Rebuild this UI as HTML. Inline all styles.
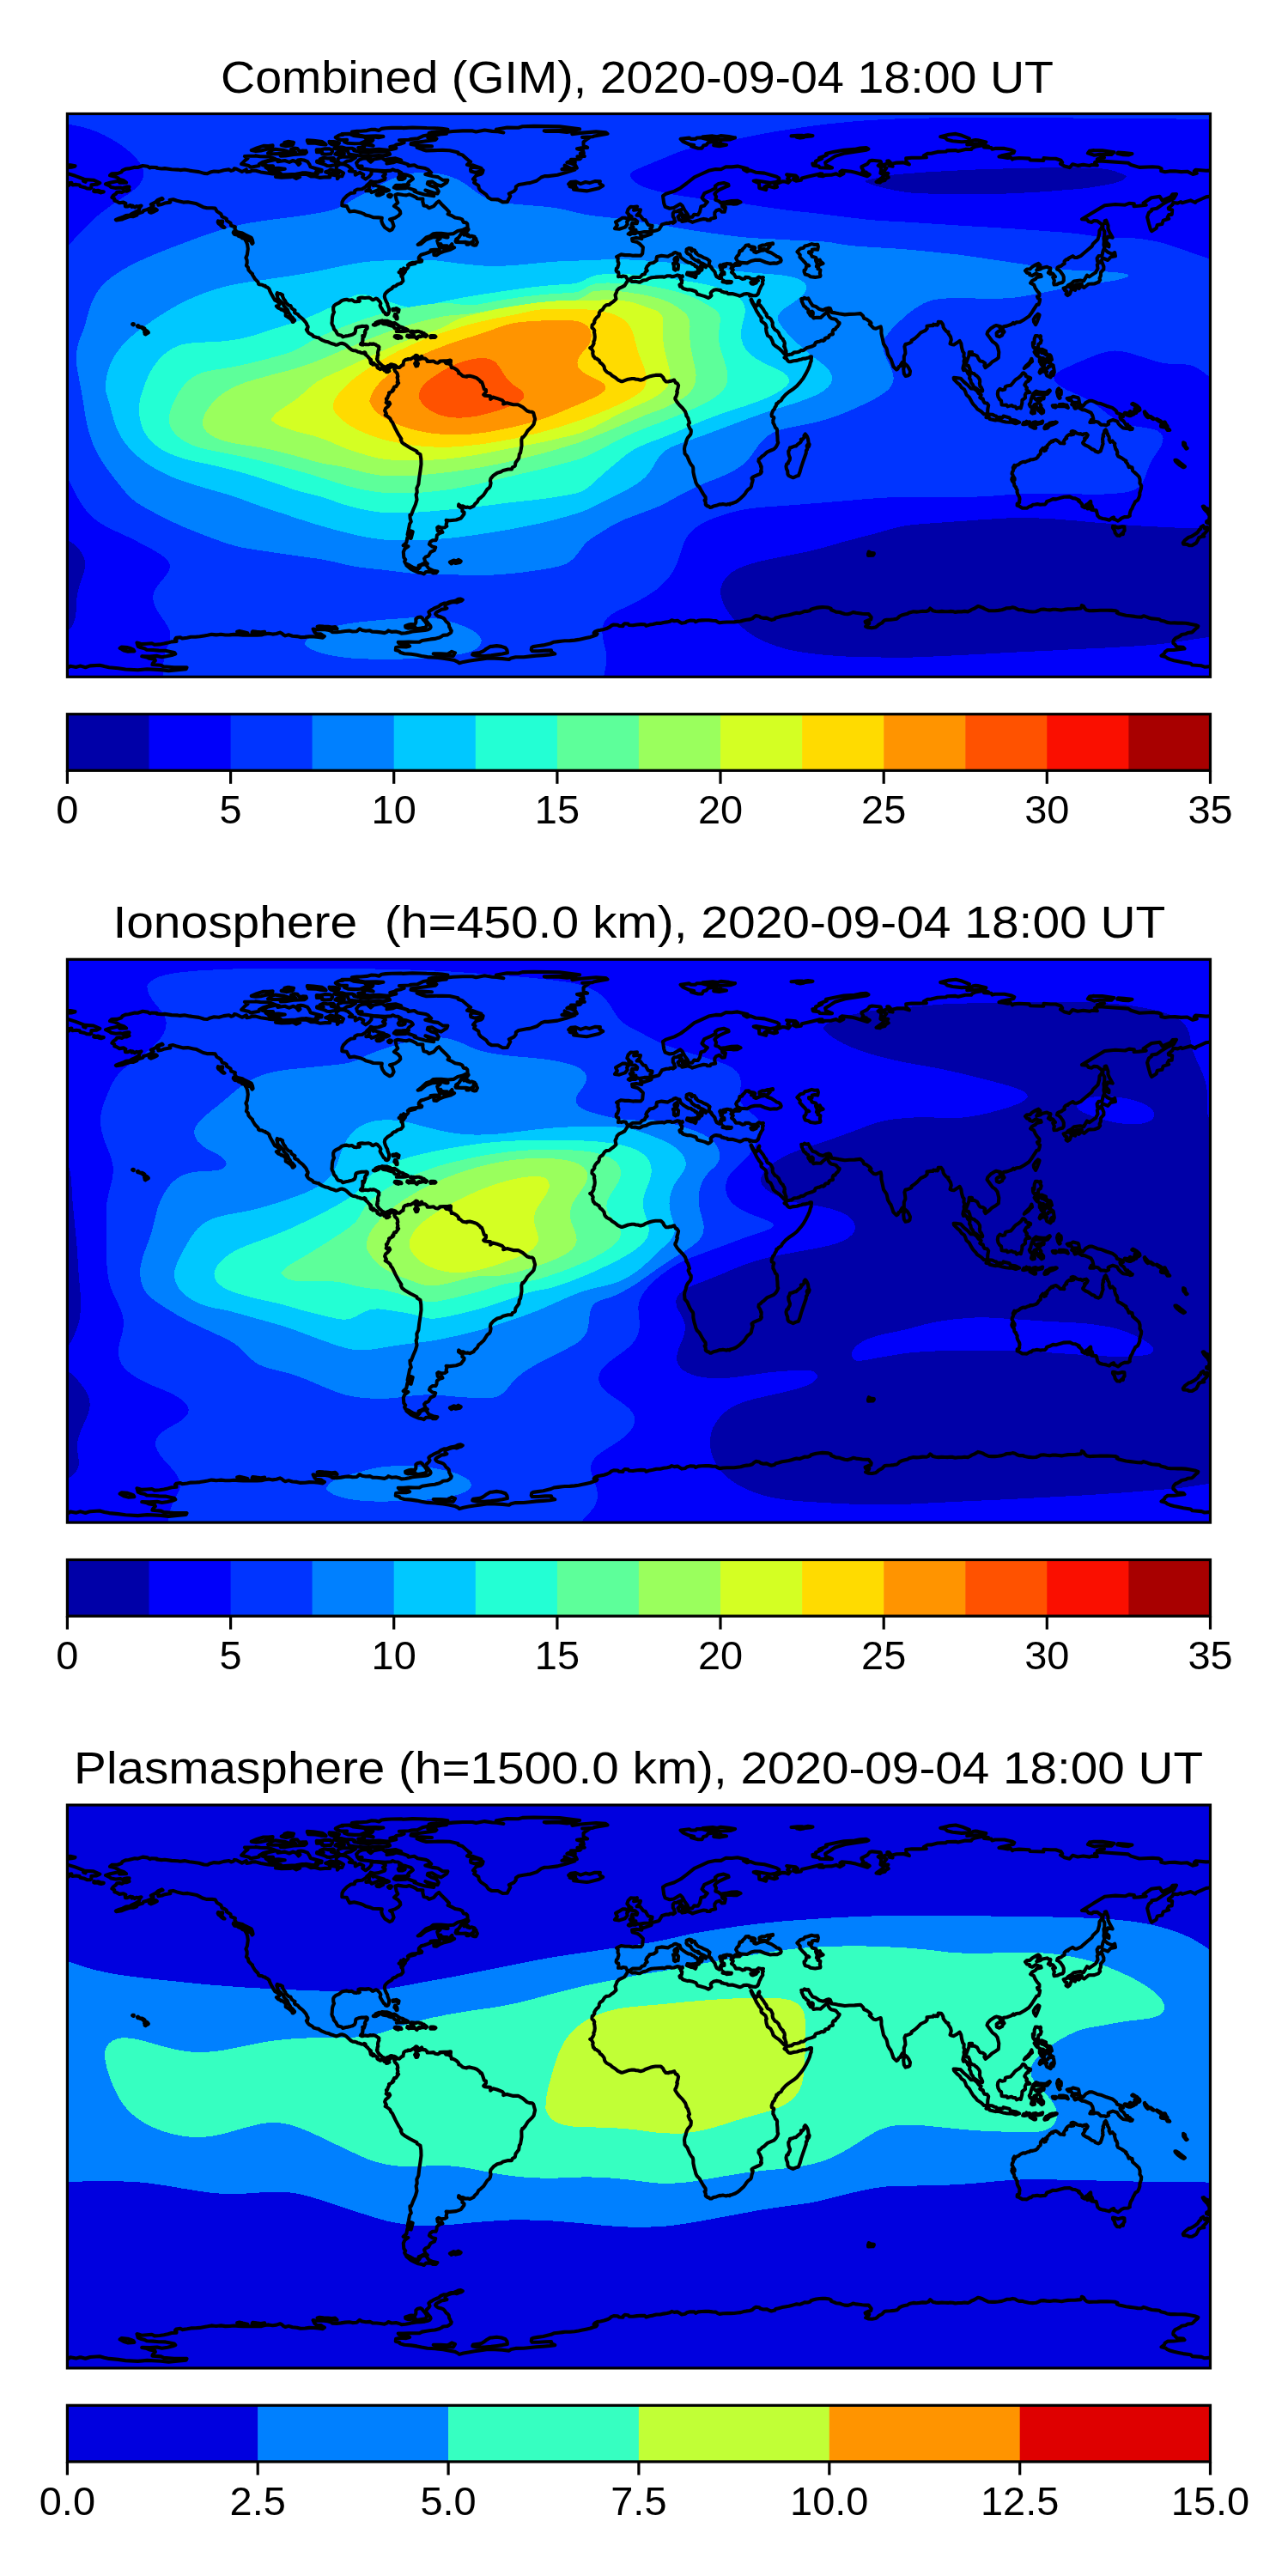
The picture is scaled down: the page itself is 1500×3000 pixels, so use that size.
<!DOCTYPE html>
<html lang="en">
<head>
<meta charset="utf-8">
<title>GIM TEC maps 2020-09-04 18:00 UT</title>
<style>
html,body{margin:0;padding:0;background:#fff;}
body{width:1500px;height:3000px;overflow:hidden;}
svg{display:block;will-change:transform;}
text{font-family:"Liberation Sans",sans-serif;fill:#000;}
.ttl{font-size:51px;}
.lbl{font-size:46.5px;}
.coast{fill:none;stroke:#000;stroke-width:4.1;stroke-linejoin:round;stroke-linecap:round;}
.frame{fill:none;stroke:#000;stroke-width:3.2;stroke-linejoin:miter;}
.tick{stroke:#000;stroke-width:3.2;}
</style>
</head>
<body>
<svg xmlns="http://www.w3.org/2000/svg" width="1500" height="3000" viewBox="0 0 1500 3000">
<rect width="1500" height="3000" fill="#fff"/>
<defs>
<clipPath id="axclip"><rect x="0" y="0" width="1331.1" height="655.8"/></clipPath>
<g id="coast" class="coast">
<path d="M391.3 502.7L394.9 499.4L396.1 493.2L400.3 494.5L402.3 486.7L399.7 485.7L398.6 490.4L396.2 489.9L397.4 484.5L398.7 477.6L400.4 475L399.3 471.3L399 467.2L400.6 467L402.9 461L405.5 455L407.1 449.4L406.2 443.8L407.3 440.7L406.9 436L409 431.5L409.8 424.2L411 416.4L412.1 408.1L411.9 401.9L411.1 396.7L407.3 394.5L407 393L399.6 389.2L392.8 385.1L389.9 382.8L388.4 379.7L389 378.6L385.8 373.7L382.1 366.8L378.6 359.3L377 357.6L375.9 354.8L372.9 352.4L370.3 350.9L371.5 349.2L369.7 345.7L370.8 343L373.8 340.6L375.8 337.9L375 336.2L373.6 338L371.3 336.3L372.1 335.3L371.5 331.9L372.8 331.3L373.5 328.9L374.9 326.5L374.6 325L376.7 324.2L379.2 322.7L378.7 321.6L380.1 321.3L380 319.4L380.8 318L382.7 317.8L384.3 315.4L385.7 313.5L384.3 312.6L385 310.4L384.2 307L385 306L384.4 302.8L382.9 300.8L381.7 299.8L380.8 297.7L381.8 296.7L380.8 296.5L380.1 295.2L378.3 294.2L376.6 294.4L375.9 295.7L374.4 296.7L373.5 296.8L373.2 297.6L375 299.6L373.9 300.1L373.4 300.7L371.6 300.8L371 298.6L370.5 299.2L369.3 299L368.5 297.5L367 297.2L366 296.8L364.4 296.8L364.3 297.7L363.8 297.1L361.8 296.2L361 295.4L361.5 294.8L361.3 294L360.3 293.1L358.8 292.3L357.5 291.8L357.3 290.8L356.3 290.1L356.5 291.2L355.8 292.1L354.9 291.1L353.7 290.7L353.2 289.9L353.2 288.8L353.7 287.6L352.7 287.1L353.5 286.3L352.2 285.2L350.5 283.6L349.7 282.4L348.1 281.2L346.2 279.5L346.6 279L347.3 279.5L347.5 279.3L346.9 278.1L345.8 277.8L345.3 278.6L343.2 278.6L341.8 278.2L340.2 277.5L338.2 277.2L337.1 276.4L335.2 275.8L332.9 275.7L331.1 274.9L329.1 273.4L324.9 269.4L322.9 268.2L319.9 267.2L317.8 267.5L314.8 268.9L312.9 269.3L310.2 268.2L307.4 267.5L303.9 265.8L301.1 265.3L296.9 263.6L293.7 261.8L292.8 260.7L290.7 260.5L286.8 259.4L285.3 257.6L281.3 255.5L279.4 253.1L278.5 251.3L279.7 251L279.3 249.9L280.2 248.9L280.2 247.6L279 245.9L278.6 244.4L277.4 242.6L274.1 238.8L270.3 235.9L268.5 233.6L265.2 232L264.6 231.1L265.1 228.8L263.2 227.9L261 226.1L260.1 223.5L258 223.2L255.9 221.2L254.1 219.4L254 218.2L251.9 215.4L250.6 212.5L250.7 211.1L248 209.6L246.7 209.8L244.5 208.7L243.9 210.3L244.6 212.1L245 214.9L246.2 216.4L249 219L249.6 219.9L250.2 220.2L250.7 221.4L251.4 221.4L252.1 223.8L253.2 224.7L254.1 226.1L256.4 228L257.7 231.5L258.8 233.1L259.8 234.8L260 236.8L261.8 236.9L263.3 238.7L264.7 240.4L264.6 241L263 242.4L262.4 242.4L261.3 240.1L258.9 238L256.2 236.2L254.3 235.2L254.4 232.5L253.8 230.4L252 229.3L249.5 227.6L249 228.1L248 227.1L245.7 226.2L243.5 224L243.8 223.7L245.3 223.9L246.7 222.5L246.9 220.8L244 218.2L241.8 217.1L240.4 214.8L239 212.3L237.3 209.3L235.7 206L235.1 204L232.7 201.9L230.9 201.5L230.5 200.4L228.4 200.2L227.1 199.2L223.6 198.8L222.7 198.2L222.2 196.1L218.6 192.4L215.4 187.2L215.6 186.3L213.9 185.1L211 181.9L210.5 178.9L208.5 176.8L209.3 173.7L209.2 170.5L208 167.6L209.5 164.1L210.4 157.3L209.7 152.3L208.5 149.1L207.4 147.3L207.8 146.6L213.3 147.9L215.3 151.4L216.2 150.4L215.6 147.3L214.3 144.3L206.6 140.6L203.9 139L197.1 137.4L195 134.1L195.5 131.8L190.7 130.2L190.1 127.2L185.6 124.5L185.5 122.5L183.4 121.1L180.1 119.9L179 116.7L174.2 113.6L172.2 110.1L168.6 109.8L162.6 109.8L158.2 108.7L150.5 104.8L146.9 104.1L140.3 102.8L135.1 103.1L127.7 101.3L123.3 99.8L119.2 100.5L119.9 103.1L117.8 103.4L113.5 104.1L110.2 105.4L106 106.2L105.5 104L107.2 100.3L111.2 99.2L110.2 98.3L105.4 100.3L102.8 102.8L97.4 105.5L100.2 107.3L96.6 110L92.6 111.6L88.8 112.7L87.9 114.4L82 116.3L80.9 118.1L76.5 119.7L73.9 119.4L70.4 120.4L66.6 121.7L63.5 123L57 124L56.5 123.4L60.6 121.6L64.2 120.5L68.2 118.5L72.9 118L74.7 116.5L79.9 114.2L80.8 113.5L83.5 112.2L84.2 109.3L86.1 107.1L81.8 108.2L80.5 107.6L78.5 109L76.1 107.1L75.1 108.4L73.6 106.5L69.9 108L67.6 108L67.3 105.8L68 104.4L65.5 103.1L60.7 103.8L57.5 102L54.9 101.1L54.9 99L52 97.4L53.5 95.3L56.5 93.2L57.9 91.2L60.9 91L63.5 91.6L66.5 89.8L69.3 90.1L72.1 88.9L71.4 87.2L69.3 86.6L72.1 85.1L69.8 85.1L65.8 86L64.6 86.8L61.7 86L56.4 86.4L50.9 85.5L49.3 84L44.6 81.8L49.8 80.2L58.2 78.4L61.3 78.4L60.8 80.3L68.7 80.1L65.7 77.8L61 76.4L58.4 74.5L54.8 72.9L49.6 71.7L51.7 69.8L58.4 69.6L63.1 67.9L64 66.1L67.8 64.3L71.5 63.9L78.6 62.2L82 62.5L87.8 60.5L93.5 61.3L96.2 63L97.9 62.2L104.2 62.5L104 63.3L109.7 64L113.5 63.6L121.4 64.8L128.6 65.1L131.5 65.6L136.5 65L142.2 66.1L146.3 66.7L153.3 67.6L159.2 69.4L163.1 69.7L166.4 68.1L170.9 67L176.5 67.4L182.1 65.8L188.3 64.9L190.8 66.4L193.6 65.5L194.5 63.8L197 64.2L203.4 67.5L208.4 65L208.9 67.8L213.5 67.2L214.9 66.1L219.5 66.3L225.2 67.9L234 69.3L239.1 69.9L242.8 69.7L247.8 71.6L242.6 73.4L249.3 74.2L259.5 73.8L262.7 73.1L266.7 75.4L270.8 73.5L266.9 71.9L269.3 70.6L273.9 70.5L276.9 70.1L279.9 71L283.7 73L287.9 72.7L294.5 74.4L300.3 73.8L305.8 73.9L305.4 71.6L308.7 70.9L314.5 72.2L314.5 75.7L316.9 72.7L319.9 72.8L321.6 69.1L317.6 66.7L313.2 65.2L313.5 61.1L317.9 58.4L322.9 59L326.7 60.6L331.8 64.9L328.4 66.7L335.4 67.5L335.4 71.3L340.4 68.4L344.9 70.8L343.8 73.6L347.4 76.1L351.3 73.4L354 70.2L354.3 66L359.6 66.3L365.1 66.9L370.2 68.7L370.4 70.6L367.6 72.6L370.2 74.6L369.7 76.4L362.4 79L357.2 79.6L353.3 78.5L352.2 80.3L348.6 83.5L347.5 85.1L343.2 87.7L337.8 88L334.8 89.5L334.6 92L330.2 92.4L325.6 95.5L321.6 99.7L320.1 102.6L319.9 107L325.4 107.6L327.1 111.1L328.8 114L334.1 113.2L341.1 114.9L344.8 116.3L347.5 118L352.2 119.1L356.2 120.7L362.4 120.9L366.4 121.2L365.8 124.5L367 128.2L369.7 132.4L375.3 136L378.2 134.8L380.2 130.9L378.3 125L375.6 123L381.6 121.3L385.8 118.6L387.9 116.1L387.6 113.5L385.1 110.4L380.5 107.6L384.9 103.6L383.3 100.2L382 94.4L384.7 93.5L391.1 94.5L394.9 94.9L398.1 93.9L401.5 95.1L406.2 97.3L407.3 98.8L414 99.1L413.9 102.2L415.1 107L418.6 107.6L421.3 109.8L426.7 107.7L430.3 103.5L432.8 101.8L435.7 105.2L440.6 109.9L444.7 114.4L443.2 116.8L448.2 118.9L451.6 121L457.5 122L460 123.2L461.4 126.4L464.4 126.8L465.9 128.3L466.2 132.5L463.4 133.9L460.7 135.2L454.6 136.6L449.8 139.6L443.5 140.2L435.5 139.4L429.9 139.4L426 139.7L422.8 142.4L418 144L412.6 149L408.3 152.4L411.5 151.8L417.5 146.9L425.4 143.8L431 143.4L434.3 145.2L430.8 147.8L432 151.8L433.2 154.6L438.1 156.5L444.3 156L448 151.7L448.3 154.5L450.7 155.8L446.1 158.3L437.8 160.5L434 162L429.9 164.7L427 164.4L426.9 161.3L433.3 158.2L427.3 158.3L423.2 158.7L423.9 160L419.8 161.8L416 163.1L412 164.2L410 166.4L409.4 167.2L409.3 169.2L410.6 171.2L412.2 171.3L411.7 169.9L412.9 170.8L412.6 171.9L410.1 172.5L408.3 172.4L405.5 173.1L403.8 173.2L401.7 173.4L398.5 174.5L404.1 173.8L405.1 174.5L399.9 175.6L397.5 175.6L397.6 175.2L396.5 176.2L397.6 176.4L396.8 179.1L394 182L393.8 181L393 180.8L391.7 179.9L392.5 181.9L393.4 182.6L393.5 184L392.3 185.4L390.2 188.4L389.8 188.3L391 185.7L389.1 184.3L388.6 181.2L387.9 182.8L388.7 185.2L386.2 184.6L388.8 185.8L389 189.4L390.1 189.6L390.4 190.9L391 194.7L388.6 197.5L384.7 198.6L382.3 200.7L380.4 201L378.5 202.4L378 203.6L373.8 206.1L371.7 207.9L369.9 210.1L369.4 212.7L370 215.3L371.3 218.5L372.9 221.2L373 222.8L374.7 227.2L374.6 229.7L374.5 231.1L373.5 233.4L372.4 233.9L370.6 233.5L370 231.8L368.5 231L366.6 227.7L364.8 224.8L364.2 223.4L365 220.9L364 218.8L361 215.7L359.6 215.1L355.8 216.8L355.1 216.6L353.3 214.9L351 214L346.7 214.5L343.4 214.1L340.5 214.3L339 214.9L339.7 215.9L339.6 217.4L340.4 218.1L339.7 218.6L338.3 218.1L336.9 218.8L334.2 218.7L331.4 216.7L328.1 217.2L325.4 216.3L323 216.6L319.9 217.4L316.5 220.2L312.8 221.8L310.7 223.6L309.8 225.3L309.8 227.9L310 229.7L310.7 231L309.2 234.2L308.6 236.9L308.3 242L308 243.8L308.6 245.8L309.8 247.7L310.5 250.6L313 253.4L313.9 255.5L315.3 257.3L319.3 258.3L320.9 259.9L324.2 258.9L327 258.5L329.8 257.8L332.2 257.1L334.6 255.6L335.5 253.4L335.8 250.3L336.4 249.2L339 248.2L342.9 247.4L346.2 247.5L348.5 247.2L349.4 248L349.3 249.8L347.3 252L346.4 254.3L347.1 254.9L346.5 256.5L345.6 259.5L344.6 258.5L343.8 258.6L343.8 259.1L344.6 259.1L344.5 260.1L343.9 261.8L344.2 262.4L343.8 263.7L344.1 264L343.6 266L342.9 266.9L342.2 267.1L341.5 268.4L342.7 269L343 268.5L344.1 269L344.5 269.1L345.3 268.5L346.4 268.4L346.8 268.7L347.3 268.5L349.1 268.8L350.8 268.8L352 268.4L352.5 267.9L353.7 268.1L354.6 268.4L355.5 268.3L356.3 267.9L358 268.5L358.6 268.5L359.7 269.3L360.8 270.1L362.2 270.7L363.1 271.7L362.8 272.1L362.7 272.9L363 274.3L362.2 275.5L361.8 277L361.6 278.7L361.8 279.7L361.9 281.4L361.3 281.7L361 283.3L361.3 284.3L360.5 285.3L360.7 286.3L361.2 286.9L362.2 288.9L363.6 290.4L365.4 292L366.7 293.4L366.7 294.2L368.2 294.4L368.5 294.1L369.6 295L371.4 294.7L373 293.8L375.3 293L376.6 291.9L378.6 292.1L378.5 292.5L380.6 292.6L382.2 293.2L383.5 294.4L384.9 295.4L386.8 295.5L389.6 292.9L391.2 292.5L391.2 291.3L391.9 288.1L394 286.4L396.4 286.3L396.7 285.5L399.7 285.8L402.6 283.9L404.1 283.1L405.9 281.3L407.2 281.5L408.2 282.5L407.5 283.8L407.4 284.7L405.1 285.1L406.4 286.8L406.3 288.7L404.7 290.9L406.1 293.9L407.7 293.6L408.6 290.9L407.4 289.6L407.2 286.8L411.9 285.3L411.4 283.5L412.7 282.3L414 285L416.7 285L419.1 287.1L419.2 288.4L422.6 288.4L426.6 288L428.7 289.7L431.6 290.1L433.7 289L433.8 288L438.4 287.8L442.9 287.7L439.7 288.8L441 290.6L444 290.9L446.8 292.7L447.4 295.7L449.4 295.7L450.9 296.5L453.3 297.9L455.7 300.4L455.8 302.3L457.2 302.4L459.2 304.2L460.6 305.5L465.1 306.3L465.6 305.6L468.6 305.3L472.6 306.3L473.9 306.7L476.6 307.6L480.6 310.8L481.2 312.3L482.5 312.2L483.4 314.2L485.5 320.8L487.6 321.4L487.6 324L484.8 327.1L486 328.2L492.6 328.8L492.8 332.5L495.6 330.1L500.3 331.4L506.5 333.7L508.4 335.9L507.8 338L512.1 336.8L519.4 338.8L525 338.7L530.6 341.8L535.4 346L538.3 347L541.4 347.2L542.8 348.4L544.1 353.2L544.7 355.4L543.2 361.6L541.3 364.1L536 369.3L533.6 373.5L530.9 376.8L529.9 376.8L528.9 379.6L529.1 386.6L528.1 392.4L527.7 394.9L526.5 396.3L525.8 401.3L522.1 406.2L521.4 410.1L518.4 411.7L517.5 414L513.4 414L507.5 415.4L504.9 417.1L500.7 418.2L496.3 421.2L493.1 424.9L492.5 427.7L493.2 429.8L492.5 433.5L491.6 435.3L489 437.4L484.8 444L481.5 447L479 448.8L477.3 452.3L474.8 454.4L473.2 456.8L468.9 458.9L466.2 458.1L464.1 458.5L460.7 456.9L458.1 457L455.8 455L455.6 456.9L460.3 460.1L459.9 462.7L462.2 464.3L462 466.2L458.4 471L452.8 473L445.3 473.8L441.2 473.4L442 475.6L441.2 478.4L441.9 480.3L439.6 481.7L435.8 482.2L432.2 480.8L430.8 481.8L431.3 485.5L433.8 486.6L435.9 485.4L437 487.4L433.5 488.5L430.5 490.9L430 494.7L429.1 496.7L425.5 496.7L422.6 498.6L421.5 501.4L425.2 504.1L428.8 504.9L427.5 508.3L423.1 510.4L420.6 514.8L417.2 516.2L415.7 518L416.9 521.9L419.4 524.1L417.8 523.9L414.5 523.8L412.7 524.8L409.3 526.1L408.7 529.6L407.1 529.7L402.9 528.5L398.6 525.9L393.9 523.7L392.7 521.4L393.8 519.2L391.9 516.7L391.4 510.3L393 506.7L397 503.8L391.3 502.7"/>
<path d="M417.6 525.2L419 526.9L420.9 529.7L425.8 531.9L431 532.9L429.3 534.8L425.8 534.9L423.9 533.6L421.6 533.5L417.6 533.5L415.3 535.9L412.6 534.8L408.7 534.2L404 532.1L400.1 530.1L395 525.9L398.1 526.7L403.3 529.2L408.3 530.5L410.2 528.8L411.4 526.2L414.9 524.7L417.6 525.2"/>
<path d="M445.5 522.2L450 520L453.1 520.9L455.4 519.4L458.4 521.1L457.3 522.4L452.2 523.5L450.5 522.2L447.3 523.9L445.5 522.2"/>
<path d="M499.6 18.2L512.2 16L525.3 16.2L530.1 14.8L543.4 14.4L573.3 14.9L596.7 17.9L589.8 19.3L575.5 19.5L555.3 19.9L557.2 20.5L570.5 20.1L581.8 21.4L589.1 20.3L592.2 21.6L588 23.8L597.6 22.4L615.8 20.9L627 21.7L629.1 23.3L613.8 25.9L611.7 26.8L599.7 27.4L608.4 27.6L604.1 30.4L601.1 32.8L601.2 36.9L605.7 39.4L599.8 39.6L593.6 40.7L600.6 42.7L601.4 45.9L597.4 46.2L602.3 49.5L594 49.8L598.3 51.3L597.1 52.6L591.8 53.2L586.5 53.2L591.3 55.7L591.3 57.4L583.9 55.8L582 56.8L587 57.8L591.9 60.1L593.4 63.1L586.7 63.8L583.8 62.4L579.2 60.2L580.4 62.8L576.1 64.7L585.9 64.9L591.1 65.1L581.1 68.4L570.9 71.3L559.9 72.6L555.8 72.6L551.9 74L546.7 78L538.6 80.6L536 80.8L531 81.7L525.7 82.6L522.4 84.9L522.4 87.5L520.5 90L514.4 93L515.9 95.9L514.2 99L512.3 102.7L507 102.9L501.5 99.9L494 99.8L490.3 97.8L487.8 94.1L481.3 89.5L479.4 87L478.9 83.6L473.7 80.2L475.1 77.4L472.6 76.1L476.3 71.7L481.9 70.3L483.4 68.8L484.2 65.8L479.9 67.2L477.8 67.7L474.5 68.3L469.9 67L469.6 64.5L471.1 62.5L474.6 62.4L482.2 63.4L475.8 61.1L472.4 59.8L468.7 60.3L465.6 59.4L469.7 55.9L467.5 54.5L464.5 51.9L460 47.9L455.2 46.5L455.2 44.9L445.2 42.7L437.2 42.4L427.2 42.6L418.1 42.9L413.7 41.7L407.2 39.3L417 38.1L424.6 37.9L408.6 36.9L400.1 35.5L400.6 34L414.8 32.2L428.5 30.4L430 29L419.9 27.7L423.1 26.2L436.1 23.6L441.6 23.2L440 21.5L448.9 20.5L460.4 19.9L472 19.9L476 21L486 19L494.9 20.4L500.2 20.6L508 21.9L499.1 19.9L499.6 18.2"/>
<path d="M620.5 78.8L619.7 81.3L623.9 83.8L619 86.7L608.2 89.3L605 89.9L600 89.4L589.6 88.2L593.3 86.6L585.1 84.7L591.8 84L591.6 82.9L583.7 82L586.2 79.6L591.9 79L597.8 81.6L603.5 79.5L608.2 80.6L614.3 78.6L620.5 78.8"/>
<path d="M350.4 53.7L353.3 56.1L356.8 53.1L366.3 51.5L372.7 55.4L372.1 57.9L379.6 56.8L383.1 55.3L391.4 57.2L396.6 58.9L397.1 60.6L404.1 59.7L408 62.1L417 63.6L420.3 65.1L423.8 68.6L416.9 70.4L425.8 72.8L431.7 73.6L437.1 77.1L443 77.3L441.9 80L435.3 84.3L430.6 82.7L424.8 79.1L419.9 79.6L419.4 81.7L423.4 83.9L428.5 85.6L430 86.6L432.4 90.3L431.2 93L426.4 92L417 89L422.3 92.3L426.2 94.5L426.8 95.8L416.7 94.3L408.6 92.1L404.1 90.3L405.4 89.3L399.8 87.4L394.3 85.5L394.4 86.6L383.5 87.2L380.4 85.9L382.8 83.2L389.9 83.1L397.6 82.6L396.4 81.3L397.7 79.4L402.5 75.8L401.5 74.1L400 72.8L394.3 71L386.7 69.7L389.1 68.8L385.1 66.4L381.8 66.2L378.9 64.9L376.9 66.1L370 66.6L356.4 65.7L348.5 64.6L342.4 64L339.3 62.7L343.2 61L337.9 61L336.7 57.2L339.6 53.9L343.4 52.3L353.1 51.3L350.4 53.7"/>
<path d="M355.6 81.8L356.3 83.5L358.2 82.9L360.4 83.9L364.5 85.2L368.8 86.3L369.1 88.1L371.9 87.8L374.6 89.1L371.2 90.3L365.4 89.4L363.3 87.7L359.6 89.7L354.3 91.6L352.9 89.4L347.9 89.8L351.2 87.9L351.6 85L352.9 81.5L355.6 81.8"/>
<path d="M464.5 137.9L462 141.2L464.4 140L466.9 140.8L465.6 142.1L468.9 143.1L470.7 142.2L474.4 143.3L473.2 146.1L475.9 145.4L476.3 147.4L477.5 149.7L475.9 153L474.2 153.2L471.8 152.5L472.6 149.4L471.5 149L467.2 152.2L465 152.1L467.6 150.3L464 149.4L460 149.6L452.7 149.5L452.1 148.4L454.5 147.1L452.8 146.1L456 143.8L459.9 137.8L462.2 135.7L465.4 134.4L467.2 134.6L466.5 135.6L464.5 137.9"/>
<path d="M366.4 241L369.7 241.3L372.6 241.3L376.2 242.6L377.7 244L381.1 243.5L382.5 244.4L385.6 246.7L388 248.4L389.2 248.4L391.5 249.1L391.2 250.2L394 250.4L396.8 251.9L396.3 252.8L393.9 253.2L391.3 253.4L388.8 253.1L383.4 253.5L385.9 251.4L384.4 250.4L381.9 250.2L380.7 249.1L379.8 247L377.6 247.1L374.1 246.1L373 245.3L368.1 244.7L366.8 244L368.2 243.1L364.5 242.9L361.9 244.8L360.3 244.9L359.8 245.8L357.9 246.2L356.3 245.8L358.3 244.7L359.1 243.3L360.8 242.5L362.7 241.8L365.5 241.4L366.4 241"/>
<path d="M400.5 253.2L402.8 253.4L406 254L406.5 253.4L409.4 253.4L411.7 254.4L412.6 254.3L413.3 255.6L415.4 255.5L415.3 256.6L416.9 256.8L418.8 258.2L417.4 259.7L415.6 258.9L413.9 259L412.6 258.8L412 259.5L410.5 259.8L409.9 258.8L408.7 259.4L407.2 261.9L406.2 261.3L406 260.3L403.6 259.7L401.8 259.9L399.5 259.6L397.8 260.3L395.7 259.2L396.1 258L399.5 258.5L402.4 258.8L403.7 257.9L402 256.3L402 254.9L399.6 254.3L400.5 253.2"/>
<path d="M384.1 258.6L386.6 258.9L388.6 259.8L389.2 260.9L386.6 260.9L385.4 261.6L383.3 261L381.2 259.6L381.6 258.8L383.2 258.5L384.1 258.6"/>
<path d="M426.4 258.5L428.3 258.8L429 259.6L428 260.5L425.2 260.5L423 260.6L422.8 259.1L423.3 258.5L426.4 258.5"/>
<path d="M384.2 238.9L383.3 239L382.3 236.9L380.9 235.8L381.7 233.4L382.9 233.6L384.2 236.7L384.2 238.9"/>
<path d="M383.1 228.3L379 228.9L378.8 227.5L380.5 227.2L383 227.3L383.1 228.3"/>
<path d="M386.2 228.3L385.6 230.9L384.9 230.4L384.9 228.5L383.2 227L383.2 226.6L386.2 228.3"/>
<path d="M443.7 287.6L445.8 287.1L446.6 287.2L446.4 290L443.3 290.4L442.6 290.1L443.7 289L443.7 287.6"/>
<path d="M211.8 146.1L209.9 146.6L203.8 144.9L202.7 143.6L199.3 142.3L198.6 141.2L194.8 140.6L193.3 138.5L193.6 137.6L197.6 138.5L199.9 139L203.4 139.4L204.7 140.7L206.5 142.5L210.3 144.1L211.8 146.1"/>
<path d="M175.6 124.9L177.3 125.4L180.9 125.1L179.8 129.4L183.1 132.4L181.6 132.4L179.3 130.6L177.9 128.9L176 127.7L175.3 126.1L175.6 124.9"/>
<path d="M100.4 110.7L102.9 110.9L104.5 112.1L101.2 113.8L97.5 115.3L95.5 114.3L95 112.6L98.4 111.2L100.4 110.7"/>
<path d="M31 88.9L33.3 89.6L35.7 89.2L38.7 90.2L42.4 90.7L42.1 91.1L39.3 91.9L36.4 91.1L35 90.4L31.7 90.6L30.8 90.3L31 88.9"/>
<path d="M433 141L434.3 140.7L439.2 141.6L443.1 143.2L443.2 143.9L441.4 143.9L436.5 142.8L433 141"/>
<path d="M434.9 151.6L436.2 153.5L438.9 153.9L442.4 153.9L440.6 155.4L439.2 155.6L434.4 154.1L433.5 152.8L434.9 151.6"/>
<path d="M91.7 256.4L91.2 257L90.2 256.5L90.3 255.4L89.7 254.1L89.9 253.7L90.6 253L90.3 252.3L90.5 251.9L90.8 252L92.2 252.6L92.9 253L93.5 253.5L94.5 254.8L94.4 255L92.9 255.8L91.7 256.4"/>
<path d="M89.7 250.6L88.5 250.8L87.8 250L87.4 249.7L87.3 249.5L87.7 249.2L89 249.5L90 250.1L89.7 250.6"/>
<path d="M87.1 248.5L87 248.9L85 248.8L85.3 248.4L87.1 248.5"/>
<path d="M83.8 248L83.6 248.2L83.3 248.2L82 248L81.6 247.2L81.4 247L82.4 246.5L82.7 246.8L83.8 248"/>
<path d="M77.4 245.5L77 245.9L75.7 245.2L75.9 244.9L76.5 244.6L77.4 244.7L77.4 245.5"/>
<path d="M652.7 193.9L655.5 193.9L657.7 195.5L661.3 195.2L665.2 196.1L666.8 196.1L670.4 194.1L674.4 193.4L676.8 191.9L680.4 190.7L686.8 190.1L693 189.7L694.9 190.3L698.4 188.8L702.4 188.8L703.9 189.7L706.5 189.4L710.6 187.9L713.2 188.4L713.1 190.3L716.3 188.9L716.5 189.6L714.7 191.5L714.6 193.2L715.9 194.1L715.5 197.4L713 199.2L713.7 201.3L715.6 201.3L716.6 203.1L718 203.7L722.4 205L724 204.7L727.1 205.3L732.1 207L733.8 210.3L737.2 211.1L742.5 212.6L746.5 214.5L748.3 213.5L750.1 211.8L749.2 208.9L750.4 207.1L753.1 205.3L755.7 204.8L760.8 205.6L762.1 207.3L763.5 207.3L764.7 207.9L768.4 208.4L769.3 209.6L774.3 209.5L777.9 210.5L781.6 211.6L783.3 212.2L786.2 211L787.8 210L791.1 209.6L793.8 210.1L794.8 212L795.6 210.8L798.6 211.7L801.6 211.8L803.4 210.9L804.5 209.7L804.3 209.4L805.2 207.7L806 204.9L806.5 203.9L806.7 203.9L808 200.8L809.8 198.2L809.9 198.1L809.6 195.2L810.5 193.7L809.1 192L810.5 190.6L808.2 190.9L805.1 190L802.5 192.2L796.8 192.6L793.8 190.6L789.7 190.4L788.9 192L786.3 192.5L782.7 190.4L778.6 190.5L776.4 186.8L773.6 184.7L775.4 181.8L773.1 180L777.2 176.4L783 176.3L784.6 173.4L791.7 173.9L796.2 171.5L800.6 170.4L806.8 170.4L813.3 173L818.7 174.4L823.1 173.9L826.3 174.2L830.7 172.2L831.3 170.7L830.3 168.1L828.2 166.7L826.1 166.3L824.8 165.1L820 162L815.7 160.5L812.5 158.4L815.2 157.8L818.3 154.6L816.2 153.1L821.7 151.6L821.6 150.8L818.2 151.4L815.3 151.7L812.8 152.9L809.2 153.1L806 154.5L806.2 156.8L808.1 157.7L811.9 157.5L811.2 158.9L807.1 159.5L802 161.7L799.9 160.9L800.7 159.2L796.6 158L797.3 157.3L800.9 156.1L799.8 155.2L793.9 154.3L793.7 152.9L790.2 153.3L788.8 155.4L785.9 158.2L786 159.1L784.2 159.9L783.1 159.6L782 164.1L780.1 165.7L778.7 168.3L779.9 170.5L780.4 171.9L783.6 173.1L783 174.1L778.5 174.3L776.9 175.4L773.8 177.4L772.6 175.7L772.6 174.9L770.4 174.8L768.4 174.4L763.8 175.4L766.5 177.6L764.5 178.2L762.4 178.2L760.5 176.2L759.8 177L760.6 179.3L762.5 181L761.1 181.9L763.2 183.6L765 184.7L765.1 186.8L761.6 185.8L762.7 187.7L760.3 188.1L761.7 191.4L759.3 191.5L756.2 189.8L754.8 186.8L754.1 184.3L752.7 182.6L750.7 180.5L750.5 179.4L749.8 179.2L749.8 178.3L747.7 177.1L747.4 175.3L747.7 172.7L748.2 171.6L747.6 171L746.8 170.7L745.7 169.5L744.1 168.7L740.6 167.3L738.4 166L735 164.8L731.8 162.1L732.6 161.8L730.9 160.2L730.8 159L728.4 158.4L727.2 160L726.1 158.7L726.2 157.5L726.4 157.4L727.2 157.1L724.2 156.5L721.2 157.8L721.3 159.7L720.9 160.8L722.1 162.7L725.7 164.5L727.5 167.7L731.7 170.7L734.7 170.7L735.6 171.5L734.5 172.2L737.9 173.6L740.6 174.7L743.8 176.7L744.2 177.4L743.5 178.7L741.4 177L738.2 176.4L736.6 178.8L739.3 180.2L738.9 182.1L737.3 182.3L735.3 185.5L733.7 185.8L733.8 184.7L734.5 182.7L735.3 181.9L733.9 179.7L732.7 177.8L731.2 177.4L730 175.8L727.6 175L726 173.5L723.3 173.3L720.3 171.6L716.9 169.2L714.3 167L713.2 163.3L711.3 162.9L708.3 161.6L706.5 162.1L704.4 163.9L702.8 164.2L699.4 166.3L692 165.3L686.6 166.5L686.1 168.7L686.3 170.9L682.8 173.4L678 174.2L677.6 175.5L675.3 177.6L673.9 180.6L675.3 182.7L673.2 184.4L672.4 186.8L669.5 187.6L666.9 190.5L658.5 190.4L656.2 191.8L654.8 193.2L652.9 192.9L651.5 191.6L650.5 189.5L647 188.9L645.5 189.8L643.5 189.3L641.6 189.7L642.1 186.8L641.8 184.5L640.1 184.1L639.2 182.7L639.5 180.3L641 178.9L641.3 177.4L642 175.2L642 173.6L641.2 172.2L641.1 171L641.3 168.3L639.7 166.6L645 163.9L649.6 164.6L654.6 164.6L658.6 165.3L661.7 165L667.8 165.2L669.8 162.9L670.5 155.5L666.6 151.5L663.8 149.6L658.1 148.2L657.7 145.5L662.6 144.6L668.9 145.6L667.7 141.4L671.2 143L680 140L681.1 137L684.3 136.2L687.3 135.5L689.3 134.5L692.6 128.9L697.7 127.4L700.8 127.5L701.6 126.7L704.7 126.5L705.4 127.3L707.9 125.5L707.1 124L706.9 121.9L705.4 119.8L705.3 116L705.9 115L706.9 113.9L710.2 113.7L711.6 112.6L714.6 111.6L714.5 113.5L713.4 114.7L713.8 115.8L715.8 116.3L714.9 117.7L713.8 117.3L711.1 120L712.1 121.9L712.2 123.3L716 124.2L715.9 125.5L719.8 124.8L721.9 123.8L726.1 125.2L727.9 126.4L730.4 125.4L736.3 123.6L741 122.4L744.7 123L745 123.9L748.6 123.9L749.5 122.3L754.7 121.1L753.9 117.9L754 115.1L755.8 112.8L759.4 111.5L762.4 114.3L765.4 114.2L766.1 111.3L766.5 109.1L765.1 109.6L762.8 108.3L762.4 106.1L767.2 105L771.9 104.5L776 105.1L779.8 105L784.1 102.9L780.2 101.2L773.4 101.5L766.8 102.8L760.7 103.6L758.5 101.6L754.9 100.4L755.7 96.6L753.9 93.3L755.7 91.1L759.1 88.7L767.7 84.7L770.2 83.9L769.8 82.3L764.5 80.5L758.1 81.6L754.5 84.2L755.1 86.5L749.1 89.5L741.9 92.7L739.1 98L741.8 100.7L745.4 102.8L741.9 107L738 107.9L736.6 114.1L734.5 117.7L729.9 117.3L727.8 120.3L723.4 120.4L722.3 116.9L719.1 112.6L716.3 107.3L713.8 105L706.3 109.4L701.4 110.2L696.2 108.3L694.8 104.3L693.6 95.7L697.1 93.3L707 90.1L714.4 86.2L721.3 81L730.3 73.8L736.6 71L746.8 66.3L755.1 64.6L761.2 64.8L767 61.7L773.8 61.9L780.6 61.1L792.3 63.9L787.5 64.9L791.5 67.2L795.4 65.9L801.6 68.2L811.8 69.1L826 73.3L828.9 75.1L829.1 77.6L825 79.6L818.8 80.6L802.1 77.7L799.3 78.2L805.5 80.9L805.7 82.7L805.9 86.5L810.8 87.7L813.7 88.6L814.2 86.8L811.9 85.2L814.3 83.8L823.4 86.1L826.6 85.2L824 82.4L832.7 78.8L836.2 79L839.7 80.3L841.9 77.7L838.8 75.5L840.6 73.3L837.8 70.9L848.3 72.1L850.5 74.2L845.8 74.7L845.8 76.8L848.7 78.1L854.5 77.3L855.4 74.9L863.3 73.1L876.4 69.9L879.2 70L875.5 72.3L880.1 72.7L882.8 71.4L889.9 71.3L895.4 69.8L899.7 72L904 69.6L900 67.4L902 66.1L913 67.3L918.2 68.5L931.8 72.7L934.3 70.8L930.5 68.8L930.4 68L925.9 67.6L927.1 65.8L925.1 62.9L925 61.7L931.9 58.3L934.4 54.9L937.2 54.2L947.1 55.2L947.9 57.3L944.3 60.3L946.7 61.5L947.9 64.1L947 69.3L951.2 71.5L949.5 74L942.2 79.4L946.5 79.9L948 78.6L952.1 77.6L953.1 75.8L956.3 74L954.2 71.8L955.9 69.4L951.8 69.1L950.9 67L953.9 63.2L949 60.1L955.7 57.6L954.9 55L956.7 54.9L958.7 57L957.2 60.6L961.2 61.3L959.5 58.6L965.8 57.1L973.6 56.9L980.5 59L977.2 55.9L976.8 51.9L983.3 51.2L992.4 51.3L1000.5 50.8L997.4 48.9L1001.8 46.4L1006.1 46.3L1013.4 44.4L1023.3 44L1024.5 42.9L1034.4 42.6L1037.4 43.4L1045.8 41.4L1052.7 41.5L1053.8 39.9L1057.3 38.3L1066.2 36.7L1072.6 38L1067.5 38.9L1076 39.5L1077 41.3L1080.4 40.4L1091.4 40.4L1099.9 42.3L1102.9 43.7L1102 45.6L1097.8 46.7L1087.9 48.8L1085.1 49.9L1089.8 50.4L1095.3 51.4L1098.7 50.7L1100.6 53.1L1102.3 52.1L1108.3 51.5L1120.3 52.1L1121.2 53.9L1136.9 54.4L1137.1 51.6L1145.1 52.2L1151.1 52.2L1157.1 54.2L1158.8 56.6L1156.6 58.2L1161.3 61.1L1167.2 62.6L1170.8 58.7L1176.8 60.4L1183.2 59.4L1190.5 60.5L1193.2 59.5L1199.4 60L1196.7 56.5L1201.6 54.9L1235.5 57.3L1238.7 59.5L1248.5 62.4L1263.7 61.7L1271.1 62.3L1274.2 63.9L1273.8 66.6L1278.4 67.7L1283.4 66.9L1290 66.8L1297.1 67.6L1304.3 67.2L1310.8 70.5L1315.4 69.3L1312.4 66.9L1314 65.2L1326 66.3L1333.8 66L1344.6 67.8L1349.9 69.5"/>
<path d="M0 69.5L9.2 72.3L19 76L18.7 78.4L21.2 79.3L20.4 76.6L30.5 77.2L37.9 80.6L34.2 82.3L28 82.7L27.9 86.3L26.4 87.1L22.9 87L20.1 85.7L15.1 84.6L14.2 83L10.4 82.4L6.1 82.9L4.1 81.5L4.9 80.2L0.4 81.1L2.1 82.8L0 84.4"/>
<path d="M1349.9 84.4L1345 86.1L1340.1 85.8L1343.5 87.8L1345.8 90.9L1347.5 91.9L1347.9 93.4L1347 94.4L1340 93.6L1329.5 96.4L1326.2 96.9L1320.4 99.5L1315 101.8L1313.6 103.5L1308.2 100.9L1298.4 103.8L1296.8 102.5L1293.2 104.1L1288.1 103.5L1286.9 106L1282.4 109.6L1282.6 111.1L1286.8 112L1286.3 117.4L1282.9 117.6L1281.2 120.7L1282.8 122.3L1276.3 124.3L1274.9 128.5L1269.4 129.4L1268.2 133.3L1262.8 136.7L1261.4 134.2L1259.8 128.7L1257.7 120.4L1259.5 115.2L1262.7 112.9L1262.9 111.2L1268.7 110.3L1275.4 105.6L1281.9 101.8L1288.6 98.8L1291.6 93.5L1287.1 93.8L1284.8 96.9L1275.3 101L1272.2 96.4L1262.6 97.7L1253.2 104L1256.3 106.3L1247.9 107.3L1242.1 107.6L1242.4 104.9L1236.5 104.3L1231.9 106.2L1220.5 105.5L1208.1 106.7L1196 114L1181.6 122.8L1187.5 123.3L1189.3 125.6L1193 126.4L1195.4 124.6L1199.5 124.8L1204.9 128.9L1205 132.1L1202.1 135.9L1201.8 140.3L1200.1 146.3L1194.4 151.8L1193.2 154.4L1188.1 158.7L1183.1 163L1180.6 165.3L1175.6 167.5L1173.3 167.5L1170.9 165.7L1165.9 168.4L1165.3 169.7L1163.9 169.5L1162.3 170.7L1161.1 172L1161.3 174.7L1159.3 175.5L1158.7 176.2L1157.2 177.3L1154.8 177.9L1153.1 178.9L1153 180.5L1152.6 181L1154.1 181.6L1156.2 183.2L1159.4 187.6L1160.4 190.1L1160.4 194.4L1159 196.4L1155.6 197.2L1152.6 198.7L1149.2 199L1148.8 197L1149.5 194.2L1147.8 190.3L1150.6 189.7L1148 186.4L1146.2 185.7L1145.8 186.4L1144.7 186.7L1144.5 186L1143.6 185.7L1142.5 185.1L1143.6 183.4L1144.5 183L1144.1 182.3L1145.1 180.3L1144.8 179.7L1142.7 179.3L1140.9 178.3L1135.6 179.4L1132.9 181.1L1128.8 182.1L1130.8 180.4L1130.1 178.9L1133 176.4L1131 174.4L1127.8 175.8L1123.5 178.4L1121.2 180.8L1117.5 181L1115.6 182.7L1117.6 185.3L1120.7 185.9L1120.8 187.6L1123.8 188.6L1128 186L1131.3 187.4L1133.7 187.6L1134.3 189.5L1129 190.6L1127.3 192.6L1123.6 194.5L1121.7 197.1L1125.7 199.1L1127.2 202.8L1129.5 206.3L1132 209.1L1132 211.9L1129.6 212.9L1130.5 215L1132.7 216.1L1132.2 219.1L1131.2 222.1L1129.1 222.4L1126.4 226.5L1123.3 231.4L1119.9 235.9L1114.7 239.4L1109.5 242.5L1105.2 242.9L1102.9 244.6L1101.7 243.4L1099.5 245.3L1094.3 247.1L1090.3 247.7L1089 251.7L1087 251.9L1086 249.2L1086.9 247.7L1081.8 246.5L1080.1 247.1L1075.1 250.3L1071.9 253.9L1071.1 256.5L1074 260.4L1077.5 265.3L1080.9 267.6L1083.2 270.6L1084.9 277.6L1084.4 284.2L1081.3 286.6L1077 289.1L1073.9 292.2L1069.2 295.7L1067.9 293.3L1068.9 290.7L1066.1 288.6L1063 288.1L1061.5 286.1L1059.6 282.2L1056.2 280.5L1053 280.6L1053.6 277.6L1050.3 277.6L1050 281.8L1047.9 287.2L1046.7 290.6L1047 293.3L1049.4 293.4L1050.9 296.8L1051.6 300.1L1053.7 302.2L1056 302.6L1057.9 304.6L1058.8 304.9L1061 307.2L1062.6 309.7L1062.8 312.2L1062.4 313.9L1062.7 315.2L1063 317.4L1064.3 318.5L1065.8 321.8L1065.7 323.1L1063.1 323.3L1059.5 320.5L1055.1 317.6L1054.6 315.6L1052.5 313.1L1052 310L1050.6 308L1051.1 305.3L1050.2 303.7L1048.7 302.2L1048.1 300.4L1046.1 298.3L1044.3 296.5L1043.7 298.7L1043 296.6L1043.4 294.3L1044.5 290.7L1044.1 287.9L1045.2 285L1044 282.8L1044.3 278.7L1042.8 276.8L1041.6 272.3L1040.9 267.6L1039.2 264.5L1036.8 266.3L1032.5 269L1030.4 268.7L1028.1 267.8L1029.4 263.1L1028.6 259.7L1025.7 255.3L1026.1 254L1023.9 253.5L1021.3 250.4L1020.2 248.5L1020 246.6L1019.3 244.8L1017.7 242.6L1014.3 242.4L1014.6 244L1013.4 246.1L1011.8 245.3L1011.3 246L1010.2 245.6L1008.8 245.2L1008.2 246.6L1005.7 246.6L1001.1 247.3L1001.3 250.2L999.3 252.4L993.9 254.9L989.7 259.3L986.9 261.7L983.1 264.1L983.1 265.8L981.2 266.8L977.9 268.1L976.1 268.3L975 271.2L975.8 276L976 279.1L974.4 282.7L974.4 289.1L972.4 289.3L970.7 292.1L971.9 293.3L968.4 294.4L967.2 297L965.7 298L962.1 294.5L960.4 289.3L959 285.5L957.6 283.8L955.6 280.2L954.7 275.5L954 273.1L950.6 268L949.1 260.7L948 255.9L948 251.4L947.3 247.9L941.8 250.1L939.2 249.7L934.3 245.1L936.1 243.8L935 242.3L930.6 239.1L927.8 238.2L926.7 235.5L923.8 232.6L916.9 233.3L910.8 233.4L905.5 233.9L898.5 232.8L894.4 231.9L890.2 231.4L888.5 226.8L886.7 226.2L883.9 226.9L880.1 228.7L875.5 227.4L871.7 224.5L868.1 223.5L865.6 219.9L862.9 214.9L860.8 215.5L858.4 214.3L857 215.7L854.8 215.6L855.6 217.2L855.2 218.1L856.5 220.9L857.9 224.1L859.8 225L860.4 226.3L863 227.9L863.2 229.4L862.8 230.7L863.3 231.9L864.4 233L864.9 234.2L865.4 235.1L865.2 232.4L866.2 230.4L867.2 230.1L868.4 231.2L868.4 233.4L867.6 235.6L868.3 237L869 236.9L869.1 237.9L872.1 237.3L875.2 237.4L877.4 237.5L880 235L882.8 232.6L885.2 230.2L886.3 229L886.7 229.3L886.4 230.8L885.9 231.6L886.4 234.5L888.1 237.1L890.2 238.4L892.9 238.9L895.1 239.6L896.8 241.7L897.8 243L899.2 243.5L899.2 244.3L897.8 246.5L897.2 247.6L895.6 248.8L894.2 251.3L892.5 251.2L891.8 252.1L891.2 253.9L891.6 256.4L891.2 256.9L889.5 256.9L887.2 258.3L886.8 260.1L886 260.9L883.6 260.9L882.2 261.8L882.2 263.3L880.4 264.4L878.3 264L875.8 265.3L874.1 265.5L871.4 266.5L870.6 268.2L870.5 269.4L866.8 271L860.8 272.8L857.5 275.4L855.8 275.6L854.7 275.4L852.5 277L850.1 277.7L847 277.9L846 278.1L845.2 279.1L844.2 279.4L843.6 280.3L841.7 280.2L840.6 280.7L838 280.5L837 278.4L837.1 276.3L836.5 275.2L835.7 272.4L834.7 270.9L835.4 270.7L835 269L835.5 268.3L835.3 266.6L834.8 265.1L833.7 263.9L833.4 262.4L831.5 261.1L829.5 257.9L828.4 254.9L825.8 252.3L824.2 251.7L821.7 248.1L821.2 245.5L821.4 243.3L819.3 239.1L817.5 237.7L815.5 236.9L814.2 234.7L814.5 233.9L813.4 232L812.3 231.1L810.9 228.3L808.6 225.3L806.7 222.7L804.8 222.7L805.4 220.7L805.5 219.4L806 217.9L805.9 217.3L804.8 218.8L804 221.7L803 223.6L802.1 224.3L800.9 223.1L799.2 221.4L796.5 216L796.1 216.4L797.7 220.3L800 224.1L802.8 229.9L804.2 232L805.4 234.1L808.8 238.2L808 238.9L808.2 241.3L812.5 244.7L813.2 245.5L814.4 249.1L813.6 249.8L814.1 253.7L815.5 258.2L816.9 259.1L819 260.5L821.2 264.8L822.2 268.2L824.2 270L829.3 273.6L831.4 275.7L833.5 277.9L834.6 279.2L836.5 280.3L837.4 281.5L837.2 283L835.1 283.9L836.7 285L837.9 285.6L838.7 287.2L840.4 288.7L842.2 288.8L845.8 287.8L849.8 287.4L853.1 286.2L855 286L856.3 285.3L858.5 285.1L859.7 285.1L861.4 284.5L863.4 284.1L865.1 282.9L866.6 282.9L866.6 283.9L866.3 286L866.3 288L865.5 289.4L864.5 293.4L862.7 297.6L860.3 302.4L857.1 307.9L853.9 312.1L849.5 317.2L845.8 320.2L840.2 324L836.7 326.8L832.6 331.3L831.7 333.3L830.9 334.2L828.2 335.7L827.3 337.3L825.9 337.5L825.4 340.2L824.2 341.7L823.4 344.2L821.9 345.4L820.2 350L820.4 352.2L822.8 353.5L822.9 354.5L821.9 356.8L822.1 357.9L821.9 359.7L823.2 362L824.7 365.7L826.1 366.6L826.7 368.3L826.6 372L827 375.3L827.2 381.1L827.8 382.9L826.7 385.6L825.2 388.2L822.8 390.6L819.4 392L815.2 393.8L811 397.8L809.5 398.5L806.9 401.2L805.4 402L805 404.7L806.8 407.5L807.6 409.7L807.6 410.9L808.3 410.7L808.2 414.4L807.6 416.1L808.5 416.7L807.9 418.3L806.3 419.6L803.2 420.9L798.7 422.9L797.1 424.3L797.4 425.9L798.4 426.2L798 428.1L797.1 430.8L796.6 433.9L795.7 435.6L793.1 437.5L792.4 438.1L790.8 440L789.7 441.9L787.6 444.6L783.4 448.5L780.7 450.7L777.9 452.4L774 453.8L772.1 454.1L771.6 455.1L769.3 454.6L767.5 455.3L763.4 454.5L761.1 455L759.6 454.8L755.7 456.3L752.5 456.9L750.2 458.3L748.5 458.4L746.9 457L745.6 457L744 455.3L743.8 455.8L743.3 454.8L743.4 452.6L742.2 450.1L743.4 449.4L743.2 446.5L740.8 443.1L738.9 439.9L736.2 435L733.4 432.2L732 429.4L731.1 425.8L730.2 423L729 417.3L728.9 412.8L728.4 410.8L726.9 409.2L725 406.1L723 401.6L722.2 399.3L719.1 395.6L718.9 392.7L718.6 390.4L719.1 387.1L720.4 383.7L720.6 382L721.8 378.7L722.7 377.1L724.8 374.7L726 373L726.4 370.2L726.3 368.1L725.1 366.8L724.1 364.5L723.2 362.3L723.4 361.5L724.6 360L723.4 356.4L722.7 353.9L720.8 351.5L721.1 350.8L720.6 349.6L719.6 346.8L716.5 342.8L712.7 339L710.2 335.9L707.9 332.1L708 330.8L708.9 329.6L709.8 326.9L710.5 324.1L709.8 323.6L711.1 319.4L711.7 316.4L710.2 313.9L708.5 313.3L707.7 311.6L706.8 311L706.8 310L702.9 311.4L701.5 311.2L700.1 312L697.1 311.9L695 309.6L693.8 306.9L691.2 304.4L688.3 304.4L685 304.4L681.9 304.9L678.9 305.7L673 307.9L671 309.2L667.6 310.2L664.2 309.2L662.5 309.2L659.9 308.5L657.5 308.5L653.1 309.2L650.4 310.2L646.7 311.6L646 311.6L645 311.6L641.2 309.8L637.8 306.9L634.5 304.9L632 302.5L631 302.2L628.3 300.7L626.4 298.7L625.7 297.3L625.2 294.5L623.6 292.3L622.2 290.8L621.2 290.3L620.3 289.6L619.8 288L619.3 287.1L618.2 286.5L616.2 285L614.6 284.7L613.8 283.6L613.8 283.1L612.6 282.3L612.4 281.5L611.8 278.6L612.3 277L610.7 274L608.8 272.7L610.5 272L612.3 269.4L613.2 267.4L612.9 265.4L613.9 263.6L614.4 260L614 256.3L613.5 254.5L613.9 252.6L612.9 250.8L611 249.2L611.1 247.6L611.3 245.9L612.7 244.9L614 242.9L613.7 241.6L615 239L617.1 236.6L618.3 236L619.4 233.8L619.4 231.8L620.8 229.5L623.3 228.1L625.7 224.3L627.6 222.8L631.1 222.4L634.1 219.9L635.9 218.8L639.1 215.7L638.1 211.1L639.6 207.8L640.1 205.9L642.5 203.3L646.2 201.6L649 200.1L651.5 196.2L652.7 193.9"/>
<path d="M1349.9 59.9L1345.1 61.5L1349.9 62.5"/>
<path d="M0 59.9L3.7 59.7L9.1 60.8L8.8 61.3L4.9 62.2L0 62.5"/>
<path d="M418.1 16.5L428.1 16.8L436.2 17.2L443 18.2L442.9 19.3L433.7 20.9L424.6 21.6L421.2 22.5L429.4 22.4L420.6 24.7L414.4 25.8L408 28.9L400.3 29.5L397.9 30.2L386.5 30.7L391.7 31.1L389.1 31.8L392.2 33.6L388.7 34.9L382.9 36L381.1 37.4L375.9 38.6L376.4 39.4L382.8 39.3L382.9 40.2L372.9 42.4L363.1 41.4L352 42L346.5 41.5L339.4 41.3L338.9 39.5L345.8 38.7L344 36L346.3 35.7L356.3 37.3L351.2 34.9L345.1 34.2L348.2 32.8L354.8 31.9L355.9 30.5L350.6 29.1L349 27.2L359.2 27.3L362.2 27.7L368 26.4L359.6 25.9L346.5 26.2L339.8 24.9L336.7 23.4L332.3 22.3L331.5 21L337.1 20.3L341.5 20.2L348.8 19.6L354.3 18.2L359 18.4L363 19.4L365.9 17.4L370.8 16.8L377.5 16.4L389 16.2L391 16.6L401.8 16L409.9 16.2L418.1 16.5"/>
<path d="M375.7 47.2L373.1 48.1L367.6 48.9L362.8 48.5L352.1 49.1L344.4 49.1L338.4 48.6L328.4 47.4L327.1 45.4L326.6 43.5L322.9 41.9L315.1 41.4L310.8 40.3L312.2 38.7L319.9 39L324.1 40.2L331.4 40.2L334.7 41.4L333.8 42.8L338.1 43.7L340.5 44.6L345.6 44.7L351 45L357 44.2L364.6 43.9L370.7 44.2L374.7 45.6L375.7 47.2"/>
<path d="M348.6 29.4L353.2 30.6L348 31.7L341.1 34.5L334.5 34.8L326.7 34.3L322.7 32.8L322.7 31.4L325.7 30.4L318.8 30.5L314.7 29.2L312.3 27.5L314.9 25.9L317.5 24.7L321.3 24.4L319.7 23.6L328.4 23.4L333.2 25.4L339.5 26.2L345.7 26.9L348.6 29.4"/>
<path d="M277.6 68.7L273.3 68.9L266.2 70.2L256.7 70.7L250.1 71.1L248 69.3L242.9 68.3L239.6 68.7L234.9 65.7L237.5 65.3L243.2 64.7L248.5 64.9L253.4 64.2L246.2 63.3L238.1 63.6L232.9 63.6L230.9 62.2L239.6 60.7L233.8 60.7L227.2 59.7L230.4 56.9L233 55.4L243 53.2L246.8 53.9L245 55.6L253.3 54.5L258.5 56.4L262.8 54.5L266.2 55.7L269.3 59.4L271.1 57.8L268.5 54L271.8 53.4L275.5 54L279.7 55.6L282.1 59.2L283.2 61.9L289.5 63.7L296.3 65.5L295.9 67.2L289.7 67.5L292.1 68.9L290.9 70.3L284.1 69.7L277.6 68.7"/>
<path d="M219.2 48.9L224.6 49.7L234.1 49.9L237.8 51L241.8 52.5L237.1 53.5L227.9 56.1L223.3 58.8L223.3 60.4L213.4 62.2L211.4 60.6L202.7 58.6L204.4 57L206.9 54.3L210.2 51.8L206.5 49.5L219.2 48.9"/>
<path d="M298.6 51.2L303.1 52L309.8 51.5L310.8 52.6L307.3 54.4L312.9 56L312.3 59.4L306.1 60.8L302.5 60.5L299.9 59.1L290.6 56.2L290.7 55L298.3 55.4L294.2 53L298.6 51.2"/>
<path d="M325.5 55.2L321.5 58L317.2 57.9L314.9 54.6L314.9 52.7L316.8 51.1L320.6 50.1L328.4 50.2L335.6 51.1L330 54.4L325.5 55.2"/>
<path d="M316.3 68.9L314 70.2L308.9 69.1L305.9 69.5L300.7 67.8L304 66.7L306.6 65.1L310.6 66.1L312.9 66.8L316.3 68.9"/>
<path d="M277.9 43.2L278.6 45L276.3 46.8L263.6 47.4L254.1 49L248.4 49.1L248 47.9L255.8 46.2L238.8 46.7L233.6 46L238.7 42.3L242.2 41.3L252.8 42.6L259.4 44.8L266 45.1L260.6 41.5L264 40.1L267.9 40.5L269.2 42.3L270.6 43.7L274 43.1L277.9 43.2"/>
<path d="M308.4 42.1L308.6 44.1L306.9 46.8L300.7 47.2L296.7 46.6L296.7 44.4L290.6 44.7L290.3 41.8L294.4 41.9L300 40.7L305.3 40.9L308.4 42.1"/>
<path d="M239.2 36.9L238.7 39.8L235.8 41.1L232.3 41.3L225.4 42.9L219.4 43.5L214.3 42.6L220.6 39.9L228.4 37.4L234.1 37.5L239.2 36.9"/>
<path d="M286.7 31.2L296.9 32.6L299.7 34.4L301.2 35.9L295.1 35.5L288.9 34.3L280.5 34.2L284.2 33.1L279.6 32.2L279.4 30.7L286.7 31.2"/>
<path d="M305.1 32.3L309.9 32.5L312.2 32.7L316.6 34L315.6 35.4L310.1 36.2L307 35.3L305.4 33.9L305.1 32.3"/>
<path d="M319.3 44.4L322.5 45.7L321.9 48.4L316.4 48.1L311.9 47.1L313.9 45.4L319.3 44.4"/>
<path d="M371.7 53.1L382.2 51.9L388.7 54L389 55L385 54.9L381 54.8L376.9 55.3L375.8 55.1L371.7 53.1"/>
<path d="M257.7 35L263 35.6L261.8 36.7L254.8 37.8L249.2 36.6L252.3 35.4L257.7 35"/>
<path d="M258.9 32.6L263.7 33.4L259.2 34.1L252.9 34.1L253 33.5L256.8 32.4L258.9 32.6"/>
<path d="M390.4 76.3L386.2 76.4L385.3 74.6L386.9 72.5L390.3 72L393.3 73L393.3 74.6L392.9 75.2L390.4 76.3"/>
<path d="M377.7 95L376.2 96.9L374.6 96.6L373.6 95.5L373.8 95.2L375.2 94.1L376.8 94.2L377.7 95"/>
<path d="M367.8 92.9L363.4 95L360.8 94.9L360 93.9L362.8 92.1L367.9 92.2L367.8 92.9"/>
<path d="M663.6 108.1L659.7 112.2L663.5 111.7L667.6 111.7L666.6 114.8L663.2 118.2L667.1 118.4L670.8 123.2L673.3 123.8L675.6 128L676.7 129.5L681.2 130.3L680.8 132.7L678.9 133.7L680.4 135.7L677 137.6L672 137.6L665.6 138.7L663.8 137.9L661.4 139.7L657.9 139.3L655.2 140.7L653.3 139.9L658.8 136L662.1 135.2L656.3 134.6L655.2 133.1L659.1 131.9L657 129.9L657.8 127.4L663.3 127.8L663.9 125.6L661.3 123.2L656.8 122.6L655.9 121.6L657.2 119.9L656 118.9L654 120.6L653.8 117L651.9 115.1L653.2 111.2L656.1 108.2L659.1 108.5L663.6 108.1"/>
<path d="M651.7 126L652.3 128.7L649.5 132.1L642.8 134.3L637.5 133.7L640.5 129.8L638.6 126L643.7 123.1L646.5 121.3L649.7 121.2L653.7 123.5L651.7 126"/>
<path d="M731.7 29.3L733.1 28L738.6 27.9L743.4 29.2L755.7 32L746.3 33.5L744.2 36.2L740.9 36.9L739.1 40.1L734.6 40.2L726.5 37.9L729.9 36.6L724.3 35.5L717 32.3L714.1 29.4L724.3 28.1L726.4 29.4L731.7 29.3"/>
<path d="M777.7 27.9L772.1 29.9L761.2 30.4L750.2 29.7L749.5 28.7L744.1 28.6L740.1 26.9L751.6 25.9L757.1 26.8L760.9 25.6L770.4 26.6L777.7 27.9"/>
<path d="M767.6 36.2L759.3 37.7L752.7 36.8L755.2 35.8L753 34.7L760.7 33.9L762.2 35.3L767.6 36.2"/>
<path d="M867.9 58L871.7 57.2L871.6 55.2L879 52L875.6 51.5L884.5 48.2L883.5 46.5L891.9 44.6L904.3 42.2L916.8 41.4L923.2 40.1L930.5 39.6L933.1 41.1L930.6 42.2L917.3 44.1L905.8 45.9L894.2 49.4L888.6 53.1L882.7 56.7L883.5 59.8L890.7 62.9L888.4 63.2L876.2 62.7L875.2 61L868.4 60.1L867.9 58"/>
<path d="M849.3 27.2L851.4 26L843.1 25.9L850.4 25.2L856.1 25.2L856.9 26.2L859 25.3L862.6 24.7L868.1 25.5L866.7 26L861.6 26.5L858.2 26.8L857.7 27.4L853.4 28.1L849.3 27.2"/>
<path d="M1049.7 32.3L1041.5 32.8L1031 31.7L1024.8 30.2L1022 27.6L1016.8 26.8L1026.6 24.3L1034.7 23.4L1041.9 25.3L1050.6 28.9L1049.7 32.3"/>
<path d="M1068.9 34.4L1047.8 35.9L1054.6 31L1057.7 30.5L1060.5 30.8L1070 32.9L1068.9 34.4"/>
<path d="M1195.5 42.6L1205.4 42.8L1219 44.7L1216 47.5L1202.2 47.4L1196 48.3L1188.5 45.9L1190.5 43.3L1195.5 42.6"/>
<path d="M1222.8 46.2L1223.7 45L1230.7 45.5L1240.1 46.5L1235.8 48L1229.8 47.7L1222.8 46.2"/>
<path d="M1207.6 51.1L1200 53.1L1199.3 53L1202.9 51.5L1207.6 51.1"/>
<path d="M1213.6 137.7L1217.3 144.3L1211.8 143.1L1209.5 148.5L1213.1 152.4L1213 155L1210.2 152.7L1207.7 155.6L1207 152.5L1207.4 148.8L1207 144.8L1207.9 142L1208 137L1205.8 133.3L1206.2 128.2L1209.7 126.4L1208.2 124.7L1209.8 124.2L1210.8 126.7L1212.1 130.3L1212 133.9L1213.6 137.7"/>
<path d="M1206.9 181.1L1203.5 184.9L1203.5 188.7L1202.1 191.7L1202.8 193.6L1200.8 196.2L1196 198L1189.4 198.2L1184.1 202.5L1181.6 201L1181.4 198.2L1174.9 199.1L1170.5 200.9L1166.1 200.9L1169.9 203.7L1167.4 210L1165 211.6L1163.1 210.2L1164.1 206.8L1161.7 205.7L1160.2 203.1L1163.7 202L1165.7 199.6L1169.4 197.7L1172.2 195.1L1179.7 194L1183.7 194.8L1187.6 188.1L1190.1 189.9L1195.6 186.1L1197.7 184.7L1200.1 180.1L1199.4 175.9L1201 173.5L1205 172.8L1207 178L1206.9 181.1"/>
<path d="M1217.2 163.2L1219.8 161.6L1220.6 165.8L1215.1 166.8L1211.8 170.5L1205.9 168L1203.9 172.1L1199.7 172.1L1199.2 168.4L1201 165.5L1205 165.3L1206.1 160.1L1207.3 157.2L1211.6 161.1L1214.5 162.4L1217.2 163.2"/>
<path d="M1171.3 202.5L1173.3 200.3L1175.5 200.7L1177 199.1L1179.8 199.9L1180.3 201.2L1178.1 203.5L1176.6 202.3L1174.7 203.1L1173.7 205.4L1171.2 204.3L1171.3 202.5"/>
<path d="M1131.6 236.5L1129.3 242.5L1127.7 245.6L1125.7 242.4L1125.3 239.6L1127.5 235.9L1130.5 233.1L1132.2 234.2L1131.6 236.5"/>
<path d="M1088.7 257.9L1085.4 259.7L1082.4 258.5L1082.2 255.3L1084.1 253.6L1088.2 252.6L1090.3 252.6L1091.2 254.1L1089.5 255.7L1088.7 257.9"/>
<path d="M981.6 299.7L981 303.6L979.5 304.7L976.2 305.5L974.4 302.6L973.8 297.2L975.5 291.1L978 293.2L979.8 295.8L981.6 299.7"/>
<path d="M1129.8 258.6L1132.2 259.6L1133.3 258.6L1133.7 259.6L1133 261.2L1134.3 263.9L1133.3 267L1131.1 268.2L1130.5 271.2L1131.4 274.2L1133.4 274.6L1135 274.2L1139.7 276.3L1139.4 278.3L1140.6 279.2L1140.2 280.9L1137.3 279.1L1135.9 277.1L1134.9 278.5L1132.5 276.3L1129.1 276.8L1127.2 276L1127.4 274.4L1128.6 273.4L1127.5 272.6L1127 273.9L1125.1 271.8L1124.6 270.2L1124.4 266.6L1126 267.8L1126.3 261.9L1127.6 258.5L1129.8 258.6"/>
<path d="M1148.8 296.4L1149.2 298.9L1149.4 301L1148.1 304.4L1146.7 300.6L1145 302.5L1146.2 305.2L1145.1 307L1140.7 304.8L1139.7 302.1L1140.8 300.3L1138.4 298.6L1137.3 300.1L1135.5 299.9L1132.7 302L1132.1 301L1133.5 297.8L1135.9 296.7L1138 295.3L1139.3 297L1142.1 296L1142.7 294.3L1145.4 294.2L1145.2 291.3L1148.2 293.1L1148.5 295L1148.8 296.4"/>
<path d="M1123 285.3L1123.7 288.4L1121.2 290.4L1119.3 293L1114.3 296.5L1116.1 293.9L1118.8 291.6L1121.1 289L1123 285.3"/>
<path d="M1145.5 282.3L1146.6 286.5L1143.7 285.5L1143.7 286.8L1144.7 289.1L1142.9 289.9L1142.7 287.3L1141.6 287.1L1141 284.8L1143.2 285.1L1143.2 283.7L1140.9 280.8L1144.5 280.9L1145.5 282.3"/>
<path d="M1131.9 283.3L1134.2 284.5L1136.6 284.5L1136.5 286L1134.8 287.7L1132.4 288.8L1132.3 287L1132.5 285.1L1131.9 283.3"/>
<path d="M1139.8 289.4L1138.5 290.6L1137.3 293L1136.1 294.1L1133.8 291.5L1134.6 290.5L1135.5 289.4L1135.9 287.1L1138 286.9L1137.4 289.4L1140.2 285.8L1139.8 289.4"/>
<path d="M1130.6 278.9L1129.6 282.1L1128 280.3L1126.1 277.4L1129.3 277.6L1130.6 278.9"/>
<path d="M1116.9 312.4L1114.8 315.8L1117.6 319.3L1116.9 321L1121.1 324.5L1116.7 325L1115.4 327.5L1115.6 330.9L1112 333.5L1111.9 337.2L1110.4 342.9L1109.9 341.6L1105.6 343.3L1104.1 341L1101.5 340.8L1099.6 339.6L1095.1 340.9L1093.8 339.1L1091.3 339.3L1088.2 338.9L1087.6 333.9L1085.8 332.8L1084 329.6L1083.4 326.3L1083.9 322.9L1086.1 320.4L1088.9 321.7L1091.8 321L1092.5 317.8L1094.1 317.1L1098.6 316.3L1101.3 313.3L1103.1 310.9L1104.6 309.5L1107.8 307.5L1110.7 304.9L1112.6 302L1114.1 301.9L1116 303.8L1116.2 305.5L1118.7 306.5L1121.8 307.6L1121.5 309.1L1119 309.3L1119.7 311.1L1116.9 312.4"/>
<path d="M1071.7 349.8L1067.5 349.9L1064.4 346.8L1059.6 343.7L1058 341.4L1055.1 338.4L1053.3 335.6L1050.4 330.3L1047.1 327.2L1046 324L1044.6 321.1L1041.3 318.7L1039.3 315.5L1036.5 313.4L1032.6 309.3L1032.2 307.4L1034.7 307.5L1040.4 308.2L1043.8 311.9L1046.7 314.4L1048.7 316L1052.3 320L1056.1 320.1L1059.3 322.7L1061.4 325.8L1064.3 327.5L1062.8 330.6L1064.9 331.9L1066.3 331.9L1066.9 334.6L1068.2 336.7L1071 337L1072.8 339.4L1071.9 344L1071.7 349.8"/>
<path d="M1082.2 353.3L1089.4 353.7L1090.2 352.1L1097.2 353.9L1098.6 356.3L1104.2 357.1L1108.8 359.3L1104.5 360.7L1100.4 359.2L1097 359.3L1093.1 359L1089.6 358.3L1085.2 356.9L1082.5 356.5L1080.9 357L1074.1 355.4L1073.4 353.8L1070 353.6L1072.6 350L1077.1 350.2L1080.1 351.7L1081.7 352L1082.2 353.3"/>
<path d="M1144.5 322.6L1141.5 326.3L1138.7 327L1135.1 326.3L1128.9 326.5L1125.6 327L1125 329.8L1128.4 333.2L1130.4 331.5L1137.4 330.2L1137.1 331.9L1135.5 331.4L1133.8 333.6L1130.5 335L1134.1 339.9L1133.4 341.1L1136.8 345.4L1136.7 347.9L1134.7 349L1133.3 347.7L1135.1 344.6L1131.4 346.1L1130.5 345L1131 343.6L1128.3 341.4L1128.5 337.8L1126 338.9L1126.3 343.3L1126.5 348.6L1124.1 349.1L1122.5 348.1L1123.6 344.6L1123 341L1121.4 341L1120.3 338.4L1121.8 336L1122.3 333L1124.2 327.3L1125 325.8L1128.2 323L1131.1 324.1L1135.9 324.6L1140.2 324.4L1143.9 321.8L1144.5 322.6"/>
<path d="M1143.5 361.2L1144 360.3L1147.2 359.5L1149.8 359.4L1151 358.9L1152.4 359.4L1151 360.4L1147.1 362L1144 363.1L1141.5 365.9L1138.3 366.7L1137.9 366.3L1138.2 365L1139.8 362.7L1143.5 361.2"/>
<path d="M1135.8 358.2L1135.2 360.3L1129.6 361.4L1124.6 360.9L1124.6 359.5L1127.6 358.8L1129.9 359.9L1132.4 359.6L1135.8 358.2"/>
<path d="M1117 358.3L1118.4 359.2L1120.7 358.9L1121.6 360.5L1117.3 361.3L1114.7 361.8L1112.7 361.7L1113.9 359.6L1116 359.6L1117 358.3"/>
<path d="M1124.5 363L1126.5 364.1L1127.8 365.3L1127.6 366.3L1126 366.3L1121 363.7L1124.5 363"/>
<path d="M1157.5 323.7L1157.3 326.9L1155.3 326.5L1154.8 328.8L1156.3 330.8L1155.3 331.3L1153.8 328.9L1152.6 324.1L1153.4 321.1L1154.6 319.8L1154.9 321.8L1157.1 322.1L1157.5 323.7"/>
<path d="M1164.1 339.5L1165.5 342.4L1162.3 340.8L1159.2 340.5L1157.1 340.8L1154.5 340.6L1155.4 338.5L1160 338.4L1164.1 339.5"/>
<path d="M1152.1 340.9L1150.6 342.1L1148.1 341.4L1147.3 339.8L1151.1 339.6L1152.1 340.9"/>
<path d="M1177.9 332.2L1178.9 338.3L1182.8 340.5L1186 336.6L1190.3 334.3L1193.6 334.3L1196.8 335.6L1199.6 336.9L1203.6 337.6L1210.1 340.2L1217 342.4L1219.6 344.3L1221.7 346.2L1222.3 348.4L1228.6 350.7L1229.5 352.7L1226 353.1L1226.8 355.6L1230.2 358L1232.6 362L1234.8 361.9L1234.6 363.5L1237.5 364.2L1236.4 364.9L1240.4 366.5L1240 367.5L1237.5 367.8L1236.5 366.8L1233.3 366.4L1229.5 365.9L1226.6 363.5L1224.5 361.4L1222.6 358.1L1217.6 356.5L1214.5 357.6L1212.2 358.8L1212.7 361.5L1209.7 362.9L1207.6 362.2L1203.7 362.1L1200.4 359L1196.6 358.3L1195.7 359.3L1190.9 359.4L1192.5 356.4L1194.9 355.3L1193.9 351.2L1192.1 348.1L1184.8 344.9L1181.7 344.6L1176.1 341.2L1175 343L1173.5 343.3L1172.7 342L1172.7 340.3L1169.8 338.5L1173.9 337.1L1176.5 337.2L1176.2 336.2L1170.7 336.2L1169.3 334L1165.9 333.3L1164.3 331.4L1169.4 330.5L1171.3 329.3L1177.3 330.8L1177.9 332.2"/>
<path d="M1244.8 348.4L1242.8 348.7L1242.2 349.8L1240.2 350.7L1238.3 351.6L1236.3 351.6L1233.2 350.5L1231.1 349.4L1231.4 348.3L1234.7 348.8L1236.8 348.5L1237.4 346.7L1237.9 346.6L1238.3 348.6L1240.4 348.4L1241.5 347L1243.6 345.7L1243.1 343.5L1245.4 343.4L1246.1 344L1246.1 346.1L1244.8 348.4"/>
<path d="M1249.1 344.8L1248 345.8L1247.3 343.6L1246.4 342.1L1244.7 340.9L1242.5 339.3L1239.8 338.2L1240.9 337.3L1242.9 338.3L1244.2 339.1L1245.8 340L1247.3 341.6L1248.7 342.8L1249.1 344.8"/>
<path d="M1255.2 347.9L1256.3 348.8L1258.2 351.1L1259.9 352.4L1259.4 353.5L1258.4 353.8L1256.8 352.4L1255.1 350L1254.3 347.2L1254.8 346.8L1255.2 347.9"/>
<path d="M1261.9 352.6L1264.1 354.2L1265.6 355.4L1264.9 355.6L1263.2 354.8L1261.7 353.3L1261.9 352.6"/>
<path d="M1273.5 358L1274.4 359.2L1274.6 359.9L1271.6 358.3L1269.6 356.9L1268.2 355.7L1268.7 355.3L1270.4 356.2L1273.5 358"/>
<path d="M1273.7 362.5L1276.2 363.1L1277.5 363.9L1278.1 364.9L1276.6 365L1274.3 364.6L1273.5 364L1273.7 362.5"/>
<path d="M1281.2 363.9L1280.6 364.5L1277.8 361.3L1277 359.1L1278.3 359.1L1279.7 362.1L1281.2 363.9"/>
<path d="M1282.8 367.2L1283.9 368.5L1281.2 368.4L1279.8 366.1L1282.1 367.1L1282.8 367.2"/>
<path d="M1301.9 387.4L1304.3 389.6L1303.1 390.1L1301.8 388.5L1301.9 387.4"/>
<path d="M1300.3 386.6L1299.8 385.6L1299.7 382.7L1301.5 383.8L1302.1 386.9L1301.1 386.4L1300.3 386.6"/>
<path d="M1295.4 409.1L1298.1 410.8L1300.1 411.8L1301.6 410.9L1299.6 409.2L1296.5 406.9L1293.7 404.6L1291.6 403.3L1290 403.3L1290.5 404.5L1293 407.2L1295.4 409.1"/>
<path d="M1213.2 379.5L1214.6 382.4L1217 381L1218.2 382.6L1220 384L1219.6 385.7L1220.5 388.9L1221 390.8L1222 391.3L1223 394.5L1222.6 396.4L1223.8 398.9L1227.9 400.9L1230.5 402.7L1233.1 404.3L1232.6 405.2L1234.7 407.6L1236.2 411.6L1237.7 410.8L1239.2 412.4L1240.1 411.8L1240.7 415.8L1243.4 418.1L1245.1 419.6L1248.1 422.6L1249.1 425.6L1249.2 427.7L1249 430.1L1250.8 433.2L1250.5 436.6L1249.9 438.3L1248.9 441.6L1249 443.8L1248.2 446.5L1246.6 449.9L1243.8 451.7L1242.4 454.6L1241.2 456.5L1240 459.7L1238.6 461.6L1237.7 464.4L1237.2 467L1237.4 468.2L1235.2 469.4L1231 469.6L1227.5 471.1L1225.8 472.6L1223.6 474.2L1220.5 472.5L1218.2 471.9L1218.7 469.9L1216.7 470.6L1213.4 473.3L1210.2 472.3L1208 471.7L1205.9 471.5L1202.3 470.4L1199.8 468.1L1199.2 465.2L1198.3 461.8L1196.4 461.8L1192.8 461.3L1194.1 459.5L1193.2 456.7L1191.3 459.4L1188 460L1189.9 458L1190.5 455.8L1192 454L1191.7 451.2L1188.6 454.4L1186.3 455.6L1184.8 458.6L1181.9 457.1L1182 455.1L1179.7 452.4L1177.7 451L1178.4 450.1L1173.6 447.9L1171 447.7L1167.4 445.9L1160.7 446.3L1155.8 447.6L1151.5 448.9L1147.9 448.6L1144 450.5L1140.7 451.4L1140 453.4L1138.6 454.9L1135.4 455L1133.1 455.3L1129.8 454.6L1127.1 455L1124.5 455.2L1122.3 457.2L1121.2 457L1119.3 458.1L1117.5 459.3L1114.8 459.2L1112.2 459.2L1108.2 456.8L1106.2 456.1L1106.3 453.9L1108.2 453.4L1108.8 452.5L1108.7 451.2L1109.1 448.6L1108.7 446.4L1106.7 442.6L1106.1 440.4L1106.3 438.3L1104.8 435.9L1104.7 434.8L1103 433.3L1102.6 430.3L1100.4 427.4L1099.9 425.8L1101.6 427.4L1100.3 423.9L1102.2 425L1103.2 426.5L1103.2 424.5L1101.3 421.6L1101 420.4L1100.1 419.3L1100.5 417.1L1101.3 416.2L1101.8 414.3L1101.4 412.1L1102.9 409.4L1103.2 412.3L1104.8 409.7L1107.9 408.5L1109.7 406.9L1112.5 405.5L1114.3 405.2L1115.3 405.7L1118.2 404.2L1120.5 403.8L1121.1 403L1122.1 402.7L1124.2 402.8L1128.1 401.6L1130.1 400L1131.1 398L1133.3 396.1L1133.5 394.6L1133.5 392.5L1136.2 389.4L1137.7 392.6L1139.4 391.9L1138 390.1L1139.2 388.3L1140.9 389.1L1141.3 386.2L1143.4 384.4L1144.3 382.9L1146.1 382.3L1146.2 381.2L1147.9 381.7L1147.9 380.7L1149.6 380.2L1151.4 379.7L1154.1 381.4L1156.2 383.6L1158.6 383.7L1161 384L1160.2 381.9L1162 378.9L1163.7 378L1163.1 377L1164.7 374.9L1167 373.5L1168.9 374L1172 373.3L1172 371.4L1169.2 370.1L1171.2 369.6L1173.7 370.5L1175.7 372.1L1178.8 373L1179.9 372.6L1182.2 373.8L1184.4 372.7L1185.8 373.1L1186.7 372.3L1188.4 374.2L1187.5 376.2L1186 377.7L1184.7 377.8L1185.2 379.3L1184 381.2L1182.7 383.1L1183 384.1L1186 386.2L1188.9 387.4L1190.8 388.7L1193.5 390.9L1194.6 390.9L1196.5 391.8L1197.1 393L1200.7 394.3L1203.2 393L1203.9 391L1204.6 389.3L1205.1 387.3L1206.2 384.3L1205.7 382.5L1206 381.4L1205.6 379.2L1206.1 376.4L1206.8 375.6L1206.2 374.4L1207.1 372.4L1207.8 370.4L1207.9 369.3L1209.3 367.9L1210.4 369.7L1210.6 372L1211.6 372.5L1211.7 374.1L1213.1 376L1213.4 378.1L1213.2 379.5"/>
<path d="M1220.1 480.8L1223.7 482.1L1225.8 481.5L1228.7 480.8L1231 481.1L1231.2 485.5L1229.9 486.8L1229.5 489.8L1228.2 488.8L1225.6 491.4L1224.8 491.2L1222.6 491.1L1220.2 487.9L1219.7 485.4L1217.6 482.1L1217.6 480.4L1220.1 480.8"/>
<path d="M1323.7 481.2L1324.5 482.8L1327.2 481.3L1328.3 482.9L1328.3 484.4L1326.9 486.2L1324.4 488.9L1322.5 490.4L1323.9 492.2L1321 492.3L1317.8 493.7L1316.8 496.2L1314.7 499.9L1311.7 501.6L1309.8 502.7L1306.4 502.6L1304 501.4L1299.9 501.1L1299.3 499.7L1301.3 496.9L1306 493.2L1308.4 492.6L1311.1 491.1L1314.3 489.1L1316.6 487.2L1318.2 484.4L1319.7 483.5L1320.2 481.4L1322.9 479.6L1323.7 481.2"/>
<path d="M1329.6 463.4L1332.4 467.3L1332.5 464.8L1334.1 465.8L1334.7 468.6L1337.7 469.8L1340.3 470.1L1342.4 468.7L1344.3 469.2L1343.4 472.5L1342.2 474.7L1339.4 474.6L1338.4 475.7L1338.7 477.3L1338.2 478.1L1336.8 480L1334.9 482.6L1332 484.1L1331.4 483.2L1329.8 482.6L1332 479.5L1330.7 477.5L1326.7 476L1326.8 474.6L1329.5 473.3L1330.1 470.4L1330 468L1328.4 465.5L1328.6 464.8L1326.8 463.3L1323.8 460L1322.3 457.3L1323.6 457L1325.7 459.1L1328.6 460.1L1329.6 463.4"/>
<path d="M860.7 374.6L861.7 376.2L862.6 378.7L863.2 383.2L864.2 385L863.8 386.8L863.2 387.9L861.9 385.6L861.2 386.8L861.9 389.5L861.5 391.2L860.5 392L860.3 395.2L858.8 399.5L857 404.7L854.6 411.8L853.2 417L851.5 421.4L848.5 422.3L845.2 423.8L843 422.9L840.1 421.5L839 419.6L838.8 416.2L837.5 413.3L837.1 410.6L837.8 407.9L839.5 407.2L839.5 406L841.3 403.1L841.6 400.7L840.8 398.9L840.1 396.6L839.8 393.1L841.1 391L841.6 388.7L843.4 388.5L845.5 387.7L846.9 387.1L848.6 387L850.7 384.9L853.8 382.6L854.9 380.7L854.4 379.1L856 379.5L858.1 377L858.1 374.7L859.4 373L860.7 374.6"/>
<path d="M850 160.7L853.4 164.3L853 166.8L857.1 171.2L859.1 173.2L861 175.9L862.7 176L863.9 177L860.8 177.3L860.2 180.2L859.5 181.6L858.1 182.4L858.2 184.3L859.4 187.1L863 187.9L865.6 189.7L870.9 190.4L876.8 189.4L877.1 188.5L876.4 185.8L877 181.9L874 180.7L875 178.1L872.5 177.9L873.4 174.7L876.9 175.6L880.2 174.4L877.4 172.2L876.4 170.1L873.4 171L872.9 173.7L871.8 171.3L871.6 170.4L872.5 168.9L871.8 167.5L867.4 166.3L865.7 162.9L863.7 162L863.6 160.7L867.2 161.1L867.4 158.3L870.5 157.7L873.8 158.3L874.5 154.7L873.8 152.3L870.1 152.5L866.9 151.6L862.5 153.2L859 154L857.3 156.2L853.7 156.9L850 160.7"/>
<path d="M733.1 184.6L731.8 187.6L732.3 188.8L731.5 190.7L728.7 189.2L726.8 188.9L721.5 187L722.1 185L726.4 185.4L730.3 185L733.1 184.6"/>
<path d="M709.5 173.5L711.7 176.1L711.2 181.1L709.5 180.8L708 182.1L706.5 181.1L706.4 176.6L705.5 174.4L707.6 174.6L709.5 173.5"/>
<path d="M710.8 169.9L709.5 172.8L707.8 172.1L706.9 169.5L707.7 168.1L710.1 166.7L710.8 169.9"/>
<path d="M763.8 194.1L765.9 195.4L768.8 195.2L771.6 195.4L771.5 196.1L773.5 195.6L773 196.7L767.6 197L767.7 196.4L763.1 195.7L763.8 194.1"/>
<path d="M797.7 196.2L797.9 196.2L798.5 195.3L801.2 195.4L804.6 194.2L802 195.8L802.3 196.5L802.4 196.8L798.6 198.3L796.8 197.9L795.9 196.4L797.7 196.2"/>
<path d="M722.5 119.5L720.3 122.5L716.3 120.4L715.8 118.9L721.3 117.6L722.5 119.5"/>
<path d="M933.4 510.1L935.8 511.3L939.4 511.8L939.5 512.5L938.4 514.2L932.7 514.4L932.6 512.4L933.2 510.9L933.4 510.1"/>
<path d="M451.6 627.8L450.4 629.8L449.4 631.4L441.5 630.9L433.1 631.1L428.4 629.9L428.4 629.8L426.4 628.7L434.8 628.8L442.9 629.2L445.7 627.6L447.7 626.3L451.6 627.8"/>
<path d="M78 625.8L70.8 626.3L65.8 625L63.6 623.7L63.5 623.5L61.1 622.4L63.3 621L70.3 621.6L74.1 622.8L76.9 624.1L78 625.8"/>
<path d="M505.6 620.4L510.2 622L511.9 624.3L512.3 625.9L512.5 627.8L506.6 629L500.5 629.9L493.5 630.8L485.6 631.5L476.8 631.3L471.8 630.1L472.5 628.5L480.5 627.5L483.7 626.2L486.1 624.6L487.8 623.2L490 621.9L492.5 620.4L494.4 620.4L500 619.6L505.6 620.4"/>
<path d="M220.4 603.3L225.3 603.9L229.8 603.3L227.6 604.6L224.1 605.5L218.9 605.2L215.2 603.9L215.9 602.7L220.4 603.3"/>
<path d="M204.1 603.3L209.9 604.7L207.7 604.6L202.8 604.2L197.7 603.2L200.4 602.4L204.1 603.3"/>
<path d="M303.8 597.4L307.9 598L312 597.5L314.2 599.7L311.3 599.4L306.7 599.5L302.1 599.4L297 599.6L293.2 598.9L291.2 597.3L293.6 596.7L298.4 597.1L303.8 597.4"/>
<path d="M418.3 593.8L418.7 595.5L418 597L417 598.3L412.6 598.9L408.4 599.6L403.5 599.5L405.3 598L396.7 599.1L393.9 598L393.7 596.4L397.8 595L400.3 594.5L404.7 594.7L405.8 592.8L406 591.4L405.9 588.4L408.1 586.6L411.5 586L413.5 587.4L414.4 588.8L416 590.5L417.2 592.1L418.3 593.8"/>
<path d="M455.2 568.3L453.5 569.1L450.7 568.5L447.7 568.9L445.1 569.8L442.4 570.7L440.5 571.8L440 573.3L440.2 574.7L442 575.9L439.4 576.8L435.9 577.1L433.9 578.4L431.7 579.5L429.3 581.1L428.7 582.5L430 584.1L432 585.3L435.1 586.1L438 587.3L439.5 588.8L440.3 590.2L441.4 591.6L443.2 592.9L444.3 594.3L444.8 597.7L445.9 599.1L446.2 600.6L447.4 602.1L446.8 604.1L444.8 605.6L442.6 606.9L437.6 607.4L435.9 608.7L433.6 609.9L428 611.4L423 611.9L418.3 612.7L413.2 613.5L410.2 615.1L404.2 615.2L397.6 615.1L391.6 615.4L385.3 615.4L386.5 616.8L392.2 617.5L396.4 618.5L398.7 619.9L394.6 621L388.1 620.6L382.7 621.6L382.4 624.6L386.8 625.9L387.6 627.3L392.4 628.7L400.3 629.3L407.1 630.3L412.4 631.4L419.2 632.6L428.6 633.2L437.7 634.2L444.1 635.3L451.1 636.6L454.8 638.4L456.6 639.8L461.2 638.4L467.4 637.3L473.9 636.2L481.7 635.2L488.3 634.2L497.7 634.1L506.8 634.6L514.4 635.5L516.8 633.9L522.1 632.8L531.5 632.7L538.9 631.9L546 631.1L553.8 630.6L562.1 629.9L567.9 629L565.3 627.7L563.6 626.3L563.6 624.9L556.4 625.1L548.6 625.7L541.3 625.7L540.3 624.2L540.8 621.5L542.5 620.6L547.8 619.8L554.2 618.9L563.3 616.7L566.6 615.2L571.8 614.6L576.8 614L579.4 613.7L585.2 613.6L590.7 613.1L595.4 612.4L599.9 611.5L604 610.6L609.2 609.4L612.5 608.2L616.1 607.1L617.1 605.6L613.2 604.7L614.5 603.2L617 602L620.9 601.3L625 600.4L628.8 599.2L631.8 597.7L633.6 596L636.3 595L640.8 595.2L642.6 596.4L647.1 596.6L647.3 595.2L649.2 593.7L653.2 594.1L654.2 595.5L658.7 595.7L663.5 595L668.2 594.6L672.5 594.8L674.1 596.4L678.2 595.1L682 594.5L686 593.4L690.5 593.4L694.3 592.5L698.4 591.9L701.7 591.2L703.9 589.8L706.8 590.8L710.7 590.3L713.4 592L715.5 593.3L719.7 592.6L721.4 591.2L725.2 590.1L730.2 590.3L731.7 591.7L734.7 590.3L738.8 589.9L743.2 589.7L747.1 589.8L751.3 590.3L755.4 590.5L757.1 591.7L759.6 592.8L763.7 592.2L768.1 592L772.3 592L776.5 591.9L780.3 591.4L784.2 591L787.5 590L791.1 589.3L794.9 588.9L797.7 587.9L799.8 585.9L801.9 584.6L805.8 585.2L807.3 586.5L810.5 587.4L814.4 587.1L817.1 588.4L819.9 589.4L823.7 588.5L825 586.9L828.4 586.2L832.3 585L835.9 584.4L840.3 583.7L843.3 582.9L846.4 582L849.3 581.2L852.8 581.7L856.2 580.4L858.6 579.3L862.1 579.4L865.2 578.5L866 577.2L869.1 576.2L872.2 575.4L875.9 574.9L879.4 574.6L882.7 574.8L886.3 575.1L889.3 576.2L889.6 577.8L892.9 579L895.2 580.1L899.7 580.5L902.2 581.5L905.3 582.5L908.9 582.8L911.9 582L915.1 580.5L918.6 581.3L922.3 581.7L925.8 582.2L929.5 582.5L933.2 582.5L936.3 586.4L936.2 587.3L935.8 589L932.2 590L929.2 591.4L929.7 592.8L933.9 592.8L933.4 594.2L931.5 595.6L929.7 597.1L932.6 598.3L936.9 598.7L941.2 598L943.3 596.6L944.6 595.2L946.6 594L948.9 592.9L949.9 591.6L951.9 589.7L954.2 589.4L958.5 589.2L962.3 588.8L966 588.2L967.9 586.7L969 585.3L971.6 584L975.2 583L978.4 582.3L980.4 581L982.6 580.4L985.3 579.8L989.1 580.1L992.4 579.8L996.1 579.3L1000.2 579.5L1002.9 578.5L1004.9 576L1006.2 577L1008 578.8L1011.2 579.5L1014.8 579.8L1018.4 579.4L1022.2 579.7L1025.7 579.8L1028.1 579.4L1031.2 579.6L1034.1 580.4L1037.4 579.9L1041.5 579.9L1044.9 579.4L1048.8 579.9L1051.3 578.7L1053.2 577.4L1055.8 576.4L1060.5 573.6L1062.9 574.1L1065.8 575.1L1068.3 576.5L1073.1 578.7L1076.7 578.8L1080.2 578.8L1084.2 578.4L1088.3 577.8L1091.4 576.8L1093.9 575.7L1098.1 575.6L1100.9 574.8L1103.8 575.5L1105.8 576.7L1108.4 577.8L1112.5 577.7L1115.1 578.7L1119.6 579.6L1124.2 580L1128.1 579.7L1131.1 578.5L1133.6 577.3L1137 577L1140.3 577.5L1144.2 577.9L1147.8 577.3L1151.1 577.3L1154.4 577.7L1157.9 578.1L1161.3 577.4L1165.3 576.8L1169.1 576.7L1173.4 576.7L1176.8 576.3L1180.2 576L1181.2 574.2L1181.4 572.6L1183.7 573.7L1184.4 575.3L1185.7 576.9L1187.2 578.1L1190.3 578.8L1194.6 578.6L1199.5 578.5L1202.9 578.3L1207.8 578.3L1211.3 578.2L1216.3 578.4L1220.5 578.7L1223.1 579.8L1222.4 581.2L1224.8 582.3L1228.8 583.2L1233 584.2L1237.9 584.8L1242.9 585.4L1246.7 586L1251 586.1L1253.4 584.8L1256.8 585.9L1259.6 587L1262.9 587.9L1267.5 588.3L1271.8 588.7L1273.6 590.2L1277.9 591.1L1280.8 592.4L1285 593L1289.3 592.9L1293.3 593.1L1297.8 593.1L1302.3 593.3L1306.5 593.9L1310.3 594.7L1314.2 595.5L1316.9 596.6L1316.4 598L1314.5 599.4L1312.8 601L1311.5 602.4L1309.7 603.9L1304.8 604.5L1302.6 605.8L1297.7 606.6L1296 608.1L1293.5 609.5L1290.7 610.7L1289.2 612.2L1288.3 613.6L1287.9 615.3L1288 616.7L1290.1 618.2L1290.9 619.6L1292.6 620.9L1299.6 621.4L1301.1 623L1294.3 623.6L1288.6 624.4L1281.5 624.5L1278.3 626.7L1277.7 628.4L1274.1 631.2L1279.1 632.5L1281 634L1284.2 635.4L1288.8 636.7L1294 637.8L1299.6 639L1308.2 640.2L1310.1 642L1320.9 642.8L1324.4 644.2L1334.8 643.3L1343.4 644.4L1349.9 645.3"/>
<path d="M0 645.3L0.2 645.4L3.5 643.2L10.3 644.4L10.7 644.3L14.7 643.1L15.2 643.1L15.6 643.1L21.1 644.7L25.8 643.1L26.7 642.9L37.7 642.2L41.2 643.1L43 643.6L48.7 644.8L59.3 645.8L67.8 647L82.2 647.8L93 646.8L109 647.6L118 648.7L127.9 647.6L138.3 646.6L139.1 644.8L124.4 644.7L112.3 643.8L109.1 642.3L99 641.5L99.7 639.8L101.1 638.3L102.5 636.9L101.8 635.3L95.5 634.3L92.7 633L86.8 631.8L96 632L104.6 631.4L110.1 632.7L116.7 631.6L122.9 630.2L125.9 629L124.6 627.4L119.8 626.4L114.3 625.3L106.5 625.1L99.8 624.5L92.5 624.2L90.1 622.8L85.2 621.6L82.3 620.3L81.1 616L82.9 616.4L86.4 617.6L92.5 617.2L98.5 616.7L101.5 618.3L107.5 617.9L112.5 617.1L117.2 616.1L121.4 614.9L127.1 614.5L127 613.1L125.6 611.7L126.7 610.4L131.6 609.7L133.8 611L139.5 610.2L143.8 609.3L149.2 609.2L154.3 608.8L159.3 607.9L163.4 607.2L167.9 606.3L170.9 606.6L173.4 606.9L179 606.3L184 607L189.2 606.9L194.1 606.4L199.1 606.8L204.7 607.2L209.9 607L215.4 607.1L221 607.2L226.1 607L229.9 605.9L234.5 605.3L239.1 606.1L243.6 605.5L247.7 604.1L250.1 605.3L251.4 606.6L253.8 607.9L257.7 606.8L262.2 608.2L267.3 608.6L271.6 609.6L276.9 609.4L281.7 608.8L287.3 608.9L292.4 609.4L297.5 610.1L299.5 608.5L297.1 607.2L295.3 605.9L290.4 605.6L288.3 604.2L287.5 602.8L286.2 600L289 600.5L293.9 600.7L298.8 600.5L303.2 601.1L307 602.2L308.6 603.6L313.7 603.8L318.6 603.3L323.7 602.5L328.3 602.1L332.1 603L337.1 602.7L340.4 599.8L343.4 601.5L347.7 602.2L352.4 601.8L355.5 603.3L360.4 603.4L364.9 603.9L369.4 604.6L372.4 603.3L373.8 601.9L377.6 603.4L382.7 603L386.5 603.9L389.1 605.1L394.1 604.7L398 603.9L401.8 603L406.4 602.4L411.7 602L416.4 601.5L420.1 600.7L422.3 599.5L423.2 597.9L422.8 596.4L421.6 594.9L420.3 593.4L419.1 591.9L418.1 590.6L417.9 589.2L418.3 587.7L420 586.3L421.5 584.7L422.1 583.3L421.4 581.7L420.9 580.2L422.8 578.5L424.8 577.4L427.2 576L429.8 574.9L432.8 573.7L434.3 572.1L436.3 571.1L438.7 570.1L442.3 569.9L444.7 568.7L447.3 568L450.4 567.6L453.1 566.6L455.2 565.4L458.2 565L460.4 566L459 567.2L455.2 568.3"/>
</g>
</defs>
<g transform="translate(78.4 132.5)">
<g clip-path="url(#axclip)">
<g shape-rendering="crispEdges">
<rect x="-2" y="-2" width="1335.1" height="659.8" fill="#0034ff"/>
<path fill="#0000fa" d="M-40 6C-38 5.1 -32.1 7.1 -28.1 7.7C-24.1 8.3 -20.1 8.9 -16.2 9.5C-12.2 10.1 -8.3 10.6 -4.4 11.2C-0.5 11.8 3.5 12.5 7.4 13.3C11.3 14.1 15.3 14.9 19.1 15.9C23 16.9 26.8 18.1 30.5 19.5C34.2 20.9 37.9 22.5 41.5 24.2C45.1 25.9 48.6 27.8 52.1 29.8C55.6 31.8 58.9 33.9 62.2 36.2C65.5 38.5 68.7 40.9 71.7 43.5C74.7 46.1 77.7 48.8 80.2 51.8C82.7 54.8 85.5 58 86.9 61.3C88.3 64.6 89.2 68.4 88.8 71.8C88.4 75.2 86.6 78.8 84.5 81.8C82.4 84.8 79.1 87.3 76.1 89.8C73 92.3 69.5 94.4 66.2 96.6C62.9 98.8 59.5 100.8 56.2 103.1C52.9 105.3 49.6 107.7 46.4 110.1C43.2 112.5 40 114.9 36.9 117.4C33.8 120 30.8 122.7 27.9 125.4C25 128.2 22.3 131 19.5 133.9C16.7 136.8 14 139.7 11.3 142.6C8.6 145.5 5.8 148.4 3.1 151.3C0.4 154.2 -2.3 157.2 -5 160.2C-7.7 163.2 -10.3 166.2 -13 169.2C-15.7 172.2 -18.3 175.2 -20.9 178.2C-23.5 181.2 -26.2 184.2 -28.8 187.2C-31.4 190.2 -34.8 195.2 -36.7 196.2C-38.6 197.2 -39.5 195.5 -40 193C-40.5 190.5 -40 185 -40 181C-40 177 -40 173 -40 169C-40 165 -40 161 -40 157C-40 153 -40 149 -40 145C-40 141 -40 137 -40 133C-40 129 -40 125 -40 121C-40 117 -40 113 -40 109C-40 105 -40 101 -40 97C-40 93 -40 89 -40 85C-40 81 -40 77 -40 73C-40 69 -40 65 -40 61C-40 57 -40 53 -40 49C-40 45 -40 41 -40 37C-40 33 -40 29 -40 25C-40 21 -40 16.2 -40 13C-40 9.8 -42 6.9 -40 6Z"/>
<path fill="#0000fa" d="M656.2 69.4C657.2 67.5 660.6 66.2 663.6 64.6C666.6 63 670.8 61.5 674.4 60C678 58.5 681.8 56.9 685.5 55.4C689.2 53.9 692.9 52.3 696.6 50.8C700.3 49.3 704 47.6 707.7 46.2C711.4 44.8 715.2 43.4 719 42.2C722.8 41.1 726.7 40.2 730.6 39.3C734.5 38.4 738.4 37.7 742.3 36.9C746.2 36.1 750.2 35.3 754.1 34.5C758 33.7 761.9 33 765.8 32.2C769.7 31.4 773.7 30.6 777.6 29.8C781.5 29 785.5 28.3 789.4 27.5C793.3 26.7 797.2 25.9 801.1 25.1C805 24.3 809 23.5 812.9 22.8C816.8 22.1 820.8 21.4 824.7 20.7C828.7 20 832.7 19.4 836.6 18.8C840.5 18.2 844.5 17.6 848.4 17C852.3 16.4 856.3 15.8 860.3 15.2C864.3 14.6 868.2 14 872.2 13.5C876.2 13 880.1 12.5 884.1 12.1C888.1 11.7 892 11.3 896 10.9C900 10.5 904 10.1 908 9.7C912 9.3 915.9 8.9 919.9 8.6C923.9 8.3 927.9 8 931.9 7.7C935.9 7.4 939.9 7.2 943.9 7C947.9 6.8 951.8 6.6 955.8 6.4C959.8 6.2 963.8 6 967.8 5.8C971.8 5.6 975.8 5.5 979.8 5.4C983.8 5.3 987.8 5.3 991.8 5.2C995.8 5.1 999.8 5 1003.8 5C1007.8 5 1011.8 4.9 1015.8 4.9C1019.8 4.9 1023.8 4.8 1027.8 4.8C1031.8 4.8 1035.8 4.8 1039.8 4.8C1043.8 4.8 1047.8 4.8 1051.8 4.8C1055.8 4.8 1059.8 4.8 1063.8 4.8C1067.8 4.8 1071.8 4.8 1075.8 4.8C1079.8 4.8 1083.8 4.8 1087.8 4.8C1091.8 4.8 1095.8 4.8 1099.8 4.8C1103.8 4.8 1107.8 4.8 1111.8 4.8C1115.8 4.8 1119.8 4.8 1123.8 4.8C1127.8 4.8 1131.8 4.8 1135.8 4.8C1139.8 4.8 1143.8 4.8 1147.8 4.8C1151.8 4.8 1155.8 4.9 1159.8 4.9C1163.8 4.9 1167.8 5 1171.8 5C1175.8 5 1179.8 5 1183.8 5C1187.8 5 1191.8 5.1 1195.8 5.1C1199.8 5.1 1203.8 5.1 1207.8 5.1C1211.8 5.1 1215.8 5.2 1219.8 5.2C1223.8 5.2 1227.8 5.3 1231.8 5.3C1235.8 5.3 1239.8 5.4 1243.8 5.4C1247.8 5.4 1251.8 5.5 1255.8 5.5C1259.8 5.5 1263.8 5.7 1267.8 5.7C1271.8 5.8 1275.8 5.8 1279.8 5.8C1283.8 5.8 1287.8 6 1291.8 6C1295.8 6 1299.8 6 1303.8 6.1C1307.8 6.1 1311.8 6.2 1315.8 6.3C1319.8 6.3 1323.8 6.4 1327.8 6.4C1331.8 6.5 1335.8 6.5 1339.8 6.6C1343.8 6.7 1347.8 6.8 1351.8 6.8C1355.8 6.8 1360.6 6.1 1363.8 6.9C1367 7.7 1369.9 8.9 1371.1 11.7C1372.3 14.5 1371.1 19.7 1371.1 23.7C1371.1 27.7 1371.1 31.7 1371.1 35.7C1371.1 39.7 1371.1 43.7 1371.1 47.7C1371.1 51.7 1371.1 55.7 1371.1 59.7C1371.1 63.7 1371.1 67.7 1371.1 71.7C1371.1 75.7 1371.1 79.7 1371.1 83.7C1371.1 87.7 1371.1 91.7 1371.1 95.7C1371.1 99.7 1371.1 103.7 1371.1 107.7C1371.1 111.7 1371.1 115.7 1371.1 119.7C1371.1 123.7 1371.1 127.7 1371.1 131.7C1371.1 135.7 1371.1 139.7 1371.1 143.7C1371.1 147.7 1371.1 151.7 1371.1 155.7C1371.1 159.7 1371.1 163.7 1371.1 167.7C1371.1 171.7 1372.5 177.6 1371.1 179.7C1369.7 181.8 1366.2 180.8 1362.9 180.2C1359.6 179.6 1355.3 177.6 1351.5 176.3C1347.7 175 1344 173.7 1340.2 172.4C1336.4 171.1 1332.6 169.8 1328.8 168.5C1325 167.2 1321.3 165.9 1317.5 164.6C1313.7 163.3 1309.9 162 1306.1 160.7C1302.3 159.4 1298.6 158 1294.8 156.7C1291 155.4 1287.3 154 1283.5 152.8C1279.7 151.6 1275.9 150.4 1272 149.5C1268.1 148.6 1264.2 147.9 1260.2 147.2C1256.2 146.5 1252.3 145.9 1248.3 145.5C1244.3 145.1 1240.4 144.7 1236.4 144.5C1232.4 144.3 1228.5 144.3 1224.5 144.2C1220.5 144.1 1216.5 144.2 1212.5 144C1208.5 143.8 1204.5 143.5 1200.5 143.1C1196.5 142.7 1192.7 142.1 1188.7 141.5C1184.8 140.9 1180.8 140.3 1176.8 139.8C1172.8 139.3 1168.8 139 1164.8 138.6C1160.8 138.2 1156.9 137.9 1152.9 137.6C1148.9 137.3 1144.9 137 1140.9 136.7C1136.9 136.4 1132.9 136.1 1128.9 135.8C1124.9 135.5 1121 135.3 1117 135C1113 134.7 1109 134.4 1105 134.1C1101 133.8 1097 133.7 1093 133.4C1089 133.2 1085.1 132.8 1081.1 132.6C1077.1 132.3 1073.1 132.1 1069.1 131.9C1065.1 131.7 1061.1 131.4 1057.1 131.2C1053.1 131 1049.1 130.8 1045.1 130.5C1041.1 130.2 1037.1 130 1033.1 129.7C1029.1 129.4 1025.2 129.2 1021.2 128.9C1017.2 128.7 1013.2 128.4 1009.2 128.2C1005.2 127.9 1001.2 127.7 997.2 127.4C993.2 127.1 989.2 126.8 985.2 126.6C981.2 126.3 977.3 126.1 973.3 125.9C969.3 125.7 965.3 125.5 961.3 125.3C957.3 125.1 953.3 124.8 949.3 124.6C945.3 124.3 941.3 124.1 937.3 123.8C933.3 123.5 929.4 123 925.4 122.5C921.4 122 917.5 121.6 913.5 121.1C909.5 120.6 905.6 120.1 901.6 119.6C897.6 119.1 893.7 118.6 889.7 118.1C885.7 117.6 881.8 117.1 877.8 116.6C873.8 116.1 869.9 115.6 865.9 115.2C861.9 114.8 857.9 114.4 853.9 114C849.9 113.6 846 113.2 842 112.7C838 112.2 834.1 111.6 830.1 111.1C826.1 110.5 822.2 110 818.2 109.4C814.2 108.8 810.4 108.2 806.4 107.6C802.4 107 798.5 106.4 794.5 105.8C790.5 105.2 786.6 104.6 782.6 104.1C778.6 103.5 774.7 103 770.7 102.5C766.7 102 762.8 101.6 758.8 101.2C754.8 100.8 750.9 100.4 746.9 99.9C742.9 99.5 739 99 735 98.5C731 98 727.1 97.4 723.1 96.8C719.1 96.2 715.2 95.6 711.2 94.9C707.2 94.2 703.3 93.6 699.4 92.8C695.5 92 691.6 91.2 687.7 90.2C683.8 89.2 679.9 88.2 676.2 86.9C672.5 85.6 668.5 84.2 665.4 82.4C662.2 80.6 658.8 78.1 657.3 75.9C655.8 73.7 655.2 71.3 656.2 69.4Z"/>
<path fill="#0000fa" d="M620 695.8C619.1 693.8 620.7 687.8 621.1 683.8C621.5 679.8 621.8 675.9 622.2 671.9C622.6 667.9 623.1 663.9 623.7 660C624.4 656.1 625.4 652.2 626.1 648.3C626.8 644.4 627.8 640.6 627.9 636.7C628 632.9 627.6 629 627 625.2C626.4 621.4 625 617.6 624.3 613.7C623.6 609.9 622.8 605.8 623 602.1C623.2 598.4 623.8 594.6 625.5 591.5C627.2 588.4 630.1 585.8 633.1 583.5C636.1 581.2 639.9 579.6 643.4 577.8C646.9 576 650.6 574.5 654.2 572.8C657.8 571 661.4 569.2 664.9 567.3C668.4 565.4 671.9 563.5 675.3 561.4C678.7 559.3 682.1 557.2 685.2 554.8C688.3 552.4 691.3 549.7 694.1 546.9C696.9 544.1 699.7 541.2 702 538C704.3 534.8 706.4 531.4 708.1 527.9C709.9 524.4 711.2 520.5 712.5 516.8C713.8 513 714.8 509.1 716.1 505.4C717.5 501.7 718.7 497.9 720.6 494.6C722.5 491.3 725 488.3 727.8 485.6C730.6 482.9 734 480.5 737.3 478.4C740.6 476.3 744.2 474.6 747.8 473C751.4 471.4 755.2 470.1 759 468.8C762.8 467.5 766.6 466.2 770.4 465.1C774.2 464 778.1 463 782 462.1C785.9 461.2 789.8 460.5 793.8 459.9C797.8 459.3 801.7 459 805.7 458.6C809.7 458.2 813.6 458 817.6 457.7C821.6 457.4 825.6 457.1 829.6 456.8C833.6 456.5 837.6 456.2 841.6 455.9C845.6 455.6 849.5 455.3 853.5 455C857.5 454.7 861.5 454.3 865.5 454C869.5 453.7 873.4 453.4 877.4 453.1C881.4 452.8 885.4 452.4 889.4 452.1C893.4 451.8 897.4 451.4 901.4 451.1C905.4 450.8 909.3 450.5 913.3 450.1C917.3 449.8 921.3 449.3 925.3 449C929.3 448.7 933.2 448.4 937.2 448.1C941.2 447.8 945.2 447.5 949.2 447.3C953.2 447.1 957.2 446.9 961.2 446.7C965.2 446.5 969.2 446.4 973.2 446.3C977.2 446.2 981.2 446.2 985.2 446.2C989.2 446.2 993.2 446.2 997.2 446.2C1001.2 446.2 1005.2 446.2 1009.2 446.3C1013.2 446.4 1017.2 446.4 1021.2 446.5C1025.2 446.6 1029.2 446.6 1033.2 446.6C1037.2 446.6 1041.2 446.6 1045.2 446.5C1049.2 446.4 1053.2 446.2 1057.2 446.1C1061.2 446 1065.1 445.8 1069.1 445.6C1073.1 445.4 1077.1 445.1 1081.1 444.8C1085.1 444.5 1089.1 444.2 1093.1 443.9C1097.1 443.6 1101 443.3 1105 443.1C1109 442.9 1113 442.8 1117 442.7C1121 442.6 1125 442.5 1129 442.4C1133 442.3 1137 442.3 1141 442.3C1145 442.3 1149 442.3 1153 442.4C1157 442.5 1161 442.6 1165 442.7C1169 442.8 1173 442.8 1177 442.9C1181 443 1185 443.1 1189 443.1C1193 443.2 1197 443.2 1201 443.2C1205 443.1 1209 443 1213 442.8C1217 442.6 1221 442.2 1224.9 441.8C1228.8 441.4 1232.9 441.2 1236.6 440.1C1240.2 439.1 1243.9 437.7 1246.8 435.5C1249.7 433.3 1251.9 430.1 1253.7 426.9C1255.5 423.6 1256.3 419.6 1257.7 416C1259.1 412.4 1260.4 408.6 1262.2 405.1C1264 401.6 1266.4 398.5 1268.5 395.2C1270.6 391.9 1273.4 388.6 1274.6 385.4C1275.8 382.2 1276.7 378.5 1275.8 375.8C1274.9 373.1 1272.2 370.6 1269.3 369C1266.4 367.4 1262.1 366.9 1258.3 366.1C1254.5 365.3 1250.4 365 1246.5 364.3C1242.6 363.6 1238.6 363 1234.8 361.9C1231 360.8 1227.4 359.6 1223.9 357.8C1220.4 356.1 1217.1 353.7 1213.9 351.4C1210.7 349.1 1207.6 346.4 1204.5 344C1201.4 341.6 1198.4 339 1195.1 336.8C1191.8 334.6 1188.3 332.7 1184.8 330.9C1181.3 329.1 1177.5 327.6 1173.9 326C1170.3 324.4 1166.4 322.9 1163 321C1159.6 319.1 1155.7 317.1 1153.3 314.9C1150.9 312.6 1148.6 309.8 1148.6 307.5C1148.6 305.2 1150.8 303.1 1153.3 301.1C1155.8 299.2 1159.9 297.5 1163.4 295.8C1166.9 294.1 1170.7 292.4 1174.3 290.8C1177.9 289.2 1181.6 287.6 1185.3 286.1C1189 284.6 1192.7 283 1196.4 281.6C1200.2 280.2 1204 278.8 1207.8 277.9C1211.6 277 1215.4 276.1 1219.2 276C1223 275.9 1226.9 276.5 1230.8 277.2C1234.7 277.9 1238.6 279.1 1242.4 280.2C1246.2 281.3 1250 282.7 1253.8 283.9C1257.6 285.1 1261.4 286.5 1265.2 287.6C1269 288.7 1272.9 289.9 1276.8 290.5C1280.7 291.1 1284.6 291.2 1288.6 291.4C1292.5 291.6 1296.7 291.3 1300.5 291.7C1304.3 292.1 1308.2 292.6 1311.7 294C1315.2 295.4 1318.4 297.6 1321.6 299.8C1324.8 302 1327.9 304.8 1331 307.3C1334.1 309.8 1337.2 312.4 1340.3 314.9C1343.4 317.4 1346.5 320 1349.6 322.5C1352.7 325 1355.8 327.5 1358.9 330C1362 332.5 1366.2 334.6 1368.2 337.6C1370.2 340.6 1370.6 344.4 1371.1 348.2C1371.6 352 1371.1 356.2 1371.1 360.2C1371.1 364.2 1371.1 368.2 1371.1 372.2C1371.1 376.2 1371.1 380.2 1371.1 384.2C1371.1 388.2 1371.1 392.2 1371.1 396.2C1371.1 400.2 1371.1 404.2 1371.1 408.2C1371.1 412.2 1371.1 416.2 1371.1 420.2C1371.1 424.2 1371.1 428.2 1371.1 432.2C1371.1 436.2 1371.1 440.2 1371.1 444.2C1371.1 448.2 1371.1 452.2 1371.1 456.2C1371.1 460.2 1371.1 464.2 1371.1 468.2C1371.1 472.2 1371.1 476.2 1371.1 480.2C1371.1 484.2 1371.1 488.2 1371.1 492.2C1371.1 496.2 1371.1 500.2 1371.1 504.2C1371.1 508.2 1371.1 512.2 1371.1 516.2C1371.1 520.2 1371.1 524.2 1371.1 528.2C1371.1 532.2 1371.1 536.2 1371.1 540.2C1371.1 544.2 1371.1 548.2 1371.1 552.2C1371.1 556.2 1371.1 560.2 1371.1 564.2C1371.1 568.2 1371.1 572.2 1371.1 576.2C1371.1 580.2 1371.1 584.2 1371.1 588.2C1371.1 592.2 1371.1 596.2 1371.1 600.2C1371.1 604.2 1371.1 608.2 1371.1 612.2C1371.1 616.2 1371.1 620.2 1371.1 624.2C1371.1 628.2 1371.1 632.2 1371.1 636.2C1371.1 640.2 1371.1 644.2 1371.1 648.2C1371.1 652.2 1371.1 656.2 1371.1 660.2C1371.1 664.2 1371.1 668.2 1371.1 672.2C1371.1 676.2 1371.2 680.3 1371.1 684.2C1371 688.1 1372.8 693.9 1370.7 695.8C1368.6 697.7 1362.7 695.8 1358.7 695.8C1354.7 695.8 1350.7 695.8 1346.7 695.8C1342.7 695.8 1338.7 695.8 1334.7 695.8C1330.7 695.8 1326.7 695.8 1322.7 695.8C1318.7 695.8 1314.7 695.8 1310.7 695.8C1306.7 695.8 1302.7 695.8 1298.7 695.8C1294.7 695.8 1290.7 695.8 1286.7 695.8C1282.7 695.8 1278.7 695.8 1274.7 695.8C1270.7 695.8 1266.7 695.8 1262.7 695.8C1258.7 695.8 1254.7 695.8 1250.7 695.8C1246.7 695.8 1242.7 695.8 1238.7 695.8C1234.7 695.8 1230.7 695.8 1226.7 695.8C1222.7 695.8 1218.7 695.8 1214.7 695.8C1210.7 695.8 1206.7 695.8 1202.7 695.8C1198.7 695.8 1194.7 695.8 1190.7 695.8C1186.7 695.8 1182.7 695.8 1178.7 695.8C1174.7 695.8 1170.7 695.8 1166.7 695.8C1162.7 695.8 1158.7 695.8 1154.7 695.8C1150.7 695.8 1146.7 695.8 1142.7 695.8C1138.7 695.8 1134.7 695.8 1130.7 695.8C1126.7 695.8 1122.7 695.8 1118.7 695.8C1114.7 695.8 1110.7 695.8 1106.7 695.8C1102.7 695.8 1098.7 695.8 1094.7 695.8C1090.7 695.8 1086.7 695.8 1082.7 695.8C1078.7 695.8 1074.7 695.8 1070.7 695.8C1066.7 695.8 1062.7 695.8 1058.7 695.8C1054.7 695.8 1050.7 695.8 1046.7 695.8C1042.7 695.8 1038.7 695.8 1034.7 695.8C1030.7 695.8 1026.7 695.8 1022.7 695.8C1018.7 695.8 1014.7 695.8 1010.7 695.8C1006.7 695.8 1002.7 695.8 998.7 695.8C994.7 695.8 990.7 695.8 986.7 695.8C982.7 695.8 978.7 695.8 974.7 695.8C970.7 695.8 966.7 695.8 962.7 695.8C958.7 695.8 954.7 695.8 950.7 695.8C946.7 695.8 942.7 695.8 938.7 695.8C934.7 695.8 930.7 695.8 926.7 695.8C922.7 695.8 918.7 695.8 914.7 695.8C910.7 695.8 906.7 695.8 902.7 695.8C898.7 695.8 894.7 695.8 890.7 695.8C886.7 695.8 882.7 695.8 878.7 695.8C874.7 695.8 870.7 695.8 866.7 695.8C862.7 695.8 858.7 695.8 854.7 695.8C850.7 695.8 846.7 695.8 842.7 695.8C838.7 695.8 834.7 695.8 830.7 695.8C826.7 695.8 822.7 695.8 818.7 695.8C814.7 695.8 810.7 695.8 806.7 695.8C802.7 695.8 798.7 695.8 794.7 695.8C790.7 695.8 786.7 695.8 782.7 695.8C778.7 695.8 774.7 695.8 770.7 695.8C766.7 695.8 762.7 695.8 758.7 695.8C754.7 695.8 750.7 695.8 746.7 695.8C742.7 695.8 738.7 695.8 734.7 695.8C730.7 695.8 726.7 695.8 722.7 695.8C718.7 695.8 714.7 695.8 710.7 695.8C706.7 695.8 702.7 695.8 698.7 695.8C694.7 695.8 690.7 695.8 686.7 695.8C682.7 695.8 678.7 695.8 674.7 695.8C670.7 695.8 666.7 695.8 662.7 695.8C658.7 695.8 654.7 695.8 650.7 695.8C646.7 695.8 642.7 695.8 638.7 695.8C634.7 695.8 629.8 695.8 626.7 695.8C623.6 695.8 620.9 697.8 620 695.8Z"/>
<path fill="#0000fa" d="M-40 345C-39.1 344.8 -36.3 352.1 -34.5 355.7C-32.7 359.3 -30.9 362.8 -29.1 366.4C-27.3 369.9 -25.4 373.4 -23.6 377C-21.8 380.6 -19.9 384.1 -18.1 387.7C-16.3 391.3 -14.4 394.8 -12.6 398.4C-10.8 402 -9 405.5 -7.2 409.1C-5.4 412.7 -3.5 416.2 -1.7 419.8C0.1 423.4 1.8 426.9 3.6 430.5C5.4 434.1 7 437.8 8.9 441.3C10.8 444.8 12.7 448.3 14.8 451.7C16.9 455.1 19.1 458.4 21.6 461.5C24.1 464.6 26.8 467.5 29.7 470.1C32.6 472.7 35.9 475.2 39.2 477.3C42.5 479.4 46.1 481.2 49.6 483C53.1 484.8 56.9 486.3 60.5 488C64.1 489.7 67.8 491.4 71.4 493.1C75 494.9 78.5 496.7 82.1 498.5C85.6 500.3 89.2 502.1 92.7 504C96.2 505.9 99.8 507.8 103.2 509.9C106.6 512 110.3 514.1 113 516.5C115.7 518.9 118.5 521.6 119.3 524.4C120.1 527.2 119.2 530.4 117.8 533.4C116.4 536.4 113.4 539.5 111 542.5C108.6 545.5 105.5 548.5 103.6 551.7C101.7 554.9 100.1 558.3 99.8 561.8C99.5 565.3 100.5 569.1 101.8 572.6C103.1 576.1 105.4 579.5 107.5 582.9C109.6 586.2 112.3 589.4 114.3 592.7C116.3 596 118.6 599.4 119.5 602.8C120.4 606.2 120.2 609.7 119.5 613.2C118.8 616.7 116.5 620.1 115.3 623.7C114.1 627.3 113 631.1 112.4 635C111.8 638.9 111.8 642.9 111.8 646.9C111.8 650.9 112.1 654.8 112.2 658.8C112.3 662.8 112.4 666.8 112.4 670.8C112.4 674.8 112.3 678.8 112.2 682.8C112.1 686.8 113.9 692.6 112 694.8C110.1 697 104.8 695.6 101 695.8C97.2 696 93 695.8 89 695.8C85 695.8 81 695.8 77 695.8C73 695.8 69 695.8 65 695.8C61 695.8 57 695.8 53 695.8C49 695.8 45 695.8 41 695.8C37 695.8 33 695.8 29 695.8C25 695.8 21 695.8 17 695.8C13 695.8 9 695.8 5 695.8C1 695.8 -3 695.8 -7 695.8C-11 695.8 -15 695.8 -19 695.8C-23 695.8 -27.5 696.3 -31 695.8C-34.5 695.3 -38.5 695.3 -40 692.8C-41.5 690.3 -40 684.8 -40 680.8C-40 676.8 -40 672.8 -40 668.8C-40 664.8 -40 660.8 -40 656.8C-40 652.8 -40 648.8 -40 644.8C-40 640.8 -40 636.8 -40 632.8C-40 628.8 -40 624.8 -40 620.8C-40 616.8 -40 612.8 -40 608.8C-40 604.8 -40 600.8 -40 596.8C-40 592.8 -40 588.8 -40 584.8C-40 580.8 -40 576.8 -40 572.8C-40 568.8 -40 564.8 -40 560.8C-40 556.8 -40 552.8 -40 548.8C-40 544.8 -40 540.8 -40 536.8C-40 532.8 -40 528.8 -40 524.8C-40 520.8 -40 516.8 -40 512.8C-40 508.8 -40 504.8 -40 500.8C-40 496.8 -40 492.8 -40 488.8C-40 484.8 -40 480.8 -40 476.8C-40 472.8 -40 468.8 -40 464.8C-40 460.8 -40 456.8 -40 452.8C-40 448.8 -40 444.8 -40 440.8C-40 436.8 -40 432.8 -40 428.8C-40 424.8 -40 420.8 -40 416.8C-40 412.8 -40 408.8 -40 404.8C-40 400.8 -40 396.8 -40 392.8C-40 388.8 -40 384.8 -40 380.8C-40 376.8 -40 372.8 -40 368.8C-40 364.8 -40 360.8 -40 356.8C-40 352.8 -40.9 345.2 -40 345Z"/>
<path fill="#0000a8" d="M929 78.2C929.9 77.4 934.5 76.7 938 75.8C941.5 74.9 945.8 73.9 949.7 73.1C953.6 72.3 957.5 71.6 961.5 71.1C965.5 70.6 969.5 70.3 973.5 70C977.5 69.7 981.4 69.4 985.4 69.1C989.4 68.8 993.4 68.5 997.4 68.2C1001.4 67.9 1005.4 67.6 1009.4 67.4C1013.4 67.2 1017.3 67 1021.3 66.8C1025.3 66.6 1029.3 66.4 1033.3 66.2C1037.3 66 1041.3 65.8 1045.3 65.6C1049.3 65.4 1053.3 65.2 1057.3 65C1061.3 64.8 1065.3 64.7 1069.3 64.6C1073.3 64.5 1077.3 64.4 1081.3 64.3C1085.3 64.2 1089.3 64 1093.3 63.9C1097.3 63.8 1101.3 63.7 1105.3 63.6C1109.3 63.5 1113.3 63.4 1117.3 63.3C1121.3 63.2 1125.3 63.2 1129.3 63.1C1133.3 63 1137.3 62.9 1141.3 62.8C1145.3 62.7 1149.3 62.6 1153.3 62.6C1157.3 62.6 1161.3 62.6 1165.3 62.6C1169.3 62.6 1173.3 62.8 1177.3 62.9C1181.3 63 1185.3 63.2 1189.3 63.3C1193.3 63.4 1197.2 63.4 1201.2 63.7C1205.2 64 1209.2 64.2 1213.1 65C1217 65.8 1221.2 67.2 1224.5 68.5C1227.8 69.8 1232.2 71.1 1233 72.6C1233.8 74.1 1231.5 75.9 1229 77.3C1226.5 78.7 1221.9 80.1 1218.1 81.1C1214.3 82.1 1210.2 82.7 1206.3 83.4C1202.4 84.1 1198.5 84.8 1194.5 85.4C1190.5 86 1186.6 86.5 1182.6 87C1178.6 87.5 1174.6 87.8 1170.6 88.1C1166.6 88.4 1162.7 88.7 1158.7 89C1154.7 89.3 1150.7 89.7 1146.7 90C1142.7 90.3 1138.8 90.6 1134.8 90.9C1130.8 91.2 1126.8 91.4 1122.8 91.6C1118.8 91.8 1114.8 92 1110.8 92.2C1106.8 92.4 1102.8 92.6 1098.8 92.8C1094.8 93 1090.8 93.1 1086.8 93.3C1082.8 93.5 1078.8 93.6 1074.8 93.7C1070.8 93.8 1066.8 93.8 1062.8 93.8C1058.8 93.8 1054.8 93.9 1050.8 93.9C1046.8 93.9 1042.8 94 1038.8 94C1034.8 94 1030.8 94 1026.8 93.9C1022.8 93.8 1018.8 93.7 1014.8 93.5C1010.8 93.3 1006.8 93.2 1002.8 93C998.8 92.8 994.9 92.7 990.9 92.5C986.9 92.3 982.9 92.2 978.9 91.7C974.9 91.2 971 90.5 967.1 89.8C963.2 89.1 959.2 88.3 955.3 87.4C951.4 86.5 947.5 85.6 943.7 84.5C939.9 83.4 935.2 81.8 932.7 80.8C930.2 79.8 928.1 79 929 78.2Z"/>
<path fill="#0000a8" d="M760.7 555.9C760.9 552.9 761.5 549.6 763 546.6C764.5 543.6 766.9 540.3 769.6 537.7C772.3 535.1 775.6 532.8 779 530.9C782.4 529 786.2 527.6 789.9 526.2C793.6 524.8 797.4 523.8 801.3 522.7C805.1 521.6 809.1 520.7 813 519.8C816.9 518.9 820.8 518.1 824.7 517.3C828.6 516.5 832.6 515.8 836.5 515C840.4 514.2 844.3 513.4 848.2 512.6C852.1 511.8 856.1 511.1 860 510.3C863.9 509.5 867.8 508.6 871.7 507.6C875.6 506.6 879.4 505.6 883.3 504.5C887.1 503.4 891 502.2 894.8 501.1C898.6 500 902.4 498.9 906.3 497.8C910.1 496.8 914 495.8 917.9 494.8C921.8 493.8 925.7 492.8 929.6 491.8C933.5 490.8 937.4 489.9 941.2 488.8C945.1 487.8 948.9 486.6 952.7 485.5C956.5 484.4 960.3 483.2 964.2 482.3C968.1 481.4 972 480.5 975.9 479.8C979.8 479.1 983.8 478.8 987.8 478.4C991.8 478 995.8 477.7 999.8 477.4C1003.8 477.1 1007.7 476.8 1011.7 476.5C1015.7 476.2 1019.7 475.9 1023.7 475.6C1027.7 475.3 1031.7 475.1 1035.7 474.8C1039.7 474.5 1043.6 474.3 1047.6 474C1051.6 473.7 1055.6 473.4 1059.6 473.1C1063.6 472.8 1067.6 472.6 1071.6 472.3C1075.6 472.1 1079.6 471.8 1083.6 471.6C1087.6 471.4 1091.5 471.1 1095.5 470.9C1099.5 470.7 1103.5 470.6 1107.5 470.5C1111.5 470.4 1115.5 470.5 1119.5 470.6C1123.5 470.7 1127.5 470.9 1131.5 471C1135.5 471.1 1139.5 471.3 1143.5 471.5C1147.5 471.7 1151.4 472.1 1155.4 472.4C1159.4 472.7 1163.4 473.1 1167.4 473.4C1171.4 473.7 1175.4 474 1179.4 474.4C1183.4 474.8 1187.3 475.1 1191.3 475.5C1195.3 475.9 1199.3 476.2 1203.3 476.5C1207.3 476.8 1211.2 477.2 1215.2 477.5C1219.2 477.8 1223.2 478.2 1227.2 478.5C1231.2 478.8 1235.2 479.1 1239.2 479.3C1243.2 479.6 1247.1 479.8 1251.1 480C1255.1 480.2 1259.1 480.5 1263.1 480.7C1267.1 480.9 1271.1 481.1 1275.1 481.3C1279.1 481.5 1283.1 481.7 1287.1 481.9C1291.1 482.1 1295.1 482.2 1299.1 482.4C1303.1 482.6 1307.1 482.8 1311.1 482.9C1315.1 483 1319.1 483 1323.1 483.1C1327.1 483.2 1331.1 483.2 1335.1 483.3C1339.1 483.4 1343.1 483.5 1347.1 483.6C1351.1 483.7 1355.1 483.7 1359.1 483.8C1363.1 483.9 1369.1 482 1371.1 484C1373.1 486 1371.1 492 1371.1 496C1371.1 500 1371.1 504 1371.1 508C1371.1 512 1371.1 516 1371.1 520C1371.1 524 1371.1 528 1371.1 532C1371.1 536 1371.1 540 1371.1 544C1371.1 548 1371.1 552 1371.1 556C1371.1 560 1371.1 564 1371.1 568C1371.1 572 1371.1 576 1371.1 580C1371.1 584 1371.2 588.1 1371.1 592C1370.9 595.9 1372.3 600.9 1370.2 603.1C1368.1 605.3 1362.3 604.4 1358.3 605C1354.3 605.6 1350.4 606.2 1346.4 606.8C1342.5 607.4 1338.5 608 1334.6 608.6C1330.6 609.2 1326.7 609.8 1322.7 610.4C1318.7 611 1314.8 611.6 1310.8 612.2C1306.8 612.8 1303 613.4 1299 614C1295 614.6 1291.1 615.2 1287.1 615.7C1283.1 616.2 1279.2 616.8 1275.2 617.3C1271.2 617.8 1267.3 618.1 1263.3 618.5C1259.3 618.9 1255.3 619.1 1251.3 619.4C1247.3 619.7 1243.3 620 1239.3 620.2C1235.3 620.5 1231.4 620.7 1227.4 620.9C1223.4 621.1 1219.4 621.4 1215.4 621.6C1211.4 621.8 1207.4 622.1 1203.4 622.3C1199.4 622.5 1195.4 622.6 1191.4 622.8C1187.4 623 1183.4 623.1 1179.4 623.3C1175.4 623.5 1171.4 623.7 1167.4 623.9C1163.4 624.1 1159.5 624.4 1155.5 624.6C1151.5 624.8 1147.5 625 1143.5 625.2C1139.5 625.4 1135.5 625.6 1131.5 625.8C1127.5 626 1123.5 626.1 1119.5 626.3C1115.5 626.5 1111.5 626.7 1107.5 626.9C1103.5 627.1 1099.5 627.3 1095.5 627.5C1091.5 627.7 1087.6 628 1083.6 628.2C1079.6 628.4 1075.6 628.7 1071.6 628.9C1067.6 629.1 1063.6 629.3 1059.6 629.5C1055.6 629.7 1051.6 629.9 1047.6 630.1C1043.6 630.3 1039.6 630.5 1035.6 630.7C1031.6 630.9 1027.6 631.1 1023.6 631.3C1019.6 631.5 1015.7 631.7 1011.7 631.9C1007.7 632.1 1003.7 632.2 999.7 632.4C995.7 632.6 991.7 632.8 987.7 632.9C983.7 633 979.7 633.2 975.7 633.3C971.7 633.4 967.7 633.3 963.7 633.3C959.7 633.3 955.7 633.2 951.7 633.1C947.7 633 943.7 632.9 939.7 632.8C935.7 632.7 931.7 632.7 927.7 632.6C923.7 632.5 919.7 632.4 915.7 632.3C911.7 632.2 907.7 632.1 903.7 631.9C899.7 631.7 895.7 631.3 891.7 631C887.7 630.7 883.8 630.4 879.8 630C875.8 629.6 871.9 629.2 867.9 628.7C863.9 628.2 860 627.6 856 627C852 626.4 848.1 625.8 844.2 625C840.3 624.2 836.4 623.2 832.6 622.1C828.8 621 825 619.7 821.2 618.3C817.5 616.9 813.7 615.6 810.1 613.9C806.5 612.2 803.1 610.4 799.7 608.3C796.3 606.2 793 603.8 789.9 601.4C786.8 599 783.7 596.4 780.9 593.6C778.1 590.8 775.4 587.8 773 584.7C770.6 581.6 768.2 578.2 766.4 574.9C764.6 571.6 763 568 762.1 564.8C761.2 561.6 760.6 558.9 760.7 555.9Z"/>
<path fill="#0000a8" d="M-40 488C-38 488.1 -32.1 489.5 -28.2 490.3C-24.3 491.1 -20.3 491.8 -16.4 492.6C-12.5 493.4 -8.4 493.9 -4.7 495.1C-1 496.3 2.7 497.8 5.9 499.9C9.1 502 12 504.9 14.3 508C16.6 511.1 18.8 514.7 19.8 518.3C20.8 521.9 20.8 525.6 20.4 529.4C19.9 533.1 18.3 537 17.1 540.8C15.9 544.6 14.4 548.4 13.4 552.3C12.4 556.1 11.6 560 11.1 563.9C10.6 567.8 10.7 571.8 10.4 575.8C10.1 579.8 10.1 584 9.1 587.7C8.1 591.4 6.9 595.4 4.6 598.1C2.3 600.8 -1.4 602.4 -4.9 603.7C-8.4 605 -12.7 605.3 -16.6 606C-20.5 606.7 -24.5 607.4 -28.4 608C-32.3 608.6 -38.1 611.5 -40 609.8C-41.9 608.1 -40 601.8 -40 597.8C-40 593.8 -40 589.8 -40 585.8C-40 581.8 -40 577.8 -40 573.8C-40 569.8 -40 565.8 -40 561.8C-40 557.8 -40 553.8 -40 549.8C-40 545.8 -40 541.8 -40 537.8C-40 533.8 -40 529.8 -40 525.8C-40 521.8 -40 517.8 -40 513.8C-40 509.8 -40 505.8 -40 501.8C-40 497.8 -40 492.1 -40 489.8C-40 487.5 -42 487.9 -40 488Z"/>
<path fill="#0080ff" d="M19.4 250C20.5 246.8 21.2 243.6 22.2 240C23.2 236.4 24.2 232.4 25.4 228.6C26.6 224.8 27.9 221 29.5 217.4C31.1 213.8 33 210.2 35.2 207C37.4 203.8 40 200.8 42.8 198C45.6 195.2 48.6 192.6 51.8 190.2C54.9 187.8 58.3 185.5 61.7 183.4C65.1 181.3 68.5 179.3 72 177.4C75.5 175.5 79.1 173.8 82.7 172.1C86.3 170.4 90 168.7 93.7 167.1C97.4 165.5 101 164 104.7 162.5C108.4 161 112.1 159.5 115.8 158C119.5 156.5 123.2 155.1 127 153.7C130.8 152.3 134.6 150.9 138.3 149.5C142.1 148.1 145.8 146.7 149.5 145.3C153.2 143.9 157 142.5 160.8 141.2C164.6 139.9 168.4 138.6 172.2 137.4C176 136.2 179.8 134.9 183.6 133.8C187.4 132.7 191.3 131.6 195.2 130.7C199.1 129.8 203 128.9 206.9 128.1C210.8 127.3 214.8 126.7 218.7 126.1C222.6 125.5 226.6 124.9 230.6 124.3C234.6 123.7 238.5 123.2 242.5 122.7C246.5 122.2 250.4 121.7 254.4 121.2C258.4 120.7 262.3 120.1 266.3 119.6C270.3 119 274.2 118.5 278.2 117.9C282.1 117.3 286.1 116.7 290 116C293.9 115.3 297.9 114.6 301.8 113.7C305.7 112.8 309.5 111.8 313.2 110.4C316.9 109 320.5 107.3 324 105.4C327.5 103.5 330.6 101.1 334 99.1C337.4 97.1 340.9 95.2 344.4 93.4C347.9 91.6 351.6 89.9 355.1 88C358.6 86.1 361.9 84 365.4 82.1C368.9 80.2 372.5 78.3 376.1 76.7C379.8 75.1 383.5 73.7 387.3 72.5C391.1 71.3 394.9 70.4 398.8 69.7C402.7 69 406.7 68.7 410.7 68.5C414.7 68.3 418.6 68.4 422.6 68.7C426.6 69 430.6 69.5 434.5 70.2C438.4 70.9 442.3 71.8 446 73.1C449.7 74.3 453.4 75.9 456.9 77.7C460.4 79.5 463.6 81.8 466.9 84.1C470.1 86.4 473.1 89 476.4 91.3C479.6 93.5 482.9 95.9 486.4 97.6C489.9 99.3 493.7 100.5 497.5 101.5C501.3 102.5 505.3 103.2 509.2 103.8C513.1 104.4 517.1 104.8 521.1 105.2C525.1 105.6 529.1 105.9 533.1 106.2C537.1 106.5 541.1 106.9 545.1 107.2C549.1 107.5 553 107.8 557 108.2C561 108.6 565 109.1 568.9 109.7C572.8 110.3 576.7 111.2 580.6 112.1C584.5 113 588.4 114 592.3 114.9C596.2 115.8 600.1 116.7 604 117.4C607.9 118.1 611.8 118.6 615.8 119.1C619.8 119.6 623.8 120 627.8 120.4C631.8 120.9 635.7 121.3 639.7 121.8C643.7 122.3 647.7 122.8 651.6 123.4C655.5 124 659.5 124.7 663.4 125.3C667.3 125.9 671.3 126.5 675.3 127.1C679.2 127.7 683.1 128.3 687.1 128.9C691.1 129.5 695 130.2 699 130.8C703 131.5 706.8 132.1 710.8 132.8C714.8 133.5 718.8 134.2 722.7 134.8C726.7 135.5 730.5 136.1 734.5 136.7C738.5 137.3 742.4 137.9 746.4 138.5C750.4 139.1 754.3 139.6 758.3 140.1C762.3 140.6 766.2 141.2 770.2 141.7C774.2 142.2 778.1 142.8 782.1 143.2C786.1 143.6 790 144 794 144.3C798 144.6 802 144.9 806 145.1C810 145.3 814 145.5 818 145.7C822 145.9 825.9 146.1 829.9 146.3C833.9 146.5 837.9 146.8 841.9 147C845.9 147.2 849.9 147.3 853.9 147.5C857.9 147.7 861.9 147.9 865.9 148.1C869.9 148.3 873.9 148.4 877.9 148.7C881.9 149 885.9 149.3 889.8 149.9C893.7 150.5 897.6 151.4 901.5 152C905.4 152.6 909.4 153.3 913.4 153.7C917.4 154.1 921.3 154.3 925.3 154.6C929.3 154.9 933.3 155.1 937.3 155.3C941.3 155.6 945.3 155.8 949.3 156.1C953.3 156.3 957.3 156.6 961.3 156.8C965.3 157.1 969.2 157.3 973.2 157.6C977.2 157.9 981.2 158.3 985.2 158.7C989.2 159.1 993.1 159.5 997.1 159.9C1001.1 160.3 1005.1 160.7 1009.1 161.1C1013.1 161.5 1017 161.9 1021 162.3C1025 162.7 1028.9 163.1 1032.9 163.5C1036.9 163.9 1040.8 164.5 1044.8 165C1048.8 165.5 1052.7 166.1 1056.7 166.7C1060.7 167.3 1064.6 167.9 1068.6 168.5C1072.5 169.1 1076.5 169.6 1080.4 170.2C1084.4 170.8 1088.3 171.4 1092.3 172C1096.3 172.6 1100.2 173.2 1104.2 173.8C1108.2 174.4 1112 175 1116 175.6C1120 176.2 1123.9 176.8 1127.9 177.4C1131.9 178 1135.8 178.5 1139.8 179C1143.8 179.5 1147.7 179.9 1151.7 180.3C1155.7 180.7 1159.7 181.2 1163.7 181.5C1167.7 181.8 1171.6 182.2 1175.6 182.4C1179.6 182.6 1183.6 182.8 1187.6 182.9C1191.6 183.1 1195.6 183.1 1199.6 183.3C1203.6 183.5 1207.6 183.7 1211.6 184C1215.6 184.3 1219.8 184.6 1223.5 185C1227.2 185.4 1231.7 185.9 1233.8 186.6C1235.9 187.3 1236.9 188.1 1235.9 189.1C1234.9 190.1 1231.1 191.4 1227.8 192.3C1224.5 193.2 1220.2 194.1 1216.3 194.8C1212.4 195.5 1208.4 195.9 1204.4 196.4C1200.4 196.9 1196.5 197.4 1192.5 198C1188.5 198.6 1184.5 199.2 1180.6 199.8C1176.6 200.4 1172.7 201.1 1168.8 201.8C1164.9 202.5 1160.9 203.3 1157 204.1C1153.1 204.9 1149.2 205.6 1145.3 206.4C1141.4 207.2 1137.4 208 1133.5 208.8C1129.6 209.6 1125.6 210.4 1121.7 211.1C1117.8 211.8 1113.9 212.6 1109.9 213.2C1106 213.8 1102 214.2 1098 214.5C1094 214.8 1090 215 1086 215.2C1082 215.4 1078.1 215.5 1074.1 215.5C1070.1 215.5 1066.1 215.3 1062.1 215.2C1058.1 215.1 1054.1 214.8 1050.1 214.7C1046.1 214.6 1042.1 214.5 1038.1 214.5C1034.1 214.5 1030.1 214.7 1026.1 214.9C1022.1 215.1 1018.1 215.2 1014.2 215.8C1010.3 216.4 1006.5 217.2 1002.8 218.5C999.1 219.8 995.6 221.7 992.2 223.7C988.8 225.7 985.5 228 982.3 230.4C979.1 232.8 976.2 235.4 973.2 238.1C970.2 240.8 967.3 243.6 964.5 246.4C961.7 249.2 958.8 252.1 956.5 255.2C954.2 258.3 951.7 261.5 950.7 264.8C949.7 268.1 949.9 271.6 950.5 275.2C951.1 278.8 953 282.5 954.5 286.1C956 289.7 958.2 293.4 959.5 297C960.8 300.6 962.4 304.4 962.4 307.8C962.4 311.2 961.2 314.7 959.3 317.6C957.4 320.5 954.1 323.1 951 325.4C947.9 327.7 944.4 329.7 940.9 331.6C937.4 333.6 933.8 335.3 930.2 337.1C926.6 338.9 922.9 340.6 919.3 342.2C915.6 343.8 912 345.5 908.3 347C904.6 348.5 901 350 897.2 351.4C893.5 352.8 889.6 354 885.8 355.2C882 356.4 878.2 357.6 874.3 358.6C870.4 359.6 866.5 360.4 862.6 361.2C858.7 362 854.8 362.7 850.9 363.5C847 364.3 843 365 839.1 365.9C835.2 366.8 831.2 367.6 827.6 369C824 370.4 820.4 372.1 817.2 374.2C814 376.3 811 379 808.4 381.9C805.8 384.8 803.6 388.1 801.3 391.3C798.9 394.5 796.8 397.8 794.3 400.8C791.8 403.8 789 406.7 786 409.2C783 411.7 779.5 413.7 776.1 415.7C772.7 417.7 769 419.4 765.4 421C761.8 422.6 758 424.1 754.3 425.6C750.6 427.1 746.9 428.4 743.2 429.9C739.5 431.4 735.8 433 732.2 434.7C728.6 436.4 725 438.2 721.4 440C717.8 441.8 714.3 443.7 710.8 445.6C707.3 447.5 703.9 449.5 700.4 451.4C696.9 453.3 693.2 455.1 689.6 456.8C686 458.5 682.3 459.9 678.6 461.3C674.9 462.8 671 464.1 667.3 465.5C663.5 466.9 659.8 468.2 656.1 469.7C652.4 471.1 648.6 472.5 645 474.2C641.4 475.9 637.8 477.7 634.3 479.6C630.8 481.6 627.6 483.8 624.2 485.9C620.8 488 617.4 490.1 614.1 492.3C610.8 494.5 607.4 496.6 604.6 499.2C601.8 501.8 599.7 505.1 597.3 508.1C594.9 511.1 592.8 514.7 590.1 517.4C587.4 520.1 584.4 522.4 581 524.1C577.6 525.8 573.7 526.6 569.9 527.6C566.1 528.6 562 529.2 558.1 529.9C554.2 530.6 550.2 531.2 546.3 531.8C542.3 532.4 538.4 533 534.4 533.5C530.4 534 526.5 534.5 522.5 534.9C518.5 535.3 514.5 535.7 510.5 536C506.5 536.3 502.6 536.6 498.6 536.9C494.6 537.1 490.6 537.4 486.6 537.5C482.6 537.6 478.6 537.5 474.6 537.5C470.6 537.5 466.6 537.3 462.6 537.2C458.6 537.1 454.6 537 450.6 536.9C446.6 536.8 442.6 536.8 438.6 536.7C434.6 536.6 430.6 536.6 426.6 536.5C422.6 536.4 418.6 536.4 414.6 536.2C410.6 536 406.7 535.7 402.7 535.3C398.7 534.9 394.8 534.5 390.8 534C386.8 533.5 382.9 533 378.9 532.5C374.9 532 370.9 531.6 366.9 531.1C362.9 530.6 359 530.2 355 529.8C351 529.4 347.1 529 343.1 528.5C339.2 528 335.2 527.4 331.3 526.6C327.4 525.9 323.5 524.9 319.6 524C315.7 523.1 311.8 522.1 307.9 521.2C304 520.4 300.1 519.6 296.2 518.9C292.3 518.2 288.3 517.8 284.3 517.2C280.3 516.7 276.4 516.2 272.4 515.6C268.4 515 264.5 514.5 260.5 513.9C256.5 513.3 252.5 512.8 248.6 512.2C244.7 511.6 240.8 511 236.8 510.4C232.9 509.8 228.9 509.2 224.9 508.6C220.9 508 216.9 507.5 213 506.8C209.1 506.1 205.2 505.6 201.3 504.7C197.4 503.8 193.5 502.8 189.7 501.6C185.9 500.5 182.2 499.1 178.4 497.8C174.6 496.5 170.8 495.1 167.1 493.7C163.3 492.3 159.6 490.8 155.9 489.4C152.2 487.9 148.4 486.5 144.7 485C141 483.5 137.2 482 133.6 480.4C129.9 478.8 126.4 477.1 122.8 475.4C119.2 473.7 115.6 471.8 112 470C108.4 468.2 104.8 466.5 101.3 464.6C97.8 462.8 94.2 460.9 90.8 458.9C87.3 456.9 83.8 455 80.6 452.7C77.4 450.4 74.4 447.8 71.6 445C68.8 442.2 66.4 439.1 63.9 436C61.4 432.9 58.9 429.8 56.4 426.7C53.9 423.6 51.4 420.4 49 417.2C46.6 414 44.4 410.7 42.2 407.4C40 404.1 37.8 400.7 35.9 397.2C34 393.7 32.1 390.1 30.6 386.5C29.1 382.9 27.8 379.1 26.6 375.3C25.4 371.5 24.3 367.6 23.4 363.7C22.5 359.8 21.7 355.9 21 352C20.3 348.1 19.8 344.1 19.2 340.2C18.6 336.2 18 332.2 17.3 328.3C16.6 324.4 15.8 320.4 15.1 316.5C14.4 312.6 13.6 308.6 12.9 304.7C12.2 300.8 11.3 296.9 10.9 293C10.5 289.1 10.4 285 10.6 281.1C10.8 277.2 11.4 273.2 12.3 269.5C13.2 265.8 14.6 262.1 15.8 258.9C17 255.6 18.3 253.2 19.4 250Z"/>
<path fill="#0080ff" d="M276.3 617.1C276.2 615.2 278.8 613.1 281.2 611C283.6 608.9 287.4 606.4 290.8 604.5C294.2 602.6 297.8 600.8 301.5 599.5C305.2 598.2 309.1 597.4 313 596.5C316.9 595.6 320.8 594.9 324.7 594.2C328.6 593.5 332.6 592.9 336.6 592.4C340.6 591.9 344.5 591.5 348.5 591.1C352.5 590.7 356.4 590.3 360.4 589.9C364.4 589.5 368.4 589.2 372.4 588.9C376.4 588.6 380.4 588.3 384.4 588C388.4 587.7 392.3 587.3 396.3 587.1C400.3 586.9 404.3 586.6 408.3 586.6C412.3 586.6 416.3 586.7 420.3 587C424.3 587.3 428.2 587.6 432.1 588.2C436 588.8 440 589.8 443.8 590.8C447.6 591.8 451.4 593 455.2 594.3C458.9 595.6 462.8 597.1 466.3 598.8C469.8 600.5 473.8 602.3 476.4 604.6C479 606.9 481.7 609.7 482.2 612.4C482.7 615.1 481.4 618.4 479.4 620.7C477.4 623 473.6 624.8 470.2 626.2C466.8 627.6 462.6 628.3 458.7 629.1C454.8 629.9 450.8 630.5 446.9 631C442.9 631.5 439 632 435 632.4C431 632.8 427 633.1 423 633.4C419 633.7 415.1 634.1 411.1 634.3C407.1 634.5 403.1 634.7 399.1 634.8C395.1 634.9 391.1 635 387.1 635.1C383.1 635.2 379.1 635.3 375.1 635.3C371.1 635.3 367.1 635.3 363.1 635.3C359.1 635.2 355.1 635.1 351.1 635C347.1 634.9 343.1 634.8 339.1 634.6C335.1 634.4 331.2 634.1 327.2 633.7C323.2 633.3 319.2 632.7 315.3 632.1C311.4 631.5 307.4 631 303.5 630.1C299.6 629.2 295.8 628.1 292.1 626.8C288.5 625.5 284.2 623.9 281.6 622.3C279 620.7 276.4 619 276.3 617.1Z"/>
<path fill="#00c8ff" d="M44.7 322.3C44.6 319.9 44.5 315.7 44.9 312.1C45.3 308.5 46 304.4 47 300.6C48 296.8 49.4 293 51 289.4C52.6 285.8 54.7 282.4 56.9 279.1C59.1 275.8 61.6 272.7 64.2 269.7C66.8 266.7 69.7 263.9 72.6 261.2C75.5 258.5 78.7 255.9 81.8 253.4C84.9 250.9 88.2 248.6 91.4 246.3C94.7 244 98 241.7 101.3 239.5C104.6 237.3 107.9 235 111.3 232.9C114.7 230.8 118 228.7 121.5 226.7C125 224.7 128.4 222.7 132 220.8C135.6 219 139.2 217.2 142.8 215.6C146.4 214 150.1 212.5 153.8 211C157.5 209.5 161.3 208.1 165.1 206.8C168.9 205.5 172.7 204.3 176.5 203.2C180.3 202.1 184.2 201.1 188.1 200.2C192 199.3 196 198.5 199.9 197.8C203.8 197.1 207.8 196.4 211.7 195.8C215.6 195.2 219.6 194.7 223.6 194.1C227.6 193.5 231.4 193 235.4 192.4C239.4 191.8 243.3 191.2 247.3 190.6C251.3 190 255.2 189.5 259.2 188.9C263.1 188.3 267.1 187.7 271 187C274.9 186.3 278.9 185.6 282.8 184.9C286.7 184.2 290.7 183.4 294.6 182.6C298.5 181.8 302.5 180.9 306.4 180.1C310.3 179.3 314.2 178.4 318.1 177.6C322 176.8 326 176 329.9 175.3C333.8 174.6 337.8 173.9 341.7 173.3C345.6 172.7 349.6 172.3 353.6 171.9C357.6 171.5 361.5 171.3 365.5 171.1C369.5 170.9 373.5 170.9 377.5 170.8C381.5 170.7 385.5 170.7 389.5 170.6C393.5 170.5 397.5 170.4 401.5 170.3C405.5 170.2 409.5 170.2 413.5 170.2C417.5 170.2 421.5 170.2 425.5 170.5C429.5 170.8 433.4 171.3 437.4 171.8C441.4 172.3 445.3 172.9 449.3 173.4C453.3 173.9 457.2 174.5 461.2 174.9C465.2 175.3 469.1 175.8 473.1 176.1C477.1 176.4 481.1 176.8 485.1 177C489.1 177.2 493.1 177.3 497.1 177.3C501.1 177.3 505 177.2 509 177.1C513 176.9 517 176.7 521 176.4C525 176.1 529 175.8 533 175.4C537 175 540.9 174.6 544.9 174.2C548.9 173.8 552.9 173.4 556.9 173.1C560.9 172.8 564.8 172.4 568.8 172.1C572.8 171.8 576.8 171.7 580.8 171.5C584.8 171.3 588.8 171.2 592.8 171.1C596.8 171 600.8 170.8 604.8 170.7C608.8 170.6 612.8 170.5 616.8 170.3C620.8 170.1 624.8 169.8 628.8 169.7C632.8 169.6 636.7 169.5 640.7 169.5C644.7 169.5 648.7 169.7 652.7 169.9C656.7 170.1 660.7 170.3 664.7 170.5C668.7 170.7 672.7 170.9 676.7 171.2C680.7 171.5 684.6 171.8 688.6 172.1C692.6 172.4 696.6 172.8 700.6 173.2C704.6 173.6 708.5 174 712.5 174.4C716.5 174.8 720.5 175.3 724.5 175.8C728.5 176.3 732.4 176.8 736.4 177.3C740.4 177.8 744.2 178.3 748.2 178.9C752.2 179.5 756.1 180.1 760.1 180.7C764.1 181.3 768 181.8 772 182.3C776 182.8 779.9 183.3 783.9 183.7C787.9 184.1 791.9 184.4 795.9 184.8C799.9 185.2 803.8 185.6 807.8 185.9C811.8 186.2 815.8 186.5 819.8 186.8C823.8 187.1 827.8 187.4 831.7 187.9C835.6 188.4 839.6 188.9 843.4 189.9C847.2 190.9 851.4 192.1 854.3 193.8C857.2 195.6 860.1 197.9 860.8 200.4C861.5 202.9 860.3 206.2 858.5 208.9C856.7 211.6 853.1 214.1 850.1 216.5C847.1 218.9 843.4 221 840.3 223.3C837.1 225.6 833.4 227.9 831.2 230.3C829 232.8 827.2 235.2 827.2 238C827.2 240.8 829.3 243.9 831.3 246.9C833.2 249.9 836.2 253 838.9 255.9C841.6 258.8 844.4 261.6 847.3 264.4C850.2 267.2 853.1 269.9 856.1 272.5C859.1 275.1 862.2 277.8 865.3 280.3C868.4 282.8 871.6 285.2 874.7 287.7C877.8 290.2 881.4 292.4 883.9 295.1C886.4 297.8 889.1 301 890 304.1C890.9 307.2 890.6 310.9 889.2 313.9C887.8 316.9 884.7 319.7 881.8 322C878.9 324.3 875.1 326.1 871.6 327.8C868.1 329.5 864.2 331 860.5 332.4C856.8 333.8 853 335.1 849.2 336.4C845.4 337.7 841.6 338.8 837.8 340C834 341.2 830.1 342.3 826.3 343.5C822.5 344.7 818.7 345.9 814.9 347.2C811.1 348.5 807.4 349.8 803.6 351.2C799.8 352.6 796 353.9 792.3 355.3C788.5 356.7 784.8 358.1 781.1 359.5C777.4 360.9 773.6 362.3 769.9 363.7C766.1 365.1 762.4 366.5 758.6 367.9C754.9 369.3 751.1 370.7 747.4 372.1C743.6 373.5 739.9 374.9 736.1 376.2C732.3 377.5 728.6 378.9 724.8 380.2C721 381.5 717.2 382.8 713.5 384.2C709.8 385.6 705.8 386.9 702.4 388.7C699 390.5 695.6 392.6 692.9 395.2C690.2 397.8 688.1 401.1 686 404.3C683.9 407.5 682.3 411.3 680.1 414.5C677.9 417.7 675.5 420.9 672.7 423.6C669.9 426.3 666.8 428.7 663.5 430.9C660.2 433.1 656.7 435.1 653.2 437C649.7 438.9 646.2 440.8 642.6 442.6C639 444.4 635.5 446.2 631.9 448C628.3 449.8 624.8 451.6 621.2 453.4C617.6 455.2 614 457 610.4 458.7C606.8 460.4 603.1 461.9 599.4 463.3C595.7 464.7 591.8 465.8 588 467C584.2 468.2 580.4 469.2 576.5 470.3C572.6 471.4 568.8 472.5 564.9 473.5C561 474.5 557.2 475.5 553.3 476.4C549.4 477.3 545.4 478.1 541.5 478.9C537.6 479.7 533.7 480.4 529.8 481.2C525.9 482 521.9 482.8 518 483.5C514.1 484.2 510.1 484.9 506.2 485.6C502.2 486.3 498.2 487 494.3 487.6C490.4 488.2 486.4 488.8 482.5 489.4C478.6 490 474.6 490.6 470.6 491.1C466.6 491.7 462.7 492.2 458.7 492.7C454.7 493.2 450.8 493.7 446.8 494.1C442.8 494.5 438.8 494.8 434.8 495.1C430.8 495.4 426.9 495.6 422.9 495.9C418.9 496.1 414.9 496.5 410.9 496.6C406.9 496.8 402.9 496.8 398.9 496.8C394.9 496.8 390.9 496.9 386.9 496.8C382.9 496.7 378.9 496.6 374.9 496.4C370.9 496.2 367 495.9 363 495.4C359 494.9 355 494.3 351.1 493.6C347.2 492.9 343.3 492.1 339.4 491.3C335.5 490.5 331.6 489.5 327.7 488.6C323.8 487.7 320 486.7 316.1 485.7C312.2 484.7 308.4 483.6 304.5 482.5C300.6 481.4 296.7 480.3 292.9 479.2C289.1 478.1 285.3 476.9 281.5 475.7C277.7 474.5 273.9 473.2 270.1 472C266.3 470.8 262.5 469.5 258.7 468.2C254.9 466.9 251.1 465.6 247.3 464.4C243.5 463.1 239.7 462 235.9 460.7C232.1 459.4 228.3 458.1 224.5 456.8C220.7 455.5 216.9 454.1 213.2 452.7C209.4 451.3 205.8 449.9 202 448.6C198.2 447.3 194.4 445.9 190.6 444.7C186.8 443.5 183 442.3 179.2 441.2C175.4 440.1 171.4 439.1 167.6 438C163.8 436.9 159.9 435.8 156.1 434.6C152.3 433.4 148.4 432.2 144.6 431C140.8 429.8 137.1 428.6 133.3 427.3C129.6 426 125.8 424.6 122.1 423C118.4 421.4 114.8 419.7 111.2 417.9C107.6 416.1 104.1 414.3 100.7 412.3C97.3 410.3 93.8 408.1 90.6 405.8C87.4 403.5 84.3 401 81.3 398.4C78.3 395.8 75.5 392.9 72.8 390C70.1 387.1 67.5 384.1 65.3 380.8C63.1 377.6 61.1 374.1 59.4 370.5C57.7 366.9 56.4 363.2 55.1 359.4C53.8 355.6 52.8 351.7 51.7 347.9C50.7 344.1 49.8 340 48.8 336.5C47.8 333 46.4 329.1 45.7 326.7C45 324.3 44.8 324.7 44.7 322.3Z"/>
<path fill="#23ffd4" d="M85.7 328.9C86.4 326.6 87.6 322.7 88.8 319.3C90 315.9 91.4 311.9 93 308.3C94.6 304.7 96.4 301 98.4 297.6C100.5 294.2 102.8 290.9 105.3 287.9C107.8 284.9 110.6 282 113.6 279.5C116.6 277 120 274.6 123.4 272.8C126.9 271 130.5 269.6 134.3 268.6C138.1 267.6 142.1 267.3 146 266.9C149.9 266.5 154 266.3 158 266.1C162 265.9 166 265.8 170 265.6C174 265.4 177.9 265.2 181.9 264.8C185.9 264.4 189.9 264 193.8 263.4C197.8 262.8 201.7 262 205.6 261.1C209.5 260.2 213.4 259.1 217.2 258C221 256.9 224.8 255.5 228.6 254.3C232.4 253.1 236.2 251.8 240 250.6C243.8 249.4 247.7 248.3 251.5 247.1C255.3 245.9 259.1 244.8 262.9 243.6C266.7 242.3 270.5 241 274.2 239.6C277.9 238.2 281.6 236.6 285.3 235C289 233.4 292.7 231.8 296.3 230.2C299.9 228.5 303.6 226.8 307.2 225.1C310.8 223.4 314.4 221.6 317.9 219.8C321.4 218 324.9 215.8 328.4 214.2C331.9 212.6 335.5 210.9 339.1 210.4C342.7 209.9 346.4 210.5 350.2 211.2C353.9 211.9 357.8 213.3 361.6 214.5C365.4 215.7 369.2 217 373 218.2C376.8 219.4 380.6 220.8 384.4 221.9C388.2 223 392.1 224.4 395.9 225C399.7 225.6 403.5 225.7 407.4 225.4C411.2 225.1 415.1 223.9 419 223.1C422.9 222.2 426.8 221.2 430.7 220.3C434.6 219.4 438.5 218.5 442.4 217.7C446.3 216.9 450.2 216.1 454.1 215.3C458 214.5 461.9 213.8 465.9 213.1C469.8 212.4 473.9 211.7 477.8 211.1C481.8 210.5 485.7 209.9 489.6 209.3C493.6 208.7 497.6 208.1 501.5 207.5C505.4 206.9 509.3 206.3 513.3 205.7C517.2 205.1 521.2 204.6 525.2 204C529.2 203.4 533.1 202.9 537.1 202.4C541.1 201.9 545 201.5 549 201.1C553 200.7 557 200.2 561 199.9C565 199.6 568.9 199.3 572.9 199C576.9 198.7 581 198.7 584.9 198.3C588.8 197.9 592.6 197.6 596 196.5C599.4 195.4 602.1 193.3 605.3 191.9C608.5 190.5 611.5 189 615.1 188.1C618.7 187.2 622.8 187 626.7 186.7C630.6 186.4 634.7 186.3 638.7 186.3C642.7 186.3 646.6 186.5 650.6 186.7C654.6 186.9 658.6 187.2 662.6 187.5C666.6 187.8 670.5 188.2 674.5 188.6C678.5 189 682.5 189.5 686.5 190C690.5 190.5 694.4 191.1 698.4 191.6C702.4 192.1 706.2 192.6 710.2 193.2C714.2 193.8 718.1 194.4 722.1 195C726.1 195.6 730.1 196.2 734 196.9C737.9 197.6 741.8 198.4 745.7 199.3C749.6 200.2 753.5 201.2 757.3 202.3C761.1 203.5 765 204.6 768.6 206.2C772.2 207.8 776 209.4 779 211.6C782 213.8 785 216.4 786.8 219.4C788.5 222.4 789.4 226.1 789.5 229.7C789.6 233.3 788.1 237.1 787.3 240.9C786.5 244.7 785.1 248.5 784.8 252.3C784.5 256.1 784.5 260.2 785.4 263.8C786.2 267.4 787.8 271.1 789.9 274.2C792 277.3 795 279.9 798.1 282.3C801.2 284.7 804.7 286.7 808.2 288.6C811.7 290.5 815.3 292.2 818.9 293.9C822.5 295.6 826.4 297.1 829.7 299C833 300.9 836.9 302.9 838.6 305.3C840.4 307.7 841.1 310.6 840.2 313.1C839.3 315.7 836.1 318.3 833.3 320.6C830.5 322.9 826.7 324.8 823.2 326.7C819.7 328.6 816.1 330.2 812.4 331.8C808.7 333.4 805 334.7 801.2 336.1C797.5 337.5 793.7 338.8 789.9 340.1C786.1 341.4 782.3 342.6 778.5 343.8C774.7 345 770.9 346.2 767.1 347.5C763.3 348.8 759.6 350.2 755.8 351.6C752 353 748.2 354.4 744.5 355.8C740.8 357.2 737.1 358.8 733.4 360.3C729.7 361.8 726.1 363.3 722.4 364.9C718.7 366.5 715 368.1 711.3 369.7C707.6 371.3 704 372.8 700.3 374.3C696.6 375.8 692.9 377.3 689.1 378.7C685.4 380.1 681.5 381.3 677.8 382.8C674.1 384.3 670.4 385.8 666.8 387.5C663.2 389.2 659.7 391.1 656.4 393.2C653.1 395.3 649.9 397.8 646.8 400.3C643.7 402.8 640.7 405.4 637.6 408C634.5 410.6 631.4 413.1 628.4 415.7C625.4 418.3 622.3 421 619.4 423.7C616.5 426.4 613.7 429.3 610.7 431.8C607.7 434.3 604.7 436.9 601.3 438.7C597.9 440.5 594.2 441.5 590.4 442.5C586.6 443.5 582.5 444 578.6 444.7C574.7 445.4 570.8 446.1 566.8 446.7C562.8 447.3 558.9 447.9 554.9 448.4C550.9 448.9 547 449.4 543 449.8C539 450.2 535.1 450.7 531.1 451.1C527.1 451.5 523.2 451.9 519.2 452.4C515.2 452.8 511.3 453.3 507.3 453.8C503.3 454.3 499.4 454.9 495.4 455.4C491.4 455.9 487.5 456.4 483.5 456.9C479.5 457.4 475.5 457.9 471.5 458.4C467.5 458.8 463.6 459.2 459.6 459.6C455.6 460 451.7 460.3 447.7 460.7C443.7 461.1 439.7 461.4 435.7 461.8C431.7 462.2 427.8 462.6 423.8 462.9C419.8 463.2 415.8 463.5 411.8 463.8C407.8 464.1 403.8 464.4 399.8 464.5C395.8 464.6 391.8 464.7 387.8 464.7C383.8 464.7 379.8 464.8 375.8 464.7C371.8 464.6 367.8 464.4 363.9 464C359.9 463.6 356 463 352.1 462.3C348.2 461.6 344.2 460.8 340.3 459.9C336.4 459 332.6 458.1 328.7 457C324.8 455.9 321 454.8 317.2 453.5C313.4 452.2 309.7 450.8 305.9 449.5C302.1 448.2 298.3 446.9 294.5 445.8C290.7 444.7 286.8 443.8 282.9 442.8C279 441.8 275.1 441 271.3 439.9C267.5 438.8 263.7 437.6 259.9 436.3C256.1 435 252.4 433.6 248.6 432.3C244.8 431 241 429.8 237.2 428.5C233.4 427.2 229.6 425.9 225.8 424.7C222 423.5 218.2 422.3 214.4 421.1C210.6 419.9 206.8 418.8 202.9 417.7C199.1 416.6 195.2 415.6 191.3 414.6C187.4 413.6 183.5 412.6 179.6 411.7C175.7 410.8 171.8 409.9 167.9 409C164 408.1 160.1 407.4 156.2 406.6C152.3 405.8 148.4 405 144.5 404C140.6 403 136.7 402 132.9 400.8C129.1 399.6 125.4 398.3 121.7 396.8C118 395.3 114.4 393.6 111 391.6C107.6 389.6 104.4 387.4 101.4 384.8C98.5 382.2 95.6 379.3 93.3 376.2C91 373.1 89.1 369.6 87.6 366C86.1 362.4 85.1 358.5 84.4 354.7C83.7 350.9 83.5 346.7 83.6 343.1C83.6 339.5 84.3 335.6 84.7 333.2C85.1 330.8 85 331.2 85.7 328.9Z"/>
<path fill="#5dff9a" d="M118.4 356.3C118.3 353 119.1 349.4 120.1 345.8C121.1 342.2 122.7 338.4 124.3 334.8C125.9 331.2 127.8 327.6 129.9 324.3C132 321 134.3 317.7 137 314.8C139.7 311.9 142.6 309.2 145.8 307C149 304.8 152.5 303.2 156.2 301.8C159.9 300.4 163.9 299.7 167.8 298.9C171.7 298.1 175.7 297.6 179.6 297C183.5 296.4 187.5 295.8 191.4 295.1C195.3 294.4 199.3 293.6 203.2 292.7C207.1 291.8 211 290.8 214.9 289.9C218.8 288.9 222.6 288 226.5 287C230.4 286 234.2 285 238.1 284C242 283 245.9 281.9 249.7 280.8C253.5 279.7 257.3 278.6 261 277.1C264.7 275.6 268.3 273.9 271.8 272C275.3 270.1 278.6 267.9 282.1 266C285.6 264.1 289 262.1 292.6 260.3C296.2 258.5 299.9 257 303.6 255.4C307.3 253.8 310.9 252.2 314.6 250.7C318.3 249.2 322.1 247.7 325.8 246.3C329.5 244.9 333.2 243.4 337 242.1C340.8 240.8 344.6 239.4 348.4 238.2C352.2 237 356 235.8 359.8 234.7C363.6 233.6 367.4 232.4 371.3 231.4C375.2 230.4 379.1 229.3 383 228.4C386.9 227.5 390.8 226.7 394.7 225.9C398.6 225.1 402.6 224.4 406.5 223.8C410.4 223.2 414.4 222.7 418.4 222.2C422.4 221.7 426.3 221.1 430.3 220.8C434.3 220.5 438.2 220.3 442.2 220.4C446.1 220.5 450.1 221.2 454 221.6C457.9 222 461.9 222.7 465.8 222.8C469.7 222.9 473.7 222.6 477.6 222.1C481.5 221.6 485.5 220.7 489.4 220C493.3 219.3 497.3 218.4 501.2 217.7C505.1 217 509.1 216.4 513 215.8C517 215.2 520.9 214.6 524.9 214C528.9 213.4 532.8 212.9 536.8 212.4C540.8 211.9 544.7 211.5 548.7 211.1C552.7 210.7 556.6 210.3 560.6 210C564.6 209.7 568.6 209.4 572.6 209.2C576.6 209 580.6 208.9 584.5 208.6C588.4 208.2 592.4 208.1 595.7 207.1C599 206.1 601.5 203.8 604.5 202.3C607.5 200.8 610.2 199 613.7 198.1C617.2 197.2 621.3 197.3 625.2 197.1C629.1 196.9 633.2 197 637.2 197.1C641.2 197.2 645.1 197.4 649.1 197.6C653.1 197.8 657.1 198.1 661.1 198.4C665.1 198.8 669 199.1 673 199.7C677 200.2 680.9 201 684.8 201.7C688.7 202.4 692.7 203.2 696.6 204.1C700.5 205 704.4 205.9 708.2 206.9C712.1 207.9 715.9 209 719.7 210.3C723.5 211.6 727.3 212.9 730.9 214.6C734.5 216.2 737.9 218.3 741.3 220.2C744.7 222.1 748.5 224.1 751.4 226.1C754.3 228.1 757.4 229.7 758.9 232.4C760.4 235.1 760.3 238.6 760.3 242.2C760.3 245.8 759 249.9 758.8 253.8C758.6 257.7 758.5 261.7 759 265.6C759.5 269.5 760.6 273.4 761.6 277.2C762.6 281 764.2 284.7 765.3 288.5C766.4 292.3 767.8 296.2 768.4 300C769 303.8 769.4 307.8 768.7 311.4C768 315 766.3 318.4 764.1 321.4C761.9 324.4 758.6 326.9 755.5 329.3C752.4 331.7 748.9 333.7 745.4 335.6C741.9 337.6 738.3 339.3 734.7 341C731.1 342.7 727.4 344.2 723.7 345.8C720 347.4 716.4 348.9 712.7 350.5C709 352.1 705.3 353.7 701.6 355.2C697.9 356.7 694.2 358.2 690.5 359.6C686.8 361 683 362.3 679.2 363.7C675.5 365.1 671.7 366.6 668 368.1C664.3 369.6 660.6 371.2 657 372.8C653.4 374.4 649.7 376.1 646.1 377.8C642.5 379.6 639 381.5 635.4 383.3C631.8 385.1 628.3 387 624.8 388.8C621.3 390.6 617.8 392.6 614.2 394.4C610.6 396.2 607 398 603.3 399.5C599.6 401 595.9 402.2 592.1 403.4C588.3 404.6 584.4 405.5 580.5 406.5C576.6 407.5 572.8 408.6 568.9 409.6C565 410.6 561.2 411.6 557.3 412.6C553.4 413.6 549.5 414.5 545.6 415.4C541.7 416.3 537.8 417.2 533.9 418.1C530 419 526.1 419.9 522.2 420.8C518.3 421.7 514.5 422.7 510.6 423.6C506.7 424.5 502.8 425.5 498.9 426.4C495 427.3 491.1 428.3 487.2 429.2C483.3 430.1 479.4 431.1 475.5 431.9C471.6 432.7 467.7 433.4 463.8 434.2C459.9 434.9 455.9 435.7 452 436.4C448.1 437.1 444.1 437.7 440.1 438.2C436.1 438.7 432.2 439.2 428.2 439.6C424.2 440 420.3 440.5 416.3 440.8C412.3 441.1 408.3 441.5 404.3 441.7C400.3 441.9 396.3 441.9 392.3 441.9C388.3 441.9 384.3 441.9 380.3 441.8C376.3 441.7 372.4 441.6 368.4 441.3C364.4 441 360.4 440.5 356.5 439.9C352.6 439.3 348.6 438.6 344.7 437.8C340.8 437 336.9 436.1 333 435.1C329.1 434.1 325.2 433.1 321.4 432C317.6 430.9 313.8 429.7 310 428.5C306.2 427.3 302.3 426 298.5 424.8C294.7 423.6 290.9 422.3 287.1 421.1C283.3 419.9 279.5 418.9 275.6 417.8C271.8 416.7 267.9 415.7 264 414.7C260.1 413.7 256.3 412.7 252.4 411.6C248.5 410.6 244.7 409.4 240.8 408.4C236.9 407.3 233.1 406.3 229.2 405.3C225.3 404.3 221.5 403.3 217.6 402.4C213.7 401.5 209.8 400.5 205.9 399.7C202 398.9 198.1 398.1 194.2 397.3C190.3 396.5 186.3 395.7 182.4 394.9C178.5 394.1 174.5 393.4 170.6 392.6C166.7 391.8 162.8 391.1 158.9 390.1C155.1 389.1 151.2 388.1 147.5 386.7C143.8 385.3 140.2 383.7 136.8 381.7C133.5 379.7 130.1 377.3 127.4 374.7C124.7 372.1 122.2 368.9 120.7 365.8C119.2 362.7 118.5 359.6 118.4 356.3Z"/>
<path fill="#9aff5d" d="M157.6 362.9C156.9 359.8 157.7 356.2 158.8 352.8C159.9 349.4 162.2 345.8 164.4 342.6C166.6 339.4 169.3 336.3 172.1 333.5C174.9 330.7 177.9 328.2 181.1 325.9C184.3 323.6 187.8 321.5 191.3 319.7C194.8 317.9 198.5 316.3 202.2 314.8C205.9 313.3 209.7 312.1 213.5 310.9C217.3 309.7 221.2 308.7 225.1 307.6C228.9 306.5 232.8 305.4 236.6 304.4C240.4 303.4 244.3 302.4 248.2 301.4C252.1 300.4 256 299.5 259.8 298.4C263.7 297.3 267.5 296.1 271.3 294.9C275.1 293.7 278.9 292.4 282.7 291C286.4 289.6 290.1 288.1 293.8 286.6C297.5 285.1 301.2 283.6 304.9 282C308.6 280.4 312.3 278.9 316 277.3C319.7 275.7 323.3 274.2 327 272.6C330.7 271.1 334.3 269.5 338 268C341.7 266.5 345.4 264.9 349.1 263.4C352.8 261.9 356.6 260.4 360.3 258.9C364 257.4 367.8 256 371.5 254.6C375.2 253.2 379 251.9 382.8 250.6C386.6 249.3 390.4 248.1 394.2 246.9C398 245.7 401.8 244.7 405.7 243.6C409.6 242.5 413.4 241.6 417.3 240.6C421.2 239.6 425.1 238.7 429 237.8C432.9 237 436.8 236.1 440.7 235.5C444.6 234.9 448.6 234.7 452.6 234.3C456.6 234 460.6 233.8 464.6 233.4C468.6 233 472.5 232.5 476.4 231.8C480.3 231.2 484.3 230.2 488.2 229.5C492.1 228.8 496.1 228 500 227.3C503.9 226.6 507.9 225.9 511.8 225.2C515.8 224.5 519.8 223.9 523.7 223.3C527.7 222.7 531.5 222.1 535.5 221.6C539.5 221.1 543.5 220.7 547.5 220.3C551.5 219.9 555.4 219.4 559.4 219.1C563.4 218.8 567.4 218.5 571.4 218.3C575.4 218.1 579.4 218.2 583.3 217.9C587.2 217.6 591.3 217.7 594.6 216.7C597.9 215.7 600.4 213.5 603.3 211.9C606.2 210.3 608.6 208 611.9 207C615.2 206 619.1 206.1 623 205.9C626.9 205.8 631 205.9 635 206.1C639 206.3 642.9 206.8 646.9 207.2C650.9 207.6 654.8 208.2 658.8 208.8C662.8 209.4 666.7 210 670.6 210.8C674.5 211.6 678.4 212.4 682.3 213.4C686.2 214.4 690.1 215.3 693.8 216.7C697.5 218.1 701 219.7 704.5 221.6C708 223.5 711.5 225.7 714.5 228C717.5 230.3 720.8 232.6 722.5 235.5C724.2 238.4 724.6 241.8 725 245.3C725.4 248.9 724.7 252.9 724.8 256.8C724.9 260.7 725.1 264.8 725.6 268.7C726.1 272.6 726.8 276.6 727.6 280.5C728.4 284.4 729.5 288.3 730.3 292.2C731 296.1 732 300 732.1 303.8C732.2 307.6 732 311.6 730.8 315.1C729.6 318.6 727.4 321.8 724.9 324.6C722.4 327.4 719 329.8 715.8 332C712.5 334.2 708.9 336 705.4 337.8C701.9 339.6 698.2 341.3 694.5 342.9C690.8 344.5 687 345.8 683.3 347.2C679.6 348.6 675.8 349.9 672.1 351.4C668.4 352.9 664.7 354.4 661 356C657.3 357.6 653.7 359.1 650 360.7C646.3 362.3 642.6 363.8 638.9 365.4C635.2 367 631.6 368.6 627.9 370.1C624.2 371.7 620.5 373.2 616.8 374.7C613.1 376.2 609.4 377.9 605.7 379.3C602 380.7 598.2 382.1 594.4 383.3C590.6 384.6 586.8 385.6 583 386.8C579.2 388 575.3 389.2 571.5 390.3C567.7 391.4 563.9 392.6 560 393.7C556.1 394.8 552.3 395.8 548.4 396.8C544.5 397.8 540.7 398.7 536.8 399.7C532.9 400.7 529 401.7 525.1 402.6C521.2 403.5 517.3 404.4 513.4 405.3C509.5 406.2 505.6 407.1 501.7 407.9C497.8 408.7 493.8 409.4 489.9 410.2C486 410.9 482 411.7 478.1 412.4C474.2 413.1 470.2 413.7 466.3 414.3C462.4 414.9 458.4 415.4 454.4 416C450.4 416.6 446.5 417.1 442.5 417.6C438.5 418.1 434.6 418.5 430.6 418.9C426.6 419.3 422.7 419.7 418.7 420.1C414.7 420.5 410.7 420.8 406.7 421.1C402.7 421.4 398.7 421.6 394.7 421.7C390.7 421.8 386.7 421.9 382.7 421.9C378.7 421.9 374.8 422 370.8 421.7C366.8 421.4 362.8 420.9 358.9 420.3C355 419.7 351.1 418.8 347.2 417.9C343.3 417 339.5 416 335.6 415C331.7 414 327.9 412.8 324 411.9C320.1 411 316.1 410.3 312.2 409.6C308.3 408.9 304.3 408.6 300.4 407.8C296.5 407.1 292.6 406.1 288.8 405.1C285 404.1 281.2 402.8 277.3 401.7C273.4 400.6 269.6 399.5 265.7 398.4C261.8 397.3 258 396.3 254.1 395.3C250.2 394.3 246.4 393.3 242.5 392.4C238.6 391.5 234.7 390.6 230.8 389.8C226.9 389 222.9 388.4 219 387.7C215.1 387 211 386.5 207.1 385.9C203.2 385.3 199.2 384.7 195.3 383.9C191.4 383.1 187.4 382.4 183.6 381.3C179.8 380.2 176 379 172.6 377.3C169.2 375.6 165.5 373.5 163 371.1C160.5 368.7 158.3 365.9 157.6 362.9Z"/>
<path fill="#d4ff23" d="M238.1 355C238.9 353.4 241.1 350.6 243.6 348.4C246.1 346.1 249.8 343.8 253 341.5C256.2 339.2 259.8 337.2 263 334.9C266.2 332.6 269.3 330.2 272.4 327.6C275.4 325.1 278.3 322.2 281.3 319.6C284.3 317.1 287.3 314.5 290.6 312.3C293.9 310.1 297.4 308.3 301 306.5C304.6 304.7 308.3 303.2 311.9 301.5C315.5 299.8 319.2 298.2 322.8 296.5C326.4 294.8 330 293.1 333.6 291.4C337.2 289.7 340.9 288 344.5 286.3C348.1 284.6 351.8 283 355.4 281.3C359 279.6 362.7 278 366.4 276.4C370.1 274.8 373.7 273.1 377.4 271.5C381.1 269.9 384.7 268.3 388.4 266.8C392.1 265.3 395.8 263.7 399.5 262.3C403.2 260.9 407 259.5 410.8 258.2C414.6 256.9 418.4 255.7 422.2 254.4C426 253.1 429.8 251.9 433.4 250.4C437 248.9 440.5 247 444 245.2C447.5 243.4 450.6 241.2 454.2 239.6C457.8 238 461.6 236.9 465.4 235.8C469.2 234.7 473.1 233.8 477 232.9C480.9 232 484.8 231.1 488.7 230.2C492.6 229.3 496.5 228.5 500.4 227.7C504.3 226.9 508.3 226.1 512.2 225.4C516.1 224.7 520 224.1 524 223.4C528 222.8 531.9 222.1 535.9 221.5C539.9 220.9 543.8 220.4 547.8 219.9C551.8 219.4 555.7 219 559.7 218.7C563.7 218.3 567.7 218.1 571.7 217.8C575.7 217.6 579.6 217.3 583.6 217.2C587.6 217.1 591.6 217.1 595.6 217.1C599.6 217.1 603.6 217.2 607.6 217.2C611.6 217.2 615.6 217.2 619.6 217.1C623.6 217 627.6 216.6 631.6 216.6C635.6 216.6 639.6 216.7 643.5 217.1C647.4 217.5 651.3 218.2 655.2 219C659.1 219.8 663 220.9 666.7 222.2C670.5 223.4 674.2 225.2 677.7 226.5C681.2 227.8 685.2 228.6 687.8 230.3C690.4 232 692.1 233.7 693.1 236.5C694.1 239.3 693.4 243.4 693.5 247.2C693.6 251 693.4 255.1 693.6 259.1C693.8 263.1 694.2 267.1 694.8 271C695.4 274.9 696.4 278.8 697.3 282.7C698.2 286.6 699.5 290.4 700.3 294.2C701.1 298 702.3 302 702.2 305.7C702.1 309.4 701.3 313.2 699.6 316.4C697.9 319.6 695 322.4 692.1 324.8C689.2 327.2 685.6 329.2 682.1 331.1C678.6 333 674.9 334.7 671.3 336.4C667.7 338.1 664 339.7 660.4 341.3C656.8 342.9 653.1 344.5 649.5 346.2C645.9 347.9 642.3 349.8 638.7 351.6C635.1 353.4 631.6 355.3 628.1 357.2C624.6 359.1 621 361 617.5 362.8C614 364.6 610.4 366.5 606.8 368.1C603.2 369.7 599.5 371.1 595.7 372.3C591.9 373.5 588 374.3 584.1 375.3C580.2 376.3 576.3 377.2 572.4 378.1C568.5 379 564.6 379.9 560.7 380.8C556.8 381.7 552.9 382.5 549 383.3C545.1 384.1 541.1 384.9 537.2 385.6C533.3 386.4 529.3 387.1 525.4 387.8C521.5 388.6 517.5 389.3 513.6 390.1C509.7 390.9 505.8 391.6 501.9 392.4C498 393.2 494 393.9 490.1 394.7C486.2 395.4 482.2 396.2 478.3 396.9C474.4 397.6 470.3 398.2 466.4 398.8C462.4 399.4 458.6 400 454.6 400.5C450.7 401 446.7 401.5 442.7 401.9C438.7 402.3 434.7 402.6 430.7 402.8C426.7 403 422.7 403.2 418.7 403.3C414.7 403.4 410.7 403.6 406.7 403.7C402.7 403.8 398.7 403.8 394.7 403.7C390.7 403.6 386.7 403.5 382.7 403.3C378.7 403.1 374.7 403 370.8 402.5C366.9 402 363 401.3 359.1 400.4C355.2 399.5 351.4 398.4 347.5 397.3C343.6 396.2 339.8 395 336 393.8C332.2 392.6 328.4 391.3 324.7 389.9C321 388.5 317.3 386.9 313.6 385.3C309.9 383.7 306.4 382 302.7 380.5C299 379 295.2 377.7 291.4 376.5C287.6 375.3 283.7 374.4 279.8 373.4C275.9 372.4 272 371.5 268.2 370.4C264.4 369.3 260.5 368.2 256.8 366.9C253.1 365.6 249 364.2 245.9 362.7C242.8 361.2 239.8 359 238.5 357.7C237.2 356.4 237.2 356.6 238.1 355Z"/>
<path fill="#ffdb00" d="M309.2 339.8C309.3 336.9 310.9 333.8 312.7 330.7C314.5 327.6 317.3 324.4 319.9 321.5C322.5 318.6 325.4 315.8 328.4 313.1C331.3 310.5 334.4 308 337.6 305.6C340.8 303.2 344.1 300.9 347.4 298.7C350.7 296.4 354 294.2 357.4 292.1C360.8 290 364.2 288 367.7 286C371.2 284 374.7 282 378.2 280.1C381.7 278.2 385.3 276.4 388.9 274.6C392.5 272.9 396 271.2 399.7 269.6C403.4 268 407.1 266.4 410.8 264.8C414.5 263.2 418.2 261.7 421.9 260.3C425.6 258.9 429.4 257.6 433.2 256.3C437 255 440.7 253.8 444.5 252.5C448.3 251.2 452.2 250 456 248.8C459.8 247.7 463.6 246.6 467.5 245.6C471.4 244.6 475.3 243.6 479.2 242.7C483.1 241.8 486.9 240.8 490.8 239.9C494.7 239 498.7 238.3 502.6 237.5C506.5 236.7 510.5 236.1 514.4 235.3C518.3 234.5 522.2 233.8 526.1 232.9C530 232.1 533.8 231 537.7 230.2C541.6 229.4 545.5 228.6 549.4 228.1C553.3 227.6 557.4 227.5 561.4 227.3C565.4 227.1 569.3 227 573.3 227C577.3 227 581.3 227 585.3 227.1C589.3 227.2 593.3 227.3 597.3 227.5C601.3 227.7 605.3 227.9 609.3 228.3C613.3 228.7 617.3 229 621.2 229.7C625.1 230.4 629.1 231.1 632.8 232.3C636.5 233.5 640.3 235 643.6 236.9C646.9 238.8 650.2 241.2 652.7 244C655.2 246.8 656.8 250.3 658.3 253.9C659.8 257.4 660.3 261.5 661.4 265.3C662.5 269.1 663.4 273 664.6 276.8C665.8 280.6 667.4 284.3 668.8 288C670.2 291.7 671.9 295.4 672.9 299.2C673.9 302.9 674.9 306.9 674.6 310.5C674.3 314.1 673 317.6 671 320.5C669 323.4 665.6 325.5 662.5 327.7C659.4 329.9 655.7 331.7 652.2 333.6C648.7 335.5 645.1 337.3 641.5 339C637.9 340.7 634.2 342.3 630.5 343.9C626.8 345.5 623.1 347 619.4 348.5C615.7 350 611.9 351.4 608.2 352.8C604.5 354.2 600.8 355.6 597 356.9C593.2 358.2 589.4 359.6 585.6 360.8C581.8 362.1 578 363.2 574.2 364.4C570.4 365.6 566.6 366.7 562.7 367.8C558.9 368.9 555 370.1 551.1 371.1C547.2 372.1 543.4 373 539.5 373.9C535.6 374.8 531.7 375.7 527.8 376.6C523.9 377.5 519.9 378.3 516 379.1C512.1 379.9 508.1 380.5 504.2 381.2C500.3 381.9 496.3 382.6 492.4 383.2C488.4 383.8 484.5 384.5 480.5 385C476.5 385.5 472.6 385.9 468.6 386.3C464.6 386.7 460.7 387.1 456.7 387.4C452.7 387.7 448.7 388 444.7 388.2C440.7 388.4 436.8 388.4 432.8 388.3C428.8 388.2 424.8 387.9 420.8 387.7C416.8 387.4 412.8 387.2 408.8 386.8C404.8 386.4 400.8 385.9 396.9 385.3C392.9 384.7 389 383.9 385.1 383.2C381.2 382.4 377.3 381.7 373.4 380.8C369.5 379.9 365.7 378.8 361.9 377.6C358.1 376.4 354.3 375 350.6 373.5C346.9 372 343.2 370.5 339.6 368.8C336 367.1 332.5 365.2 329.1 363.1C325.8 361 322.4 358.7 319.5 356.2C316.6 353.7 313.7 350.8 312 348.1C310.3 345.4 309.1 342.7 309.2 339.8Z"/>
<path fill="#ff9400" d="M352.3 332.7C352.8 330.5 354.1 326.7 355.8 323.6C357.6 320.5 360.2 317.1 362.8 314.2C365.4 311.3 368.4 308.6 371.4 306C374.4 303.4 377.8 301.1 381 298.8C384.2 296.5 387.5 294.2 390.9 292.1C394.3 290 397.8 288.2 401.4 286.4C404.9 284.6 408.6 282.9 412.2 281.2C415.8 279.5 419.5 277.9 423.2 276.3C426.9 274.8 430.7 273.3 434.4 271.9C438.1 270.5 441.9 269 445.6 267.7C449.4 266.4 453.1 265 456.9 263.8C460.7 262.6 464.6 261.5 468.4 260.3C472.2 259.1 476 257.9 479.8 256.6C483.6 255.4 487.4 254.1 491.2 252.8C495 251.5 498.7 250.1 502.5 248.8C506.3 247.5 510 246.1 513.9 245.1C517.8 244.1 521.7 243.4 525.6 242.8C529.5 242.2 533.5 242.1 537.5 241.8C541.5 241.5 545.5 241.3 549.5 241.1C553.5 240.9 557.5 240.8 561.5 240.7C565.5 240.6 569.5 240.5 573.5 240.5C577.5 240.5 581.6 240.4 585.5 240.7C589.4 241 593.6 241.1 597.1 242.3C600.6 243.5 604.2 245.3 606.4 247.9C608.6 250.5 610.2 254.5 610.4 257.9C610.6 261.3 609.4 265.2 607.7 268.4C606 271.6 602.6 274.2 600.4 277.3C598.2 280.4 595.3 283.5 594.5 286.7C593.7 289.9 594.1 293.7 595.7 296.5C597.3 299.3 601.1 301.4 604.3 303.4C607.5 305.4 611.7 306.7 615.1 308.5C618.5 310.3 622.8 312.2 624.7 314.3C626.6 316.4 627.4 319 626.4 321.3C625.4 323.6 621.6 325.9 618.5 327.9C615.4 329.9 611.4 331.4 607.8 333.1C604.2 334.8 600.5 336.3 596.8 337.9C593.1 339.5 589.4 340.9 585.7 342.5C582 344.1 578.4 345.6 574.7 347.2C571 348.8 567.3 350.4 563.6 351.8C559.9 353.2 556.2 354.6 552.4 355.9C548.6 357.1 544.8 358.2 540.9 359.3C537 360.4 533.2 361.4 529.3 362.4C525.4 363.4 521.5 364.3 517.6 365.2C513.7 366.1 509.8 366.8 505.9 367.6C502 368.4 498.1 369.2 494.1 369.9C490.2 370.6 486.2 371.2 482.2 371.7C478.2 372.2 474.3 372.6 470.3 373C466.3 373.4 462.4 373.8 458.4 373.9C454.4 374 450.4 373.9 446.4 373.8C442.4 373.7 438.4 373.4 434.4 373.1C430.4 372.8 426.4 372.4 422.5 371.8C418.6 371.2 414.6 370.5 410.7 369.7C406.8 368.9 402.9 367.9 399.1 366.8C395.3 365.7 391.5 364.4 387.8 363C384.1 361.6 380.4 360 376.8 358.2C373.2 356.4 369.6 354.6 366.4 352.4C363.2 350.2 359.8 347.6 357.5 345C355.2 342.4 353.5 338.7 352.6 336.6C351.7 334.6 351.8 334.9 352.3 332.7Z"/>
<path fill="#ff5200" d="M409.2 327.1C409.4 324 411.4 320.6 413.5 317.6C415.6 314.7 418.9 311.9 422 309.4C425.1 306.9 428.4 304.8 431.8 302.6C435.2 300.5 438.6 298.4 442.1 296.5C445.6 294.6 449.3 292.9 453 291.4C456.7 289.9 460.5 288.7 464.3 287.6C468.1 286.6 472.1 285.6 476 285.1C479.9 284.6 484 284.2 487.7 284.8C491.4 285.4 495.3 286.7 498.2 288.9C501.1 291.1 503.1 294.7 505.3 297.9C507.5 301.1 508.9 305 511.4 308C513.9 311 517 313.6 520 316.1C523 318.6 527.5 320.4 529.4 322.8C531.3 325.2 532.6 328.3 531.6 330.8C530.6 333.3 526.6 335.8 523.4 337.6C520.2 339.5 516 340.5 512.3 341.9C508.6 343.3 504.8 344.6 501 345.8C497.2 347 493.4 348.1 489.5 349.1C485.6 350.1 481.7 351.1 477.8 351.9C473.9 352.6 470 353.2 466 353.6C462 354 458 354.2 454 354.1C450 354 446.1 353.6 442.2 352.9C438.3 352.1 434.4 351.1 430.8 349.6C427.2 348.1 423.4 346.3 420.3 344C417.2 341.7 414.1 338.8 412.2 336C410.3 333.2 409 330.2 409.2 327.1Z"/>
</g>
<use href="#coast"/>
</g>
<rect class="frame" x="0" y="0" width="1331.1" height="655.8"/>
</g>
<text class="ttl" x="742" y="107.5" text-anchor="middle" textLength="970" lengthAdjust="spacingAndGlyphs" xml:space="preserve">Combined (GIM), 2020-09-04 18:00 UT</text>
<rect x="78.4" y="831.7" width="95.7" height="65.6" fill="#0000a8"/>
<rect x="173.5" y="831.7" width="95.7" height="65.6" fill="#0000fa"/>
<rect x="268.6" y="831.7" width="95.7" height="65.6" fill="#0034ff"/>
<rect x="363.6" y="831.7" width="95.7" height="65.6" fill="#0080ff"/>
<rect x="458.7" y="831.7" width="95.7" height="65.6" fill="#00c8ff"/>
<rect x="553.8" y="831.7" width="95.7" height="65.6" fill="#23ffd4"/>
<rect x="648.9" y="831.7" width="95.7" height="65.6" fill="#5dff9a"/>
<rect x="743.9" y="831.7" width="95.7" height="65.6" fill="#9aff5d"/>
<rect x="839" y="831.7" width="95.7" height="65.6" fill="#d4ff23"/>
<rect x="934.1" y="831.7" width="95.7" height="65.6" fill="#ffdb00"/>
<rect x="1029.2" y="831.7" width="95.7" height="65.6" fill="#ff9400"/>
<rect x="1124.3" y="831.7" width="95.7" height="65.6" fill="#ff5200"/>
<rect x="1219.3" y="831.7" width="95.7" height="65.6" fill="#fa0f00"/>
<rect x="1314.4" y="831.7" width="95.1" height="65.6" fill="#a80000"/>
<rect class="frame" x="78.4" y="831.7" width="1331.1" height="65.6"/>
<line class="tick" x1="78.4" y1="897.3" x2="78.4" y2="912.8"/>
<text class="lbl" x="78.4" y="959.3" text-anchor="middle" textLength="26.1" lengthAdjust="spacingAndGlyphs">0</text>
<line class="tick" x1="268.6" y1="897.3" x2="268.6" y2="912.8"/>
<text class="lbl" x="268.6" y="959.3" text-anchor="middle" textLength="26.1" lengthAdjust="spacingAndGlyphs">5</text>
<line class="tick" x1="458.7" y1="897.3" x2="458.7" y2="912.8"/>
<text class="lbl" x="458.7" y="959.3" text-anchor="middle" textLength="52.2" lengthAdjust="spacingAndGlyphs">10</text>
<line class="tick" x1="648.9" y1="897.3" x2="648.9" y2="912.8"/>
<text class="lbl" x="648.9" y="959.3" text-anchor="middle" textLength="52.2" lengthAdjust="spacingAndGlyphs">15</text>
<line class="tick" x1="839" y1="897.3" x2="839" y2="912.8"/>
<text class="lbl" x="839" y="959.3" text-anchor="middle" textLength="52.2" lengthAdjust="spacingAndGlyphs">20</text>
<line class="tick" x1="1029.2" y1="897.3" x2="1029.2" y2="912.8"/>
<text class="lbl" x="1029.2" y="959.3" text-anchor="middle" textLength="52.2" lengthAdjust="spacingAndGlyphs">25</text>
<line class="tick" x1="1219.3" y1="897.3" x2="1219.3" y2="912.8"/>
<text class="lbl" x="1219.3" y="959.3" text-anchor="middle" textLength="52.2" lengthAdjust="spacingAndGlyphs">30</text>
<line class="tick" x1="1409.5" y1="897.3" x2="1409.5" y2="912.8"/>
<text class="lbl" x="1409.5" y="959.3" text-anchor="middle" textLength="52.2" lengthAdjust="spacingAndGlyphs">35</text>
<g transform="translate(78.4 1117.3)">
<g clip-path="url(#axclip)">
<g shape-rendering="crispEdges">
<rect x="-2" y="-2" width="1335.1" height="659.8" fill="#0000fa"/>
<path fill="#0000a8" d="M-40 232C-38 232 -32.1 232.9 -28.1 233.4C-24.1 233.9 -20.1 234.3 -16.2 234.8C-12.3 235.3 -7.7 235.1 -4.6 236.5C-1.5 237.9 0.8 240.2 2.3 243.3C3.8 246.4 3.9 250.9 4.4 254.8C4.9 258.7 5 262.7 5.2 266.7C5.5 270.7 5.6 274.7 5.9 278.7C6.2 282.7 6.5 286.7 6.9 290.7C7.3 294.7 7.7 298.6 8.1 302.6C8.5 306.6 8.9 310.6 9.3 314.6C9.7 318.6 10.1 322.5 10.5 326.5C10.9 330.5 11.2 334.4 11.5 338.4C11.8 342.4 12 346.4 12.2 350.4C12.4 354.4 12.6 358.4 12.9 362.4C13.2 366.4 13.6 370.4 13.9 374.4C14.2 378.4 14.7 382.3 15 386.3C15.3 390.3 15.6 394.3 15.7 398.3C15.8 402.3 15.6 406.4 15.3 410.3C15 414.2 14.6 418.2 13.7 422C12.8 425.8 11.2 429.6 9.8 433.3C8.4 437 7 441.1 5 444.2C3 447.3 1 450.4 -2 452.2C-5 453.9 -9.2 454 -13 454.7C-16.8 455.4 -20.9 455.7 -24.9 456.2C-28.9 456.7 -34.4 458.8 -36.9 457.6C-39.4 456.4 -39.5 452.6 -40 449.2C-40.5 445.8 -40 441.2 -40 437.2C-40 433.2 -40 429.2 -40 425.2C-40 421.2 -40 417.2 -40 413.2C-40 409.2 -40 405.2 -40 401.2C-40 397.2 -40 393.2 -40 389.2C-40 385.2 -40 381.2 -40 377.2C-40 373.2 -40 369.2 -40 365.2C-40 361.2 -40 357.2 -40 353.2C-40 349.2 -40 345.2 -40 341.2C-40 337.2 -40 333.2 -40 329.2C-40 325.2 -40 321.2 -40 317.2C-40 313.2 -40 309.2 -40 305.2C-40 301.2 -40 297.2 -40 293.2C-40 289.2 -40 285.2 -40 281.2C-40 277.2 -40 273.2 -40 269.2C-40 265.2 -40 261.2 -40 257.2C-40 253.2 -40 249.2 -40 245.2C-40 241.2 -40 235.4 -40 233.2C-40 231 -42 232 -40 232Z"/>
<path fill="#0000a8" d="M-40 472C-38 471.2 -32.1 473.2 -28.1 473.8C-24.2 474.4 -20.2 474.9 -16.3 475.5C-12.4 476.1 -8.1 476.3 -4.5 477.5C-0.9 478.7 2.4 480.5 5.4 482.9C8.4 485.3 10.9 488.6 13.4 491.7C15.9 494.8 18.6 497.8 20.6 501.2C22.6 504.6 24.6 508.2 25.5 511.9C26.4 515.6 26.4 519.5 25.8 523.3C25.2 527.1 23.6 530.9 22.1 534.6C20.7 538.3 18.6 541.8 17.1 545.5C15.6 549.2 14 552.8 13 556.6C12 560.4 11.3 564.4 11.3 568.3C11.3 572.2 12.8 576 13 579.9C13.2 583.8 13.8 587.9 12.7 591.4C11.6 594.9 9.2 598.2 6.5 600.6C3.8 603 -0 604.4 -3.7 605.5C-7.4 606.6 -11.6 606.7 -15.5 607.2C-19.4 607.7 -23.4 608.2 -27.4 608.6C-31.4 609 -37.2 611.5 -39.3 609.9C-41.4 608.2 -39.9 602.6 -40 598.7C-40.1 594.8 -40 590.7 -40 586.7C-40 582.7 -40 578.7 -40 574.7C-40 570.7 -40 566.7 -40 562.7C-40 558.7 -40 554.7 -40 550.7C-40 546.7 -40 542.7 -40 538.7C-40 534.7 -40 530.7 -40 526.7C-40 522.7 -40 518.7 -40 514.7C-40 510.7 -40 506.7 -40 502.7C-40 498.7 -40 494.7 -40 490.7C-40 486.7 -40 481.8 -40 478.7C-40 475.6 -42 472.8 -40 472Z"/>
<path fill="#0000a8" d="M881.2 78.4C882.4 77 885.5 74.6 888.5 72.9C891.5 71.2 895.8 69.8 899.5 68.5C903.2 67.2 907.1 66.2 911 65.2C914.9 64.2 918.8 63.3 922.7 62.5C926.6 61.7 930.5 60.9 934.5 60.3C938.5 59.6 942.4 59.1 946.4 58.6C950.4 58.1 954.3 57.6 958.3 57.2C962.3 56.8 966.2 56.5 970.2 56.2C974.2 55.9 978.2 55.6 982.2 55.3C986.2 55 990.2 54.6 994.2 54.3C998.2 54 1002.1 53.6 1006.1 53.3C1010.1 53 1014.1 52.5 1018.1 52.3C1022.1 52 1026.1 51.9 1030.1 51.8C1034.1 51.6 1038.1 51.5 1042.1 51.4C1046.1 51.3 1050 51.1 1054 51C1058 50.9 1062 50.8 1066 50.7C1070 50.6 1074 50.7 1078 50.6C1082 50.5 1086 50.5 1090 50.4C1094 50.3 1098 50.2 1102 50.2C1106 50.2 1110 50.2 1114 50.1C1118 50 1122 50 1126 49.9C1130 49.8 1134 49.8 1138 49.8C1142 49.8 1146 49.6 1150 49.6C1154 49.6 1158 49.6 1162 49.6C1166 49.6 1170 49.5 1174 49.5C1178 49.5 1182 49.5 1186 49.6C1190 49.7 1194 50 1198 50.3C1202 50.5 1206 50.8 1210 51.1C1214 51.4 1217.9 51.5 1221.9 51.9C1225.9 52.3 1229.9 52.8 1233.9 53.3C1237.9 53.8 1241.8 54.4 1245.7 55C1249.6 55.6 1253.6 56.4 1257.5 57.2C1261.4 58 1265.3 58.9 1269.2 59.9C1273.1 60.9 1277 61.9 1280.7 63.2C1284.4 64.5 1288.2 66 1291.6 68C1294.9 70 1298.4 72.1 1300.8 74.9C1303.2 77.7 1304.9 81.2 1306.2 84.8C1307.5 88.4 1307.8 92.5 1308.6 96.4C1309.4 100.3 1310.1 104.2 1311.3 108C1312.5 111.8 1314.2 115.3 1315.8 119C1317.4 122.7 1319.3 126.2 1320.8 129.9C1322.3 133.6 1323.9 137.3 1325 141.1C1326.1 144.9 1326.9 148.8 1327.3 152.7C1327.7 156.6 1327.5 160.6 1327.5 164.6C1327.5 168.6 1326.8 172.8 1327.3 176.5C1327.8 180.2 1328.4 184.1 1330.4 186.6C1332.4 189.1 1335.7 190.4 1339.1 191.5C1342.5 192.6 1346.8 192.8 1350.7 193.4C1354.6 194 1359.2 193.9 1362.6 194.9C1366 195.9 1369.7 196.7 1371.1 199.4C1372.5 202.2 1371.1 207.4 1371.1 211.4C1371.1 215.4 1371.1 219.4 1371.1 223.4C1371.1 227.4 1371.1 231.4 1371.1 235.4C1371.1 239.4 1371.1 243.4 1371.1 247.4C1371.1 251.4 1371.1 255.4 1371.1 259.4C1371.1 263.4 1371.1 267.4 1371.1 271.4C1371.1 275.4 1371.1 279.4 1371.1 283.4C1371.1 287.4 1371.1 291.4 1371.1 295.4C1371.1 299.4 1371.1 303.4 1371.1 307.4C1371.1 311.4 1371.1 315.4 1371.1 319.4C1371.1 323.4 1371.1 327.4 1371.1 331.4C1371.1 335.4 1371.1 339.4 1371.1 343.4C1371.1 347.4 1371.1 351.4 1371.1 355.4C1371.1 359.4 1371.1 363.4 1371.1 367.4C1371.1 371.4 1371.1 375.4 1371.1 379.4C1371.1 383.4 1371.1 387.4 1371.1 391.4C1371.1 395.4 1371.1 399.4 1371.1 403.4C1371.1 407.4 1371.1 411.4 1371.1 415.4C1371.1 419.4 1371.1 423.4 1371.1 427.4C1371.1 431.4 1371.1 435.4 1371.1 439.4C1371.1 443.4 1371.1 447.4 1371.1 451.4C1371.1 455.4 1371.1 459.4 1371.1 463.4C1371.1 467.4 1371.1 471.4 1371.1 475.4C1371.1 479.4 1371.1 483.4 1371.1 487.4C1371.1 491.4 1371.1 495.4 1371.1 499.4C1371.1 503.4 1371.1 507.4 1371.1 511.4C1371.1 515.4 1371.1 519.4 1371.1 523.4C1371.1 527.4 1371.1 531.4 1371.1 535.4C1371.1 539.4 1371.1 543.4 1371.1 547.4C1371.1 551.4 1371.1 555.4 1371.1 559.4C1371.1 563.4 1371.1 567.4 1371.1 571.4C1371.1 575.4 1371.1 579.4 1371.1 583.4C1371.1 587.4 1371.7 591.9 1371.1 595.4C1370.5 598.9 1370.2 602.7 1367.7 604.5C1365.2 606.3 1359.9 605.8 1355.9 606.4C1352 607 1348 607.7 1344 608.3C1340 608.9 1336.2 609.5 1332.2 610.1C1328.2 610.7 1324.3 611.4 1320.3 612C1316.3 612.6 1312.4 613.2 1308.4 613.8C1304.5 614.4 1300.6 615 1296.6 615.5C1292.6 616 1288.6 616.2 1284.6 616.6C1280.6 617 1276.7 617.3 1272.7 617.6C1268.7 617.9 1264.7 618.3 1260.7 618.6C1256.7 618.9 1252.7 619.2 1248.7 619.5C1244.7 619.8 1240.8 620.2 1236.8 620.5C1232.8 620.8 1228.8 621.1 1224.8 621.4C1220.8 621.7 1216.8 621.9 1212.8 622.2C1208.8 622.5 1204.9 622.7 1200.9 623C1196.9 623.3 1192.9 623.5 1188.9 623.8C1184.9 624 1180.9 624.3 1176.9 624.5C1172.9 624.7 1168.9 624.9 1164.9 625.1C1160.9 625.3 1156.9 625.6 1152.9 625.8C1148.9 626 1145 626.2 1141 626.4C1137 626.6 1133 626.8 1129 627C1125 627.2 1121 627.5 1117 627.7C1113 627.9 1109 628.1 1105 628.3C1101 628.5 1097 628.7 1093 628.9C1089 629.1 1085 629.3 1081 629.5C1077 629.7 1073.1 629.8 1069.1 630C1065.1 630.2 1061.1 630.4 1057.1 630.6C1053.1 630.8 1049.1 630.9 1045.1 631.1C1041.1 631.3 1037.1 631.5 1033.1 631.7C1029.1 631.9 1025.1 632.1 1021.1 632.3C1017.1 632.5 1013.1 632.7 1009.1 632.9C1005.1 633.1 1001.1 633.3 997.1 633.5C993.1 633.7 989.2 633.9 985.2 634.1C981.2 634.3 977.2 634.5 973.2 634.6C969.2 634.7 965.2 634.8 961.2 634.9C957.2 635 953.2 635 949.2 635C945.2 635 941.2 635 937.2 635C933.2 635 929.2 634.8 925.2 634.7C921.2 634.6 917.2 634.4 913.2 634.3C909.2 634.1 905.2 634 901.2 633.8C897.2 633.6 893.2 633.4 889.2 633.2C885.2 633 881.2 632.7 877.2 632.5C873.2 632.3 869.3 632 865.3 631.8C861.3 631.5 857.3 631.3 853.3 631C849.3 630.7 845.3 630.4 841.3 629.9C837.3 629.4 833.4 628.9 829.5 628.2C825.6 627.6 821.6 626.9 817.7 626C813.8 625.1 810 624 806.2 622.8C802.4 621.6 798.6 620.2 794.9 618.7C791.2 617.2 787.6 615.5 784.1 613.6C780.6 611.7 777.2 609.6 774 607.3C770.8 605 767.8 602.4 765 599.6C762.2 596.8 759.6 593.8 757.4 590.5C755.2 587.2 753.3 583.6 751.9 580C750.5 576.4 749.4 572.5 748.9 568.6C748.4 564.7 748.3 560.6 748.8 556.8C749.3 553 750.4 549.1 751.9 545.6C753.4 542.1 755.6 538.6 758 535.5C760.4 532.4 763.3 529.5 766.3 527C769.3 524.5 772.6 522.3 776.1 520.4C779.6 518.5 783.3 517.1 787 515.7C790.7 514.4 794.6 513.3 798.5 512.3C802.4 511.3 806.3 510.4 810.2 509.5C814.1 508.6 818 507.8 821.9 506.9C825.8 506 829.7 505.2 833.6 504.3C837.5 503.4 841.4 502.4 845.2 501.4C849.1 500.3 853 499.4 856.7 498C860.4 496.6 864.6 495.3 867.4 493.3C870.2 491.3 873.3 488.4 873.6 486.2C873.9 484 871.8 481.3 869.2 480C866.7 478.7 862.1 478.7 858.3 478.5C854.5 478.3 850.3 478.6 846.3 478.8C842.3 479 838.4 479.2 834.4 479.5C830.4 479.8 826.4 480.1 822.4 480.5C818.4 480.9 814.5 481.4 810.5 481.9C806.5 482.4 802.6 483 798.6 483.6C794.6 484.2 790.8 484.8 786.8 485.3C782.8 485.9 778.9 486.4 774.9 486.9C770.9 487.3 766.9 487.9 762.9 488C758.9 488.1 755 488.1 751 487.8C747 487.6 743 487.2 739.1 486.5C735.2 485.8 731.2 484.9 727.6 483.5C724 482.1 720 480.7 717.2 478.4C714.4 476.1 711.8 473 710.6 469.8C709.5 466.6 709.7 462.6 710.3 459C710.9 455.4 712.9 451.6 714.2 447.9C715.6 444.2 717.5 440.5 718.4 436.8C719.2 433.1 719.8 429.2 719.3 425.5C718.8 421.8 716.9 418.3 715.3 414.8C713.7 411.3 710.8 408.1 709.9 404.7C709 401.3 708.5 397.5 709.6 394.4C710.7 391.3 713.6 388.3 716.5 386C719.4 383.7 723.3 382.1 726.9 380.4C730.5 378.7 734.4 377.4 738.1 376C741.8 374.6 745.6 373.2 749.3 371.7C753 370.2 756.7 368.7 760.4 367.2C764.1 365.7 767.7 364.1 771.4 362.5C775.1 360.9 778.8 359.3 782.5 357.9C786.2 356.4 790 355.1 793.8 353.8C797.6 352.5 801.4 351.3 805.2 350.2C809 349.1 812.9 348.1 816.8 347.2C820.7 346.3 824.7 345.5 828.6 344.7C832.5 343.9 836.4 343.1 840.3 342.4C844.2 341.6 848.2 340.9 852.1 340.2C856 339.5 860 338.7 863.9 338C867.8 337.3 871.8 336.6 875.7 335.8C879.6 335 883.5 334.2 887.4 333.2C891.2 332.2 895.1 331.1 898.8 329.7C902.5 328.2 906.4 326.7 909.4 324.5C912.4 322.3 915.6 319.5 916.7 316.5C917.9 313.5 917.6 309.7 916.3 306.7C915 303.7 911.9 300.8 908.9 298.6C905.9 296.4 902 294.8 898.4 293.4C894.8 291.9 890.9 290.9 887 289.9C883.1 288.9 879.2 288.1 875.3 287.4C871.4 286.6 867.3 286 863.4 285.4C859.5 284.8 855.5 284.5 851.6 283.7C847.7 282.9 843.8 282 840 280.8C836.2 279.6 832.6 278 829 276.4C825.4 274.8 821.5 273 818.3 270.9C815.1 268.8 811.4 266.5 809.7 263.7C808 260.9 807.2 257.3 807.9 254.2C808.6 251 811.3 247.7 813.8 244.8C816.3 242 819.5 239.4 822.7 237.1C825.9 234.8 829.3 232.6 832.8 230.7C836.3 228.8 839.9 227.1 843.6 225.5C847.3 223.9 851 222.5 854.8 221.1C858.5 219.7 862.3 218.4 866.1 217.2C869.9 215.9 873.7 214.8 877.5 213.6C881.3 212.4 885.1 211.1 888.9 209.8C892.7 208.5 896.4 207.1 900.2 205.7C904 204.3 907.8 203 911.5 201.6C915.2 200.2 919 198.8 922.7 197.4C926.4 196 930.1 194.3 933.9 193C937.7 191.7 941.4 190.5 945.3 189.5C949.1 188.5 953.1 187.7 957 187C960.9 186.3 964.9 185.8 968.9 185.4C972.9 185 976.8 184.8 980.8 184.5C984.8 184.2 988.8 184 992.8 183.9C996.8 183.8 1000.8 183.9 1004.8 184C1008.8 184.1 1012.8 184.4 1016.8 184.6C1020.8 184.8 1024.7 185 1028.7 185C1032.7 185 1036.7 184.8 1040.7 184.4C1044.7 184.1 1048.6 183.5 1052.6 182.9C1056.5 182.3 1060.5 181.6 1064.4 180.8C1068.3 180 1072.1 179 1076 178C1079.9 177 1083.8 176 1087.6 174.9C1091.4 173.8 1095.2 172.6 1099 171.3C1102.8 170 1106.9 168.6 1110.1 166.9C1113.3 165.2 1117 163.1 1118 161.1C1119 159.1 1117.8 156.9 1115.8 155.1C1113.8 153.3 1109.3 151.8 1105.7 150.4C1102.1 149 1098.1 147.8 1094.3 146.6C1090.5 145.4 1086.6 144.4 1082.8 143.4C1079 142.4 1075.1 141.4 1071.2 140.4C1067.3 139.4 1063.4 138.5 1059.5 137.5C1055.6 136.5 1051.8 135.6 1047.9 134.6C1044 133.6 1040.1 132.6 1036.2 131.7C1032.3 130.8 1028.4 129.9 1024.5 129.1C1020.6 128.3 1016.7 127.5 1012.8 126.7C1008.9 125.9 1005 125.2 1001 124.5C997 123.8 993.1 123.1 989.1 122.4C985.1 121.7 981.2 121.1 977.3 120.3C973.4 119.5 969.5 118.7 965.6 117.8C961.7 116.9 957.8 116 953.9 115C950 114 946.1 113.1 942.3 112C938.4 110.9 934.6 109.8 930.8 108.6C927 107.4 923.2 106.1 919.5 104.7C915.8 103.3 912 102 908.4 100.3C904.8 98.6 901.1 96.8 897.7 94.8C894.3 92.8 890.6 90.4 887.9 88.2C885.1 86 882.3 83 881.2 81.4C880.1 79.8 880 79.8 881.2 78.4Z"/>
<path fill="#0000fa" d="M1183.3 163.3C1186.3 161.8 1190.4 161 1194.2 160.4C1198 159.8 1202.1 159.6 1206.1 159.5C1210.1 159.4 1214.1 159.6 1218.1 159.9C1222.1 160.2 1226 160.7 1229.9 161.4C1233.8 162.1 1237.8 162.8 1241.6 163.9C1245.4 165 1249.4 166.2 1252.9 167.9C1256.4 169.6 1260.6 171.5 1262.7 173.9C1264.8 176.3 1266.5 180 1265.8 182.6C1265.1 185.2 1261.8 187.9 1258.7 189.4C1255.6 190.9 1251.2 191.4 1247.3 191.8C1243.4 192.2 1239.4 192.1 1235.4 191.9C1231.4 191.7 1227.5 191.1 1223.5 190.5C1219.5 189.9 1215.6 189 1211.7 188.1C1207.8 187.2 1204 186.1 1200.2 184.9C1196.4 183.7 1192.6 182.2 1189 180.7C1185.4 179.2 1180.7 177.6 1178.5 175.7C1176.3 173.8 1175.1 171.5 1175.9 169.4C1176.7 167.3 1180.2 164.8 1183.3 163.3Z"/>
<path fill="#0000fa" d="M913.6 459.5C913.7 456.8 916.1 453.1 918.5 450.5C920.9 447.9 924.7 445.7 928.2 443.9C931.7 442.1 935.5 440.8 939.3 439.5C943.1 438.2 946.9 437.3 950.8 436.4C954.7 435.5 958.7 434.8 962.6 434C966.5 433.2 970.4 432.4 974.3 431.5C978.2 430.6 982 429.5 985.9 428.5C989.8 427.5 993.6 426.3 997.5 425.3C1001.4 424.3 1005.3 423.5 1009.2 422.7C1013.1 421.9 1017 421.3 1021 420.7C1025 420.1 1028.9 419.4 1032.9 419C1036.9 418.6 1040.8 418.3 1044.8 418C1048.8 417.7 1052.8 417.4 1056.8 417.2C1060.8 417 1064.8 416.9 1068.8 417C1072.8 417.1 1076.8 417.4 1080.8 417.6C1084.8 417.8 1088.7 418.1 1092.7 418.4C1096.7 418.6 1100.7 418.9 1104.7 419.1C1108.7 419.4 1112.7 419.6 1116.7 419.9C1120.7 420.2 1124.7 420.4 1128.7 420.7C1132.7 421 1136.6 421.3 1140.6 421.5C1144.6 421.7 1148.6 421.9 1152.6 422.1C1156.6 422.3 1160.6 422.5 1164.6 422.7C1168.6 422.9 1172.6 423 1176.6 423.3C1180.6 423.6 1184.5 423.9 1188.5 424.3C1192.5 424.8 1196.5 425.4 1200.4 426C1204.4 426.6 1208.3 427.1 1212.2 427.8C1216.1 428.6 1220.1 429.4 1223.9 430.5C1227.7 431.6 1231.4 433.1 1235.1 434.6C1238.8 436.1 1242.5 437.5 1246.1 439.3C1249.7 441.1 1253.4 443 1256.5 445.2C1259.6 447.4 1263.7 450.3 1264.6 452.6C1265.5 454.9 1264.1 457.5 1261.8 459C1259.5 460.5 1254.5 460.9 1250.7 461.4C1246.9 461.9 1242.8 462 1238.8 462.2C1234.8 462.4 1230.8 462.6 1226.8 462.6C1222.8 462.6 1218.8 462.5 1214.8 462.4C1210.8 462.3 1206.8 462 1202.8 461.8C1198.8 461.6 1194.8 461.3 1190.8 461.1C1186.8 460.9 1182.9 460.6 1178.9 460.4C1174.9 460.1 1170.9 459.9 1166.9 459.6C1162.9 459.3 1158.9 459.1 1154.9 458.8C1150.9 458.5 1146.9 458.2 1142.9 458C1138.9 457.8 1135 457.6 1131 457.4C1127 457.2 1123 456.9 1119 456.7C1115 456.5 1111 456.3 1107 456.1C1103 455.9 1099 455.8 1095 455.7C1091 455.6 1087 455.6 1083 455.5C1079 455.4 1075 455.4 1071 455.4C1067 455.4 1063 455.3 1059 455.3C1055 455.3 1051 455.4 1047 455.4C1043 455.4 1039 455.4 1035 455.5C1031 455.6 1027 455.6 1023 455.7C1019 455.8 1015 456 1011 456.2C1007 456.4 1003 456.6 999 456.8C995 457 991.1 457.3 987.1 457.6C983.1 457.9 979.1 458.3 975.1 458.8C971.1 459.3 967.2 460.1 963.3 460.7C959.4 461.3 955.5 462 951.5 462.7C947.5 463.4 943.5 464 939.6 464.7C935.7 465.4 931.5 466.6 927.9 467C924.2 467.4 920.1 468.1 917.7 466.9C915.3 465.6 913.5 462.2 913.6 459.5Z"/>
<path fill="#0034ff" d="M94.3 28.7C95.7 27 98.7 24.2 101.7 22.5C104.8 20.8 108.8 19.6 112.6 18.5C116.4 17.4 120.4 16.8 124.3 16.1C128.2 15.5 132.2 15 136.2 14.6C140.2 14.2 144.1 13.8 148.1 13.5C152.1 13.2 156.1 12.9 160.1 12.7C164.1 12.5 168.1 12.3 172.1 12.1C176.1 11.9 180.1 11.8 184.1 11.6C188.1 11.4 192.1 11.2 196.1 11.1C200.1 11 204.1 11 208.1 10.9C212.1 10.8 216.1 10.8 220.1 10.7C224.1 10.6 228.1 10.6 232.1 10.5C236.1 10.4 240.1 10.4 244.1 10.4C248.1 10.4 252.1 10.3 256.1 10.3C260.1 10.3 264.1 10.3 268.1 10.3C272.1 10.3 276.1 10.3 280.1 10.3C284.1 10.3 288.1 10.3 292.1 10.3C296.1 10.3 300.1 10.3 304.1 10.3C308.1 10.3 312.1 10.4 316.1 10.5C320.1 10.6 324.1 10.6 328.1 10.7C332.1 10.8 336.1 10.8 340.1 10.9C344.1 11 348.1 11 352.1 11.1C356.1 11.2 360.1 11.2 364.1 11.3C368.1 11.4 372 11.4 376 11.5C380 11.6 384 11.7 388 11.8C392 11.9 396 12 400 12.2C404 12.3 408 12.5 412 12.7C416 12.8 420 12.9 424 13.1C428 13.2 432 13.4 436 13.6C440 13.8 444 14.1 448 14.3C452 14.6 456 14.8 460 15.1C464 15.4 467.9 15.6 471.9 15.9C475.9 16.2 479.9 16.4 483.9 16.7C487.9 17 491.9 17.3 495.9 17.6C499.9 17.9 503.8 18.2 507.8 18.6C511.8 19 515.8 19.4 519.8 19.7C523.8 20 527.7 20.3 531.7 20.7C535.7 21.1 539.7 21.4 543.7 21.8C547.7 22.2 551.6 22.6 555.6 23C559.6 23.4 563.5 24 567.5 24.5C571.5 25 575.4 25.5 579.4 26.1C583.4 26.7 587.3 27.1 591.2 28C595.1 28.9 599 29.9 602.7 31.2C606.4 32.5 610.1 34.1 613.5 36C616.9 37.9 620.3 40 623.2 42.6C626.1 45.2 628.5 48.2 630.8 51.4C633.1 54.5 634.8 58.3 637 61.5C639.2 64.7 641.3 68 644 70.7C646.7 73.4 650 75.8 653.3 77.9C656.6 80 660.3 81.6 663.8 83.4C667.3 85.2 670.9 87 674.4 88.9C677.9 90.8 681.3 92.8 684.9 94.6C688.5 96.4 692.1 98 695.8 99.5C699.5 101 703.3 102.2 707.1 103.5C710.9 104.8 714.7 105.9 718.5 107.1C722.3 108.3 726.2 109.4 730 110.5C733.8 111.6 737.7 112.7 741.5 113.9C745.3 115.1 749.2 116.2 753 117.5C756.8 118.8 760.7 119.9 764.3 121.4C767.9 122.9 771.8 124.3 774.8 126.5C777.8 128.7 780.8 131.4 782.4 134.5C784 137.6 784.4 141.4 784.5 145.1C784.6 148.8 783.1 152.8 783.1 156.4C783.1 160 783.1 163.7 784.5 166.8C785.9 169.9 788.9 172.4 791.6 175C794.3 177.6 798.1 179.7 800.7 182.4C803.3 185.1 806.1 188 807.3 191.2C808.5 194.4 808.4 198.2 807.8 201.8C807.1 205.4 805.1 209.1 803.4 212.6C801.6 216.1 799.5 219.5 797.3 222.8C795.1 226.1 792.6 229.4 790 232.3C787.4 235.2 784.3 237.7 781.5 240.4C778.7 243.1 775.4 245.3 773.1 248.3C770.8 251.3 768.8 254.7 767.8 258.2C766.8 261.7 766.4 265.8 766.9 269.4C767.4 273 768.9 276.6 770.9 279.7C772.9 282.8 776 285.5 779.1 287.8C782.2 290.1 785.8 291.9 789.3 293.6C792.8 295.4 796.6 296.8 800.3 298.3C804 299.8 808.1 301.2 811.5 302.6C814.9 304 819.2 305.4 820.9 306.9C822.6 308.4 823.1 310 821.8 311.5C820.5 313 816.5 314.5 813.2 315.9C809.9 317.3 805.7 318.4 801.9 319.7C798.1 321 794.3 322.3 790.5 323.6C786.7 324.9 783 326.3 779.3 327.7C775.5 329.1 771.8 330.5 768 331.9C764.2 333.3 760.5 334.7 756.8 336.1C753 337.5 749.2 338.8 745.5 340.2C741.8 341.6 738 343 734.3 344.4C730.6 345.8 726.8 347.2 723.1 348.8C719.4 350.4 715.8 352 712.3 353.9C708.8 355.8 705.4 357.9 702.1 360.1C698.8 362.3 695.4 364.6 692.3 367C689.1 369.4 686.1 372.1 683.2 374.8C680.3 377.5 677.5 380.3 675 383.4C672.5 386.4 670 389.7 668.3 393.1C666.6 396.5 665.4 400.1 665 403.8C664.6 407.5 665.5 411.4 665.7 415.3C665.9 419.2 666.7 423.3 666.4 427.1C666.1 430.9 665.5 434.8 664 438.2C662.5 441.6 660.2 444.9 657.7 447.8C655.2 450.7 652.1 453.2 649 455.7C645.9 458.2 642.5 460.3 639.3 462.7C636.1 465.1 632.7 467.4 629.8 470C626.9 472.6 623.8 475.3 621.9 478.4C620 481.4 618.5 485 618.6 488.3C618.7 491.6 620.4 495.1 622.4 498C624.4 500.9 627.8 503.4 630.8 505.9C633.8 508.3 637.4 510.4 640.6 512.7C643.9 515 647.4 517.1 650.3 519.6C653.2 522.1 656.5 524.8 658.2 527.8C660 530.8 661 534.4 660.8 537.7C660.6 541 658.8 544.6 656.8 547.6C654.8 550.6 651.7 553.4 648.7 556C645.8 558.6 642.4 560.9 639.1 563.1C635.8 565.4 632.3 567.3 629 569.5C625.7 571.7 622.1 573.7 619.2 576.2C616.3 578.7 613.3 581.3 611.7 584.4C610.1 587.5 609.5 591.2 609.7 594.7C609.9 598.2 611.6 602 612.8 605.6C614 609.2 616 612.9 616.7 616.6C617.4 620.3 617.8 624.3 617.2 627.9C616.6 631.5 615.1 635.1 613.1 638.3C611.1 641.5 608 644.2 605.5 647.1C603 650 600 652.6 598.1 655.9C596.2 659.1 595.1 662.9 594.3 666.6C593.5 670.4 593.4 674.4 593.1 678.4C592.8 682.4 593.6 687.5 592.3 690.4C591 693.3 588.5 694.9 585.4 695.8C582.2 696.7 577.4 695.8 573.4 695.8C569.4 695.8 565.4 695.8 561.4 695.8C557.4 695.8 553.4 695.8 549.4 695.8C545.4 695.8 541.4 695.8 537.4 695.8C533.4 695.8 529.4 695.8 525.4 695.8C521.4 695.8 517.4 695.8 513.4 695.8C509.4 695.8 505.4 695.8 501.4 695.8C497.4 695.8 493.4 695.8 489.4 695.8C485.4 695.8 481.4 695.8 477.4 695.8C473.4 695.8 469.4 695.8 465.4 695.8C461.4 695.8 457.4 695.8 453.4 695.8C449.4 695.8 445.4 695.8 441.4 695.8C437.4 695.8 433.4 695.8 429.4 695.8C425.4 695.8 421.4 695.8 417.4 695.8C413.4 695.8 409.4 695.8 405.4 695.8C401.4 695.8 397.4 695.8 393.4 695.8C389.4 695.8 385.4 695.8 381.4 695.8C377.4 695.8 373.4 695.8 369.4 695.8C365.4 695.8 361.4 695.8 357.4 695.8C353.4 695.8 349.4 695.8 345.4 695.8C341.4 695.8 337.4 695.8 333.4 695.8C329.4 695.8 325.4 695.8 321.4 695.8C317.4 695.8 313.4 695.8 309.4 695.8C305.4 695.8 301.4 695.8 297.4 695.8C293.4 695.8 289.4 695.8 285.4 695.8C281.4 695.8 277.4 695.8 273.4 695.8C269.4 695.8 265.4 695.8 261.4 695.8C257.4 695.8 253.4 695.8 249.4 695.8C245.4 695.8 241.4 695.8 237.4 695.8C233.4 695.8 229.4 695.8 225.4 695.8C221.4 695.8 217.4 695.8 213.4 695.8C209.4 695.8 205.4 695.8 201.4 695.8C197.4 695.8 193.4 695.8 189.4 695.8C185.4 695.8 181.4 695.8 177.4 695.8C173.4 695.8 169.4 695.8 165.4 695.8C161.4 695.8 157.4 695.8 153.4 695.8C149.4 695.8 145.4 695.8 141.4 695.8C137.4 695.8 133.3 695.9 129.4 695.8C125.5 695.7 119.9 697.3 118 695.2C116.1 693.1 117.9 687.2 117.9 683.2C117.9 679.2 117.9 675.2 117.9 671.2C117.9 667.2 117.8 663.2 117.9 659.2C118 655.2 117.9 651.2 118.5 647.4C119.1 643.5 120.1 639.7 121.5 636.1C122.9 632.5 125.3 629.1 126.9 625.6C128.5 622.1 130.7 618.8 131.2 615.3C131.7 611.8 131.2 608.1 129.9 604.8C128.6 601.4 126 598.3 123.6 595.2C121.2 592.1 118.2 589.3 115.6 586.3C113 583.3 110.1 580.4 108 577.2C105.9 574 103.6 570.5 103 567.2C102.4 563.9 102.8 560.3 104.3 557.3C105.8 554.3 109 551.7 111.9 549.4C114.9 547.1 118.6 545.3 122 543.3C125.4 541.3 129.2 539.6 132.2 537.3C135.2 535 138.6 532.4 140 529.7C141.4 527 141.6 523.7 140.5 520.9C139.4 518.1 136.3 515.4 133.5 513C130.7 510.6 127 508.7 123.5 506.8C120 504.9 116.3 503.4 112.6 501.8C108.9 500.2 105.2 498.9 101.5 497.3C97.8 495.7 94.2 494.2 90.6 492.4C87 490.6 83.4 488.8 80.1 486.7C76.8 484.6 73.3 482.4 70.5 479.8C67.7 477.2 64.8 474.3 63 471.1C61.2 467.9 59.9 464.1 59.5 460.4C59.1 456.7 59.8 452.8 60.4 449C61 445.2 62.5 441.4 63.4 437.5C64.2 433.6 65.3 429.7 65.5 425.9C65.7 422.1 65.2 418.2 64.3 414.5C63.4 410.8 61.8 407 60.2 403.4C58.7 399.8 56.6 396.3 55 392.7C53.4 389.1 51.6 385.4 50.4 381.6C49.2 377.8 48.3 374 47.6 370.1C46.9 366.2 46.6 362.3 46.2 358.3C45.9 354.3 45.6 350.3 45.5 346.3C45.4 342.3 45.3 338.3 45.3 334.3C45.3 330.3 45.4 326.3 45.4 322.3C45.4 318.3 45.4 314.3 45.4 310.3C45.4 306.3 45.2 302.3 45.2 298.3C45.2 294.3 45.2 290.3 45.6 286.4C46 282.5 46.9 278.6 47.7 274.7C48.5 270.8 49.7 267 50.6 263.1C51.5 259.2 52.6 255.4 53 251.5C53.4 247.6 53.5 243.7 53 239.8C52.5 236 51.2 232.1 50 228.4C48.8 224.7 47 221.1 45.6 217.4C44.2 213.7 42.8 209.9 41.7 206.1C40.6 202.3 39.5 198.5 39 194.6C38.5 190.7 38.3 186.8 38.7 182.9C39.1 179 40.2 175.2 41.3 171.4C42.4 167.6 44 163.9 45.5 160.2C47 156.5 48.4 152.8 50.1 149.2C51.8 145.6 53.4 141.9 55.6 138.7C57.8 135.5 60.3 132.5 63.1 129.8C65.9 127.1 69.1 124.8 72.3 122.4C75.5 120 78.9 117.8 82.1 115.4C85.3 113 88.6 110.7 91.7 108.2C94.8 105.7 97.9 103.2 100.7 100.4C103.5 97.6 106.5 94.8 108.7 91.6C111 88.4 113.2 85 114.2 81.5C115.2 78 115.6 74.2 114.9 70.8C114.2 67.3 112 64 109.9 60.8C107.8 57.6 104.8 54.7 102.4 51.6C100.1 48.5 97.3 45.2 95.8 42.1C94.2 39 93.3 34.9 93.1 32.7C92.8 30.5 92.9 30.4 94.3 28.7Z"/>
<path fill="#0080ff" d="M149.3 194.9C150.6 192.3 153 189.9 155.5 187.3C158 184.7 161.1 181.9 164.1 179.3C167.1 176.7 170.3 174.3 173.4 171.8C176.5 169.3 179.6 166.8 182.7 164.2C185.8 161.6 188.7 159 191.8 156.4C194.9 153.8 197.9 151.2 201.1 148.8C204.3 146.4 207.6 144.1 211 142.1C214.4 140.1 218 138.3 221.7 136.8C225.4 135.3 229.2 134 233 132.9C236.8 131.8 240.7 130.9 244.6 130.2C248.5 129.4 252.4 128.9 256.4 128.4C260.4 127.9 264.4 127.5 268.4 127.1C272.4 126.7 276.3 126.3 280.3 125.9C284.3 125.5 288.2 125.2 292.2 124.8C296.2 124.4 300.2 124 304.2 123.6C308.2 123.2 312.2 122.8 316.1 122.3C320 121.8 324 121.5 327.8 120.5C331.6 119.5 335.2 118.1 338.8 116.6C342.4 115.1 345.9 112.9 349.5 111.3C353.1 109.7 356.9 108.3 360.6 106.9C364.3 105.5 368.1 104.3 371.9 103.1C375.7 101.9 379.6 100.8 383.4 99.6C387.2 98.4 391 97.2 394.9 96.2C398.8 95.2 402.7 94.1 406.6 93.3C410.5 92.5 414.4 91.7 418.3 91.3C422.2 90.9 426.2 90.6 430.2 90.7C434.1 90.8 438.1 91.2 442 91.9C445.9 92.6 449.8 93.7 453.5 95C457.2 96.3 460.8 98.1 464.4 99.7C468 101.3 471.6 103.2 475.3 104.5C479 105.8 482.8 106.9 486.7 107.8C490.6 108.7 494.6 109.3 498.5 110C502.4 110.7 506.4 111.2 510.4 111.7C514.4 112.2 518.3 112.6 522.3 113C526.3 113.4 530.3 113.6 534.3 114C538.3 114.4 542.2 114.8 546.2 115.2C550.2 115.6 554.2 116 558.1 116.6C562 117.1 566 117.8 569.9 118.5C573.8 119.2 577.8 120 581.6 121.1C585.4 122.2 589.5 123.2 592.9 124.9C596.3 126.6 600 128.5 602 131C604 133.5 605.2 136.8 604.9 139.8C604.6 142.8 602.1 146.1 600.2 149.2C598.3 152.3 594.8 155.4 593.6 158.4C592.4 161.4 591.7 164.8 592.8 167.4C593.9 170 597.2 172.3 600.2 174.1C603.2 175.9 607.4 177.1 611.1 178.3C614.9 179.5 618.8 180.5 622.7 181.5C626.6 182.5 630.5 183.4 634.4 184.2C638.3 185 642.2 185.6 646.2 186.1C650.2 186.6 654.1 186.9 658.1 187.1C662.1 187.3 666.1 187.3 670.1 187.3C674.1 187.3 678.1 186.9 682 187.1C685.9 187.3 689.7 187.8 693.5 188.5C697.3 189.2 701.1 190.5 704.9 191.5C708.7 192.5 712.6 193.5 716.4 194.7C720.2 195.9 724 197.1 727.8 198.5C731.5 199.9 735.4 201.2 738.9 203C742.4 204.8 746 206.6 749 209C752 211.4 754.9 214.2 756.7 217.4C758.5 220.6 759.9 224.5 760 227.9C760.1 231.3 759 234.9 757.3 237.8C755.6 240.7 752.3 242.7 749.8 245.3C747.3 248 744.4 250.5 742.4 253.7C740.4 256.9 738.7 260.6 737.5 264.3C736.3 268 735.6 271.9 735.3 275.8C735 279.7 735.3 283.6 735.9 287.5C736.5 291.4 737.7 295.3 738.6 299.1C739.5 302.9 741 306.9 741.2 310.5C741.4 314.1 741 317.8 739.6 321C738.2 324.2 735.5 327.1 732.8 329.8C730.1 332.5 726.6 334.7 723.3 337C720 339.3 716.6 341.3 713.2 343.4C709.8 345.5 706.4 347.5 703 349.7C699.6 351.9 696.3 354.1 693 356.4C689.7 358.6 686.5 360.9 683.2 363.2C679.9 365.5 676.7 367.9 673.4 370.2C670.1 372.5 666.9 374.8 663.6 377C660.3 379.2 656.9 381.3 653.4 383.3C649.9 385.3 646.4 387.2 642.8 389C639.2 390.8 635.6 392.5 632 393.8C628.4 395.1 624.6 395.6 621.4 396.9C618.2 398.2 615.1 399.2 613 401.6C610.9 404 609.6 407.8 608.7 411.3C607.8 414.9 608 419.1 607.4 422.9C606.8 426.7 606.4 430.7 604.9 434.1C603.4 437.5 601 440.5 598.3 443.1C595.6 445.7 592 447.8 588.6 449.8C585.2 451.8 581.5 453.5 578 455.3C574.5 457.1 570.9 458.9 567.3 460.7C563.7 462.5 560.1 464.2 556.6 466.1C553.1 468 549.5 469.8 546 471.8C542.5 473.8 539.1 475.8 535.8 478C532.5 480.2 529.1 482.4 526.1 485C523.1 487.6 520.3 490.4 517.7 493.3C515.1 496.2 513 499.8 510.3 502.4C507.6 505 505 507.5 501.8 508.9C498.6 510.3 494.7 510.6 490.9 510.9C487.1 511.2 483 510.9 479 510.8C475 510.7 471 510.5 467 510.3C463 510.1 459 509.8 455 509.5C451 509.2 447.1 508.9 443.1 508.5C439.1 508.1 435.2 507.6 431.2 507.4C427.2 507.1 423.2 506.9 419.2 507C415.2 507.1 411.3 507.4 407.3 507.7C403.3 508 399.3 508.5 395.3 509C391.3 509.5 387.4 510.1 383.4 510.5C379.4 510.9 375.5 511.2 371.5 511.4C367.5 511.6 363.5 511.6 359.5 511.5C355.5 511.4 351.6 511.2 347.6 510.9C343.6 510.6 339.6 510.2 335.7 509.6C331.8 509 327.9 508.2 324 507.2C320.1 506.2 316.4 504.9 312.6 503.5C308.9 502.1 305.2 500.6 301.5 499.1C297.8 497.6 294.1 496 290.4 494.4C286.7 492.8 283.1 491.2 279.4 489.7C275.7 488.2 272 486.7 268.2 485.4C264.4 484.1 260.6 482.9 256.8 481.8C253 480.7 249.1 479.8 245.2 478.8C241.3 477.8 237.4 477 233.6 475.8C229.8 474.6 226 473.4 222.6 471.6C219.2 469.8 216.2 467.4 213.3 464.9C210.4 462.4 208 459.1 205.2 456.4C202.4 453.7 199.5 450.9 196.3 448.6C193.1 446.3 189.6 444.4 186.1 442.5C182.6 440.6 178.9 439 175.3 437.3C171.7 435.6 168 434 164.4 432.3C160.8 430.6 157.1 429 153.5 427.3C149.9 425.6 146.3 423.9 142.7 422.1C139.1 420.3 135.6 418.4 132.1 416.5C128.6 414.6 125.2 412.5 121.8 410.4C118.4 408.3 115 406.2 111.6 404C108.2 401.8 104.7 399.7 101.6 397.3C98.5 394.9 95.4 392.5 93 389.6C90.6 386.7 88.6 383.2 87.3 379.7C86 376.1 85.2 372.2 84.9 368.3C84.6 364.4 84.8 360.4 85.4 356.5C86 352.6 87.2 348.8 88.4 345C89.6 341.2 91.1 337.6 92.5 333.8C93.9 330.1 95.4 326.3 96.6 322.5C97.8 318.7 98.8 314.9 99.8 311C100.8 307.1 101.6 303.2 102.6 299.3C103.6 295.4 104.5 291.6 105.8 287.8C107.1 284.1 108.5 280.3 110.3 276.8C112.1 273.3 114.2 269.9 116.5 266.7C118.8 263.5 121.5 260.4 124.4 257.9C127.3 255.4 130.6 253.2 134.1 251.5C137.6 249.8 141.5 248.8 145.3 248C149.1 247.2 153.2 247.1 157.1 246.8C161 246.5 165.2 246.6 169 246.2C172.8 245.8 177.3 245.4 180 244.1C182.7 242.8 185.1 240.7 185.3 238.5C185.5 236.3 183.3 233.3 181 231.1C178.7 228.8 174.7 226.9 171.3 225C167.9 223.1 164 221.6 160.8 219.5C157.6 217.4 154.2 214.9 152.1 212.2C150 209.4 148.5 205.9 148 203C147.5 200.1 148.1 197.5 149.3 194.9Z"/>
<path fill="#0080ff" d="M301.9 615.2C302.6 613.6 304.6 610.7 307.2 608.8C309.8 606.9 313.8 605.2 317.4 603.7C321 602.2 325 601.2 328.8 600.1C332.6 599 336.5 598 340.4 597C344.2 596 348 594.8 351.9 593.9C355.8 593 359.7 592.1 363.6 591.5C367.5 590.9 371.5 590.6 375.5 590.3C379.5 590 383.5 589.8 387.5 589.7C391.5 589.6 395.5 589.8 399.5 589.9C403.5 590 407.4 590.3 411.4 590.6C415.4 590.9 419.4 591.3 423.3 591.9C427.2 592.5 431.2 593.2 435.1 594C439 594.8 443 595.7 446.8 596.8C450.6 597.9 454.6 599.1 458 600.7C461.4 602.3 465.4 604.1 467.5 606.3C469.6 608.4 470.9 611.3 470.3 613.6C469.7 615.9 466.6 618.3 463.7 620C460.8 621.7 456.6 622.9 452.8 624C449 625.1 445 625.8 441.1 626.5C437.2 627.2 433.2 627.7 429.2 628.2C425.2 628.7 421.3 629 417.3 629.3C413.3 629.6 409.3 629.9 405.3 630.1C401.3 630.3 397.3 630.6 393.3 630.7C389.3 630.9 385.3 630.9 381.3 631C377.3 631.1 373.3 631.3 369.3 631.3C365.3 631.3 361.3 631.3 357.3 631.2C353.3 631.1 349.4 631 345.4 630.7C341.4 630.4 337.4 629.9 333.5 629.3C329.6 628.7 325.5 628.1 321.7 627.1C317.9 626.1 313.8 625 310.6 623.5C307.5 622 304.2 619.7 302.8 618.3C301.4 616.9 301.2 616.8 301.9 615.2Z"/>
<path fill="#00c8ff" d="M124.6 363.6C125.1 361.3 126.3 357.4 127.7 354C129.1 350.6 131 346.9 132.8 343.4C134.6 339.9 136.5 336.4 138.5 332.9C140.5 329.4 142.4 325.9 144.7 322.6C146.9 319.3 149.3 316.1 152 313.3C154.7 310.5 157.8 308.1 161.1 306C164.4 303.9 168.1 302.3 171.8 301C175.5 299.7 179.4 298.9 183.3 298C187.2 297.1 191.1 296.4 195 295.7C198.9 295 203 294.4 206.9 293.6C210.8 292.8 214.7 291.9 218.6 291C222.5 290.1 226.3 289 230.1 287.9C233.9 286.8 237.8 285.6 241.6 284.4C245.4 283.2 249.2 282 253 280.7C256.8 279.4 260.6 278.1 264.3 276.7C268.1 275.3 271.8 274 275.5 272.5C279.2 271 282.9 269.5 286.4 267.6C289.9 265.8 293.4 263.7 296.6 261.4C299.8 259.1 302.9 256.6 305.4 253.7C307.9 250.8 309.9 247.4 311.7 243.9C313.5 240.4 314.8 236.6 316.2 232.9C317.6 229.2 318.6 225.3 320 221.6C321.4 217.9 322.9 214.2 324.9 210.9C326.9 207.6 329.4 204.4 332.1 201.6C334.8 198.8 338 196.3 341.3 194.3C344.6 192.3 348.3 190.8 352 189.6C355.7 188.4 359.8 187.8 363.7 187.4C367.6 187 371.7 186.9 375.6 187C379.6 187.1 383.5 187.5 387.4 188.1C391.3 188.7 395.3 189.5 399.2 190.4C403.1 191.3 406.9 192.4 410.8 193.4C414.7 194.4 418.5 195.4 422.4 196.4C426.3 197.4 430.2 198.3 434.1 199.2C438 200.1 441.9 200.9 445.8 201.6C449.7 202.3 453.7 202.8 457.7 203.2C461.7 203.6 465.6 203.9 469.6 204.1C473.6 204.3 477.6 204.2 481.6 204.2C485.6 204.1 489.6 204 493.6 203.8C497.6 203.6 501.5 203.3 505.5 202.9C509.5 202.5 513.5 202 517.5 201.5C521.5 201 525.4 200.6 529.4 200.1C533.4 199.6 537.3 199.1 541.3 198.6C545.3 198.1 549.2 197.7 553.2 197.3C557.2 196.9 561.2 196.5 565.2 196.2C569.2 195.9 573.1 195.7 577.1 195.5C581.1 195.3 585.1 195.1 589.1 195C593.1 194.9 597.1 194.8 601.1 194.8C605.1 194.8 609.1 194.8 613.1 194.8C617.1 194.8 621.1 194.8 625.1 194.8C629.1 194.9 633.1 194.9 637.1 195.1C641.1 195.3 645.1 195.4 649 196C652.9 196.6 656.8 197.4 660.6 198.5C664.4 199.6 668.2 201 672 202.3C675.8 203.6 679.5 205 683.2 206.5C686.9 208 690.6 209.4 694.2 211.1C697.8 212.8 701.5 214.5 704.8 216.7C708.1 218.8 711.4 221.2 713.9 224C716.4 226.8 718.8 230.2 719.7 233.5C720.6 236.8 720.5 240.4 719.4 243.6C718.3 246.8 715.5 249.7 713.4 252.9C711.3 256.1 708.6 259.2 706.8 262.6C705 266 703.5 269.8 702.5 273.5C701.5 277.2 701 281.2 701.1 285.1C701.2 289 702 292.8 702.9 296.6C703.8 300.4 705.6 304.2 706.3 307.8C707 311.4 707.7 315.1 706.9 318.5C706.1 321.9 703.9 325.1 701.6 328C699.3 330.9 696 333.5 693.1 336.2C690.2 338.9 687.1 341.6 684.2 344.3C681.3 347.1 678.6 350 675.7 352.7C672.8 355.4 669.8 358.1 666.7 360.6C663.6 363.1 660.4 365.5 657 367.6C653.6 369.7 650.2 371.7 646.6 373.4C643 375.1 639.3 376.5 635.5 377.7C631.7 378.9 627.8 379.7 623.9 380.6C620 381.5 616.2 382.3 612.3 383.3C608.4 384.3 604.5 385.3 600.7 386.5C596.9 387.7 593.2 389.2 589.5 390.7C585.8 392.2 582.2 393.8 578.5 395.4C574.8 397 571.1 398.7 567.5 400.3C563.9 401.9 560.3 403.6 556.6 405.2C552.9 406.8 549.2 408.4 545.5 409.9C541.8 411.4 538 412.8 534.3 414.1C530.5 415.5 526.8 416.7 523 418C519.2 419.3 515.4 420.6 511.6 421.9C507.8 423.2 504 424.4 500.2 425.6C496.4 426.8 492.6 428.1 488.8 429.3C485 430.5 481.2 431.6 477.3 432.6C473.4 433.6 469.5 434.6 465.6 435.5C461.7 436.4 457.9 437.4 454 438.3C450.1 439.2 446.1 440 442.2 440.8C438.3 441.6 434.4 442.5 430.5 443.2C426.6 443.9 422.6 444.5 418.6 445.1C414.6 445.7 410.7 446.1 406.7 446.6C402.7 447.1 398.8 447.5 394.8 448C390.8 448.5 386.8 449.1 382.9 449.7C378.9 450.3 375 451 371.1 451.6C367.2 452.2 363.2 452.9 359.3 453.5C355.4 454.1 351.3 454.8 347.4 455C343.4 455.2 339.5 455.2 335.6 454.8C331.7 454.4 327.8 453.4 323.9 452.5C320 451.6 316.3 450.3 312.5 449.1C308.7 447.9 304.9 446.5 301.1 445.1C297.3 443.8 293.6 442.4 289.9 441C286.1 439.6 282.4 438.2 278.6 436.8C274.9 435.4 271.1 434 267.4 432.6C263.6 431.2 259.9 429.9 256.1 428.6C252.3 427.4 248.4 426.2 244.6 425.1C240.8 424 236.9 422.9 233.1 421.8C229.2 420.7 225.4 419.7 221.5 418.6C217.6 417.5 213.8 416.5 209.9 415.4C206.1 414.3 202.2 413.2 198.4 412.2C194.6 411.1 190.7 410 186.8 409.1C182.9 408.2 179 407.6 175.1 406.8C171.2 406 167.3 405.4 163.5 404.3C159.7 403.2 156 401.8 152.4 400.1C148.8 398.5 145.2 396.6 142 394.4C138.8 392.2 135.5 389.7 132.9 386.9C130.3 384.1 128.1 380.6 126.7 377.4C125.3 374.2 124.8 370.2 124.4 367.9C124.1 365.6 124 365.9 124.6 363.6Z"/>
<path fill="#23ffd4" d="M171.1 365.5C171.3 362.3 173.2 358.8 175.3 355.8C177.4 352.8 180.4 349.8 183.4 347.3C186.4 344.8 189.8 342.6 193.2 340.6C196.6 338.6 200.3 336.9 203.9 335.3C207.5 333.7 211.3 332.3 215 330.9C218.7 329.5 222.6 328.2 226.3 326.8C230.1 325.4 233.8 324.1 237.5 322.6C241.2 321.2 245 319.6 248.7 318.1C252.4 316.6 256 315 259.7 313.4C263.4 311.8 267 310.1 270.6 308.4C274.2 306.7 277.8 305 281.4 303.2C285 301.4 288.5 299.6 292.1 297.8C295.7 296 299.2 294.2 302.8 292.4C306.4 290.5 309.9 288.7 313.4 286.7C316.9 284.7 320.3 282.7 323.7 280.6C327.1 278.5 330.6 276.4 333.6 273.9C336.6 271.4 339.4 268.7 341.9 265.8C344.3 262.9 345.9 259.4 348.3 256.5C350.7 253.6 353.1 250.8 356.1 248.5C359.1 246.2 362.7 244.3 366.2 242.5C369.7 240.7 373.4 239.1 377.1 237.6C380.8 236.1 384.6 234.8 388.4 233.5C392.2 232.2 396 231 399.8 229.9C403.6 228.8 407.5 227.9 411.4 227C415.3 226.1 419.2 225.2 423.1 224.3C427 223.5 431 222.7 434.9 221.9C438.8 221.1 442.8 220.4 446.7 219.7C450.6 219 454.6 218.3 458.5 217.7C462.4 217.1 466.4 216.5 470.4 215.9C474.4 215.3 478.3 214.8 482.3 214.3C486.3 213.8 490.2 213.4 494.2 213C498.2 212.6 502.1 212.4 506.1 212.1C510.1 211.8 514.1 211.6 518.1 211.4C522.1 211.2 526.1 211 530.1 210.9C534.1 210.8 538.1 210.7 542.1 210.6C546.1 210.5 550.1 210.4 554.1 210.4C558.1 210.4 562.1 210.3 566.1 210.3C570.1 210.3 574.1 210.2 578.1 210.3C582.1 210.4 586.1 210.4 590.1 210.6C594.1 210.8 598.1 211 602.1 211.2C606.1 211.4 610.1 211.6 614.1 211.9C618.1 212.2 622 212.6 626 213.1C630 213.6 634 214 637.9 214.7C641.8 215.4 645.8 216.1 649.6 217.2C653.4 218.2 657.2 219.4 660.8 221C664.3 222.6 668 224.5 670.9 226.9C673.8 229.3 676.4 232.3 678 235.5C679.6 238.7 680.4 242.6 680.4 246.3C680.4 250 679.3 253.9 678.2 257.6C677.1 261.3 675.1 265 673.9 268.7C672.6 272.4 671.2 276.1 670.7 279.9C670.2 283.7 670.5 287.5 671.2 291.3C671.9 295.1 673.8 298.8 674.8 302.5C675.8 306.2 677.4 310 677.5 313.6C677.6 317.2 676.8 320.9 675.2 324.1C673.6 327.3 670.7 330.1 667.9 332.8C665.1 335.5 661.8 337.8 658.5 340.1C655.2 342.4 651.9 344.4 648.4 346.4C644.9 348.4 641.4 350.2 637.8 352C634.2 353.8 630.6 355.6 627 357.3C623.4 359 619.7 360.7 616.1 362.4C612.5 364.1 608.9 365.7 605.2 367.3C601.5 368.9 597.8 370.3 594.1 371.8C590.4 373.3 586.6 374.7 582.8 376.1C579 377.5 575.3 378.8 571.5 380C567.7 381.2 563.9 382.4 560.1 383.3C556.3 384.2 552.4 384.6 548.6 385.4C544.8 386.2 540.9 386.9 537.1 388C533.3 389.1 529.5 390.6 525.8 391.9C522 393.2 518.4 394.7 514.6 396C510.8 397.3 507 398.6 503.2 399.8C499.4 401.1 495.6 402.3 491.8 403.5C488 404.7 484.2 405.8 480.3 406.9C476.4 408 472.6 408.9 468.7 409.9C464.8 410.9 460.9 411.9 457 412.8C453.1 413.7 449.2 414.6 445.3 415.4C441.4 416.2 437.4 417.1 433.5 417.6C429.6 418.1 425.8 418.6 422 418.3C418.2 418 414.4 416.6 410.6 415.7C406.8 414.8 403.1 413.5 399.2 412.6C395.3 411.8 391.3 411.2 387.4 410.6C383.4 410 379.4 409.4 375.5 408.8C371.6 408.2 367.6 407.3 363.8 407.2C360 407.1 356.1 407.1 352.5 408C348.9 408.9 345.5 411 342 412.6C338.5 414.2 335.2 416.8 331.6 417.9C328 419 324.4 419.5 320.6 419.4C316.9 419.3 313 418.2 309.1 417.4C305.2 416.6 301.3 415.6 297.4 414.7C293.5 413.8 289.7 412.8 285.8 411.8C281.9 410.8 278 409.9 274.1 408.8C270.2 407.7 266.4 406.5 262.6 405.4C258.8 404.3 254.9 403.1 251.1 402.1C247.2 401.1 243.4 400.2 239.5 399.3C235.6 398.4 231.6 397.7 227.7 396.8C223.8 395.9 220 395 216.1 394C212.2 393 208.3 392 204.5 390.9C200.7 389.8 196.8 388.7 193.1 387.3C189.4 385.9 185.5 384.4 182.3 382.4C179.1 380.4 175.8 377.9 173.9 375.1C172 372.3 170.9 368.7 171.1 365.5Z"/>
<path fill="#5dff9a" d="M249.7 364.1C250.7 362.6 253.2 360 255.9 357.9C258.6 355.8 262.4 353.7 265.8 351.6C269.2 349.6 272.8 347.6 276.2 345.6C279.6 343.6 283.1 341.5 286.5 339.4C289.9 337.3 293.2 335.2 296.6 333.1C300 331 303.3 328.8 306.7 326.6C310.1 324.4 313.5 322.3 316.8 320.1C320.1 317.9 323.6 315.7 326.7 313.3C329.8 310.9 333.2 308.6 335.7 305.8C338.2 303 339.9 299.8 341.8 296.6C343.8 293.5 345.1 289.9 347.4 286.9C349.7 283.9 352.7 281.2 355.6 278.6C358.6 276 361.8 273.6 365.1 271.3C368.4 269 371.8 266.9 375.2 264.9C378.6 262.9 382.1 261 385.7 259.2C389.3 257.4 393 255.7 396.6 254.1C400.2 252.5 403.9 251 407.6 249.5C411.3 248 415.1 246.7 418.9 245.3C422.7 244 426.4 242.6 430.2 241.4C434 240.2 437.8 239.1 441.7 238C445.6 236.9 449.4 236 453.3 235.1C457.2 234.2 461.1 233.3 465 232.4C468.9 231.5 472.9 230.7 476.8 229.9C480.7 229.1 484.6 228.4 488.5 227.7C492.4 227 496.4 226.5 500.4 225.9C504.4 225.3 508.3 224.8 512.3 224.3C516.3 223.8 520.2 223.4 524.2 223.1C528.2 222.8 532.2 222.4 536.2 222.2C540.2 222 544.2 221.8 548.2 221.7C552.2 221.6 556.2 221.5 560.2 221.5C564.2 221.5 568.2 221.5 572.2 221.6C576.2 221.7 580.2 221.8 584.2 222C588.2 222.2 592.1 222.4 596.1 222.7C600.1 223 604.1 223.4 608 224C611.9 224.6 615.9 225.3 619.7 226.4C623.5 227.5 627.4 228.7 630.8 230.4C634.2 232.2 637.9 234.2 640.2 236.9C642.5 239.6 644.3 243 644.7 246.3C645.1 249.7 644.1 253.5 642.8 257C641.5 260.5 638.9 263.8 636.9 267.2C634.9 270.6 632.1 273.7 630.6 277.1C629.1 280.5 627.8 284.1 627.9 287.5C628 290.9 629.6 294.4 631.4 297.6C633.2 300.8 636.6 303.6 638.7 306.6C640.9 309.6 643.6 312.7 644.3 315.8C645 318.9 644.3 322.4 642.8 325.4C641.3 328.4 638.1 331.3 635.2 333.8C632.3 336.3 628.8 338.4 625.4 340.5C622 342.6 618.4 344.5 614.9 346.4C611.4 348.3 607.8 350 604.2 351.7C600.6 353.4 596.9 355.1 593.2 356.6C589.5 358.2 585.8 359.6 582.1 361C578.4 362.4 574.6 363.8 570.8 365.1C567 366.5 563.3 367.9 559.5 369.1C555.7 370.4 552 371.6 548.1 372.6C544.2 373.6 540.3 374.4 536.4 374.9C532.5 375.4 528.5 375.4 524.5 375.8C520.5 376.2 516.6 376.6 512.7 377.3C508.8 378.1 505 379.2 501.2 380.3C497.4 381.4 493.6 382.7 489.8 383.9C486 385.1 482.2 386.2 478.3 387.3C474.4 388.4 470.5 389.3 466.6 390.3C462.7 391.3 458.9 392.2 455 393.1C451.1 394 447.2 395 443.3 395.8C439.4 396.6 435.5 397.7 431.6 398.2C427.7 398.7 423.9 399.1 420 398.8C416.1 398.5 412.3 397.4 408.5 396.4C404.7 395.4 400.9 394 397.1 392.8C393.3 391.6 389.5 390.4 385.6 389.3C381.8 388.2 377.9 387.1 374 386.2C370.1 385.3 366.2 384.6 362.3 384.1C358.4 383.6 354.4 383.5 350.5 383C346.6 382.5 342.7 381.7 338.8 380.9C334.9 380.1 331.1 378.9 327.2 378C323.3 377.1 319.4 376.2 315.5 375.7C311.6 375.1 307.5 374.9 303.5 374.7C299.5 374.5 295.6 374.6 291.6 374.7C287.6 374.8 283.6 375 279.6 375C275.6 375 271.5 375.2 267.7 374.7C263.9 374.2 259.7 373.4 256.7 372.1C253.7 370.8 251.1 368.2 249.9 366.9C248.7 365.6 248.7 365.6 249.7 364.1Z"/>
<path fill="#9aff5d" d="M348.4 333.6C348.5 331.1 349 326.7 350.2 323.3C351.4 319.9 353.5 316.3 355.7 313.1C357.9 309.9 360.6 306.8 363.3 303.9C366 301 368.9 298.3 371.8 295.6C374.8 292.9 377.9 290.3 381 287.8C384.1 285.3 387.3 283 390.6 280.8C393.9 278.6 397.4 276.4 400.8 274.4C404.2 272.3 407.7 270.4 411.2 268.5C414.7 266.6 418.3 264.8 421.9 263C425.5 261.2 429 259.5 432.7 257.9C436.4 256.3 440.1 254.8 443.8 253.3C447.5 251.8 451.2 250.4 455 249.1C458.8 247.8 462.6 246.6 466.4 245.4C470.2 244.2 474 243 477.9 241.9C481.8 240.8 485.6 239.9 489.5 239C493.4 238.1 497.3 237.3 501.2 236.5C505.1 235.7 509.2 235 513.1 234.4C517.1 233.8 520.9 233.3 524.9 232.9C528.9 232.5 532.9 232.1 536.9 231.9C540.9 231.7 544.9 231.5 548.9 231.5C552.9 231.5 556.8 231.5 560.8 231.7C564.8 231.9 568.8 232.2 572.8 232.7C576.8 233.2 580.7 233.6 584.5 234.6C588.3 235.6 592.4 236.6 595.6 238.4C598.9 240.2 602.3 242.5 604 245.2C605.7 247.9 606.3 251.5 605.8 254.8C605.3 258.1 603.1 261.7 601.2 265C599.3 268.3 596.5 271.5 594.3 274.8C592.1 278.1 589.7 281.4 588.2 284.9C586.7 288.4 585.5 292.1 585.4 295.8C585.2 299.5 586.2 303.3 587.3 307C588.3 310.7 590.8 314.2 591.7 317.8C592.7 321.4 593.6 325.1 593 328.4C592.4 331.7 590.3 335 587.9 337.6C585.5 340.2 581.9 342.3 578.5 344.3C575.1 346.3 571.4 347.8 567.8 349.4C564.1 351 560.4 352.4 556.6 353.8C552.9 355.2 549.1 356.6 545.3 357.8C541.5 359.1 537.6 360.2 533.8 361.3C530 362.4 526.2 363.5 522.3 364.5C518.4 365.5 514.5 366.5 510.6 367.2C506.7 367.9 502.8 368.6 498.9 368.9C495 369.2 491 368.7 487.1 368.8C483.2 368.9 479.4 368.9 475.5 369.4C471.6 369.9 467.8 371.1 463.9 372C460 372.9 456.2 374 452.3 375C448.4 376 444.5 377 440.6 377.8C436.7 378.6 432.8 379.7 428.9 380C425 380.3 421.2 380.2 417.4 379.6C413.6 379 409.9 377.5 406.1 376.2C402.4 374.9 398.6 373.4 394.9 372C391.2 370.6 387.3 369.3 383.7 367.7C380.1 366.1 376.4 364.6 373 362.6C369.6 360.6 366.3 358.4 363.3 355.9C360.3 353.4 357.3 350.4 355 347.5C352.7 344.6 350.6 340.6 349.5 338.3C348.4 336 348.3 336.1 348.4 333.6Z"/>
<path fill="#d4ff23" d="M398.2 331C398.2 327.7 399.5 324.2 401.2 321C402.9 317.8 405.5 314.5 408.1 311.6C410.7 308.7 413.8 306.1 416.9 303.6C420 301.1 423.4 298.9 426.7 296.7C430 294.5 433.5 292.4 436.9 290.4C440.3 288.3 443.8 286.3 447.3 284.4C450.8 282.5 454.3 280.6 457.9 278.8C461.5 277 465.1 275.4 468.8 273.7C472.5 272 476.1 270.4 479.8 268.9C483.5 267.4 487.2 266 491 264.6C494.8 263.2 498.5 261.9 502.3 260.7C506.1 259.5 509.9 258.4 513.8 257.4C517.7 256.4 521.6 255.5 525.5 254.8C529.4 254.1 533.3 253.4 537.3 253.1C541.2 252.8 545.6 252.3 549.2 252.8C552.8 253.3 556.8 254.2 558.8 256.2C560.8 258.2 561.6 261.8 561.2 265C560.8 268.2 558.5 271.9 556.6 275.3C554.7 278.7 551.9 281.9 549.9 285.2C547.9 288.5 545.5 291.8 544.5 295.4C543.5 299 543.2 302.9 543.7 306.6C544.2 310.3 546.4 314 547.2 317.6C548 321.2 549.3 325 548.5 328.2C547.7 331.4 545.2 334.4 542.6 336.9C540 339.4 536.1 341.3 532.6 343.1C529.1 344.9 525.3 346.4 521.6 347.9C517.9 349.4 514.2 350.8 510.4 352.1C506.6 353.5 502.8 354.8 499 356C495.2 357.2 491.5 358.4 487.6 359.5C483.8 360.6 479.8 361.6 475.9 362.4C472 363.2 468.1 363.9 464.1 364.3C460.2 364.7 456.1 364.9 452.2 364.8C448.2 364.7 444.3 364.3 440.4 363.6C436.5 362.9 432.6 361.9 428.9 360.6C425.2 359.3 421.4 357.8 418 355.9C414.6 354 411 351.8 408.2 349.2C405.4 346.6 402.7 343.6 401 340.6C399.3 337.6 398.2 334.3 398.2 331Z"/>
</g>
<use href="#coast"/>
</g>
<rect class="frame" x="0" y="0" width="1331.1" height="655.8"/>
</g>
<text class="ttl" x="744.4" y="1092.3" text-anchor="middle" textLength="1226" lengthAdjust="spacingAndGlyphs" xml:space="preserve">Ionosphere  (h=450.0 km), 2020-09-04 18:00 UT</text>
<rect x="78.4" y="1816.5" width="95.7" height="65.6" fill="#0000a8"/>
<rect x="173.5" y="1816.5" width="95.7" height="65.6" fill="#0000fa"/>
<rect x="268.6" y="1816.5" width="95.7" height="65.6" fill="#0034ff"/>
<rect x="363.6" y="1816.5" width="95.7" height="65.6" fill="#0080ff"/>
<rect x="458.7" y="1816.5" width="95.7" height="65.6" fill="#00c8ff"/>
<rect x="553.8" y="1816.5" width="95.7" height="65.6" fill="#23ffd4"/>
<rect x="648.9" y="1816.5" width="95.7" height="65.6" fill="#5dff9a"/>
<rect x="743.9" y="1816.5" width="95.7" height="65.6" fill="#9aff5d"/>
<rect x="839" y="1816.5" width="95.7" height="65.6" fill="#d4ff23"/>
<rect x="934.1" y="1816.5" width="95.7" height="65.6" fill="#ffdb00"/>
<rect x="1029.2" y="1816.5" width="95.7" height="65.6" fill="#ff9400"/>
<rect x="1124.3" y="1816.5" width="95.7" height="65.6" fill="#ff5200"/>
<rect x="1219.3" y="1816.5" width="95.7" height="65.6" fill="#fa0f00"/>
<rect x="1314.4" y="1816.5" width="95.1" height="65.6" fill="#a80000"/>
<rect class="frame" x="78.4" y="1816.5" width="1331.1" height="65.6"/>
<line class="tick" x1="78.4" y1="1882.1" x2="78.4" y2="1897.6"/>
<text class="lbl" x="78.4" y="1944.1" text-anchor="middle" textLength="26.1" lengthAdjust="spacingAndGlyphs">0</text>
<line class="tick" x1="268.6" y1="1882.1" x2="268.6" y2="1897.6"/>
<text class="lbl" x="268.6" y="1944.1" text-anchor="middle" textLength="26.1" lengthAdjust="spacingAndGlyphs">5</text>
<line class="tick" x1="458.7" y1="1882.1" x2="458.7" y2="1897.6"/>
<text class="lbl" x="458.7" y="1944.1" text-anchor="middle" textLength="52.2" lengthAdjust="spacingAndGlyphs">10</text>
<line class="tick" x1="648.9" y1="1882.1" x2="648.9" y2="1897.6"/>
<text class="lbl" x="648.9" y="1944.1" text-anchor="middle" textLength="52.2" lengthAdjust="spacingAndGlyphs">15</text>
<line class="tick" x1="839" y1="1882.1" x2="839" y2="1897.6"/>
<text class="lbl" x="839" y="1944.1" text-anchor="middle" textLength="52.2" lengthAdjust="spacingAndGlyphs">20</text>
<line class="tick" x1="1029.2" y1="1882.1" x2="1029.2" y2="1897.6"/>
<text class="lbl" x="1029.2" y="1944.1" text-anchor="middle" textLength="52.2" lengthAdjust="spacingAndGlyphs">25</text>
<line class="tick" x1="1219.3" y1="1882.1" x2="1219.3" y2="1897.6"/>
<text class="lbl" x="1219.3" y="1944.1" text-anchor="middle" textLength="52.2" lengthAdjust="spacingAndGlyphs">30</text>
<line class="tick" x1="1409.5" y1="1882.1" x2="1409.5" y2="1897.6"/>
<text class="lbl" x="1409.5" y="1944.1" text-anchor="middle" textLength="52.2" lengthAdjust="spacingAndGlyphs">35</text>
<g transform="translate(78.4 2102.1)">
<g clip-path="url(#axclip)">
<g shape-rendering="crispEdges">
<rect x="-2" y="-2" width="1335.1" height="659.8" fill="#0000df"/>
<path fill="#0080ff" d="M-40 168C-38.1 167.8 -32.5 170.6 -28.7 171.9C-24.9 173.2 -21.1 174.5 -17.3 175.8C-13.5 177.1 -9.8 178.4 -6 179.7C-2.2 181 1.6 182.3 5.4 183.6C9.2 184.9 12.9 186.3 16.7 187.5C20.5 188.7 24.3 189.9 28.2 191C32.1 192.1 36 192.9 39.9 193.8C43.8 194.7 47.7 195.5 51.6 196.2C55.5 196.9 59.5 197.5 63.4 198.1C67.3 198.7 71.3 199.2 75.3 199.7C79.3 200.2 83.2 200.7 87.2 201.2C91.2 201.7 95.2 202.1 99.2 202.6C103.2 203.1 107.1 203.5 111.1 203.9C115.1 204.3 119 204.7 123 205.1C127 205.5 131 205.9 135 206.3C139 206.7 142.9 207.1 146.9 207.5C150.9 207.9 154.8 208.3 158.8 208.7C162.8 209.1 166.8 209.4 170.8 209.7C174.8 210 178.8 210.4 182.8 210.7C186.8 211 190.7 211.3 194.7 211.6C198.7 211.9 202.7 212.2 206.7 212.4C210.7 212.7 214.7 212.9 218.7 213.1C222.7 213.3 226.7 213.5 230.7 213.7C234.7 213.9 238.6 214.1 242.6 214.3C246.6 214.5 250.6 214.7 254.6 214.9C258.6 215.1 262.6 215.2 266.6 215.4C270.6 215.6 274.6 215.7 278.6 215.8C282.6 216 286.6 216.2 290.6 216.3C294.6 216.5 298.6 216.6 302.6 216.7C306.6 216.8 310.6 216.9 314.6 217C318.6 217.1 322.6 217.3 326.6 217.3C330.6 217.3 334.6 217.3 338.6 217.1C342.6 216.9 346.6 216.6 350.6 216.3C354.6 216 358.5 215.6 362.5 215.2C366.5 214.8 370.4 214.2 374.4 213.6C378.3 213 382.3 212.4 386.2 211.7C390.1 211 394.1 210.2 398 209.5C401.9 208.8 405.9 207.9 409.8 207.2C413.7 206.4 417.7 205.7 421.6 205C425.5 204.3 429.5 203.7 433.4 203C437.3 202.3 441.3 201.5 445.2 200.8C449.1 200.1 453.1 199.4 457 198.6C460.9 197.8 464.9 197 468.8 196.2C472.7 195.4 476.6 194.7 480.5 193.9C484.4 193.1 488.4 192.3 492.3 191.5C496.2 190.7 500.2 189.9 504.1 189.1C508 188.3 511.9 187.6 515.8 186.8C519.7 186 523.7 185.2 527.6 184.4C531.5 183.6 535.5 182.9 539.4 182.1C543.3 181.3 547.2 180.5 551.1 179.8C555 179.1 559 178.4 563 177.7C567 177 570.8 176.4 574.8 175.8C578.8 175.2 582.8 174.6 586.7 174C590.7 173.4 594.5 172.9 598.5 172.3C602.5 171.7 606.4 171.2 610.4 170.6C614.4 170 618.3 169.3 622.3 168.7C626.2 168.1 630.1 167.5 634.1 166.9C638.1 166.3 642 165.7 646 165.1C650 164.5 653.9 164 657.9 163.4C661.9 162.8 665.8 162.2 669.8 161.6C673.8 161 677.7 160.4 681.6 159.7C685.5 159 689.5 158.3 693.4 157.5C697.3 156.7 701.2 155.8 705.1 154.9C709 154 712.9 153.1 716.8 152.2C720.7 151.3 724.6 150.5 728.5 149.7C732.4 148.9 736.3 148.3 740.3 147.6C744.2 146.9 748.2 146.2 752.2 145.6C756.2 145 760 144.4 764 143.8C768 143.2 771.9 142.6 775.9 142C779.9 141.4 783.8 140.9 787.8 140.4C791.8 139.9 795.7 139.4 799.7 138.9C803.7 138.4 807.6 137.9 811.6 137.5C815.6 137.1 819.5 136.7 823.5 136.3C827.5 135.9 831.5 135.5 835.5 135.2C839.5 134.9 843.5 134.6 847.5 134.3C851.5 134 855.4 133.8 859.4 133.5C863.4 133.2 867.4 132.9 871.4 132.6C875.4 132.3 879.4 132.1 883.4 131.8C887.4 131.6 891.4 131.3 895.4 131.1C899.4 130.9 903.3 130.7 907.3 130.5C911.3 130.3 915.3 130.2 919.3 130C923.3 129.8 927.3 129.7 931.3 129.6C935.3 129.5 939.3 129.3 943.3 129.2C947.3 129.1 951.3 129.1 955.3 129C959.3 128.9 963.3 128.8 967.3 128.7C971.3 128.6 975.3 128.6 979.3 128.6C983.3 128.6 987.3 128.6 991.3 128.6C995.3 128.6 999.3 128.7 1003.3 128.8C1007.3 128.9 1011.3 128.9 1015.3 129C1019.3 129.1 1023.3 129.2 1027.3 129.2C1031.3 129.2 1035.3 129.2 1039.3 129.2C1043.3 129.2 1047.3 129.2 1051.3 129.2C1055.3 129.2 1059.3 129.2 1063.3 129.2C1067.3 129.2 1071.3 129.3 1075.3 129.4C1079.3 129.5 1083.3 129.4 1087.3 129.5C1091.3 129.6 1095.3 129.6 1099.3 129.7C1103.3 129.8 1107.3 129.8 1111.3 129.9C1115.3 130 1119.3 129.9 1123.3 130C1127.3 130.1 1131.3 130.1 1135.3 130.2C1139.3 130.3 1143.3 130.3 1147.3 130.4C1151.3 130.5 1155.3 130.6 1159.3 130.7C1163.3 130.8 1167.3 130.9 1171.3 131C1175.3 131.1 1179.3 131.2 1183.3 131.4C1187.3 131.6 1191.3 131.8 1195.3 132C1199.3 132.2 1203.2 132.4 1207.2 132.6C1211.2 132.8 1215.2 133.1 1219.2 133.4C1223.2 133.7 1227.1 134.2 1231.1 134.6C1235.1 135 1239.1 135.5 1243.1 136.1C1247.1 136.7 1251 137.2 1254.9 137.9C1258.8 138.6 1262.7 139.5 1266.6 140.4C1270.5 141.3 1274.4 142.4 1278.2 143.5C1282 144.6 1285.8 145.8 1289.6 147.1C1293.4 148.4 1297.1 149.8 1300.8 151.4C1304.5 153 1308.1 154.7 1311.6 156.6C1315.1 158.5 1318.5 160.7 1321.9 162.8C1325.3 164.9 1328.5 167.2 1331.8 169.4C1335.1 171.7 1338.4 174 1341.7 176.3C1345 178.6 1348.2 180.9 1351.5 183.2C1354.8 185.5 1358 187.8 1361.3 190.1C1364.6 192.4 1369.5 193.8 1371.1 197C1372.7 200.2 1371.1 205 1371.1 209C1371.1 213 1371.1 217 1371.1 221C1371.1 225 1371.1 229 1371.1 233C1371.1 237 1371.1 241 1371.1 245C1371.1 249 1371.1 253 1371.1 257C1371.1 261 1371.1 265 1371.1 269C1371.1 273 1371.1 277 1371.1 281C1371.1 285 1371.1 289 1371.1 293C1371.1 297 1371.1 301 1371.1 305C1371.1 309 1371.1 313 1371.1 317C1371.1 321 1371.1 325 1371.1 329C1371.1 333 1371.1 337 1371.1 341C1371.1 345 1371.1 349 1371.1 353C1371.1 357 1371.1 361 1371.1 365C1371.1 369 1371.1 373 1371.1 377C1371.1 381 1371.1 385 1371.1 389C1371.1 393 1371.1 397 1371.1 401C1371.1 405 1371.1 409 1371.1 413C1371.1 417 1371.1 421 1371.1 425C1371.1 429 1372.7 434.6 1371.1 437C1369.5 439.4 1365.3 439.2 1361.7 439.6C1358.1 440 1353.7 439.5 1349.7 439.5C1345.7 439.5 1341.7 439.4 1337.7 439.4C1333.7 439.4 1329.7 439.4 1325.7 439.4C1321.7 439.4 1317.7 439.3 1313.7 439.3C1309.7 439.3 1305.7 439.2 1301.7 439.2C1297.7 439.1 1293.7 439.1 1289.7 439C1285.7 438.9 1281.7 438.9 1277.7 438.8C1273.7 438.8 1269.7 438.8 1265.7 438.7C1261.7 438.6 1257.7 438.6 1253.7 438.5C1249.7 438.4 1245.7 438.4 1241.7 438.4C1237.7 438.3 1233.7 438.3 1229.7 438.2C1225.7 438.1 1221.7 438 1217.7 437.9C1213.7 437.8 1209.7 437.7 1205.7 437.6C1201.7 437.5 1197.7 437.4 1193.7 437.3C1189.7 437.2 1185.7 437.1 1181.7 437C1177.7 436.9 1173.7 436.8 1169.7 436.7C1165.7 436.6 1161.7 436.6 1157.7 436.5C1153.7 436.4 1149.7 436.4 1145.7 436.3C1141.7 436.2 1137.7 436.2 1133.7 436.2C1129.7 436.2 1125.7 436.2 1121.7 436.2C1117.7 436.2 1113.7 436.3 1109.7 436.4C1105.7 436.5 1101.7 436.8 1097.7 437C1093.7 437.2 1089.8 437.6 1085.8 437.9C1081.8 438.2 1077.8 438.6 1073.8 439C1069.8 439.4 1065.9 439.8 1061.9 440.1C1057.9 440.5 1053.9 440.8 1049.9 441.1C1045.9 441.4 1042 441.7 1038 441.9C1034 442.1 1030 442.3 1026 442.5C1022 442.7 1018 442.8 1014 442.9C1010 443 1006 443.1 1002 443.2C998 443.3 994 443.3 990 443.4C986 443.4 982 443.4 978 443.5C974 443.6 970 443.6 966 443.7C962 443.8 958 444 954 444.4C950 444.8 946.2 445.3 942.2 445.9C938.2 446.5 934.2 447.2 930.3 448C926.4 448.8 922.5 449.7 918.6 450.6C914.7 451.5 910.8 452.4 906.9 453.3C903 454.2 899.2 455.2 895.3 456.2C891.4 457.2 887.6 458.2 883.7 459.1C879.8 460.1 875.9 461.1 872 461.9C868.1 462.7 864.2 463.5 860.2 464.1C856.2 464.7 852.3 465.2 848.3 465.7C844.3 466.2 840.3 466.8 836.4 467.3C832.5 467.9 828.5 468.4 824.6 469C820.7 469.6 816.7 470.2 812.7 470.8C808.8 471.4 804.8 472.1 800.9 472.8C797 473.5 793 474.3 789.1 475C785.2 475.7 781.2 476.5 777.3 477.2C773.4 477.9 769.4 478.7 765.5 479.4C761.6 480.1 757.6 480.9 753.7 481.6C749.8 482.3 745.8 483.1 741.9 483.8C738 484.5 734 485.2 730.1 485.9C726.2 486.5 722.2 487.1 718.2 487.7C714.2 488.3 710.3 488.9 706.3 489.4C702.3 489.9 698.4 490.4 694.4 490.7C690.4 491 686.4 491.1 682.4 491.3C678.4 491.5 674.4 491.6 670.4 491.7C666.4 491.8 662.5 491.8 658.5 491.7C654.5 491.6 650.5 491.3 646.5 491.1C642.5 490.9 638.5 490.7 634.5 490.4C630.5 490.1 626.5 489.9 622.5 489.5C618.5 489.1 614.6 488.7 610.6 488.3C606.6 487.9 602.7 487.5 598.7 487.1C594.7 486.7 590.7 486.4 586.7 486.1C582.7 485.8 578.7 485.4 574.7 485.1C570.7 484.8 566.8 484.4 562.8 484.2C558.8 483.9 554.8 483.7 550.8 483.6C546.8 483.5 542.8 483.5 538.8 483.4C534.8 483.3 530.8 483.2 526.8 483.2C522.8 483.2 518.8 483.3 514.8 483.4C510.8 483.5 506.8 483.8 502.8 484C498.8 484.2 494.9 484.5 490.9 484.8C486.9 485.1 482.9 485.4 478.9 485.7C474.9 486 471 486.4 467 486.8C463 487.2 459 487.6 455 488C451 488.4 447.1 488.7 443.1 489C439.1 489.3 435.1 489.5 431.1 489.7C427.1 489.9 423.1 490.1 419.1 490.2C415.1 490.2 411.2 490.3 407.2 490C403.2 489.7 399.3 489.1 395.3 488.6C391.3 488.1 387.3 487.5 383.4 486.8C379.5 486.1 375.6 485.3 371.7 484.4C367.8 483.4 364 482.2 360.2 481.1C356.4 480 352.5 478.7 348.7 477.5C344.9 476.3 341.1 475.1 337.3 473.9C333.5 472.7 329.7 471.4 325.9 470.2C322.1 468.9 318.3 467.7 314.5 466.4C310.7 465.1 306.9 463.9 303.1 462.6C299.3 461.4 295.5 460.1 291.7 458.9C287.9 457.7 284.1 456.5 280.2 455.5C276.3 454.5 272.4 453.4 268.5 452.7C264.6 451.9 260.6 451.4 256.7 451C252.8 450.6 248.8 450.4 244.8 450.4C240.8 450.4 236.8 450.6 232.8 450.8C228.8 451 224.8 451.3 220.8 451.6C216.8 451.9 212.8 452.1 208.8 452.4C204.8 452.6 200.9 453 196.9 453.1C192.9 453.2 188.9 453.1 184.9 452.9C180.9 452.7 176.9 452.5 172.9 452.1C168.9 451.8 164.9 451.3 161 450.8C157.1 450.3 153.1 449.6 149.2 449C145.2 448.4 141.2 447.8 137.3 447.1C133.4 446.5 129.4 445.8 125.5 445.1C121.5 444.4 117.5 443.7 113.6 443.1C109.6 442.5 105.8 441.9 101.8 441.4C97.8 440.9 93.9 440.3 89.9 439.9C85.9 439.5 81.9 439.1 77.9 438.8C73.9 438.6 70 438.5 66 438.4C62 438.3 58 438.2 54 438.2C50 438.2 46 438.2 42 438.2C38 438.2 34 438.2 30 438.2C26 438.2 22 438.3 18 438.4C14 438.5 10 438.5 6 438.6C2 438.7 -2 438.8 -6 438.8C-10 438.9 -14 438.9 -18 438.9C-22 438.9 -26.3 439.2 -30 438.9C-33.7 438.6 -38.3 439.3 -40 437C-41.7 434.7 -40 429 -40 425C-40 421 -40 417 -40 413C-40 409 -40 405 -40 401C-40 397 -40 393 -40 389C-40 385 -40 381 -40 377C-40 373 -40 369 -40 365C-40 361 -40 357 -40 353C-40 349 -40 345 -40 341C-40 337 -40 333 -40 329C-40 325 -40 321 -40 317C-40 313 -40 309 -40 305C-40 301 -40 297 -40 293C-40 289 -40 285 -40 281C-40 277 -40 273 -40 269C-40 265 -40 261 -40 257C-40 253 -40 249 -40 245C-40 241 -40 237 -40 233C-40 229 -40 225 -40 221C-40 217 -40 213 -40 209C-40 205 -40 201 -40 197C-40 193 -40 189 -40 185C-40 181 -40 175.8 -40 173C-40 170.2 -41.9 168.2 -40 168Z"/>
<path fill="#36ffc1" d="M43.9 285.9C44.8 283.8 46.3 279.8 48.7 277.5C51.1 275.2 54.6 273.2 58.1 272.2C61.6 271.2 65.8 271.2 69.7 271.3C73.6 271.4 77.5 272.1 81.4 272.9C85.3 273.7 89.2 274.8 93 275.9C96.8 276.9 100.7 278.1 104.5 279.2C108.3 280.3 112.2 281.3 116.1 282.3C120 283.3 123.9 284.2 127.8 285C131.7 285.8 135.6 286.5 139.6 287C143.6 287.5 147.6 287.7 151.6 287.8C155.6 287.9 159.5 287.8 163.5 287.6C167.5 287.4 171.4 287 175.4 286.5C179.4 286 183.4 285.2 187.3 284.5C191.2 283.8 195.1 282.9 199 282.1C202.9 281.3 206.9 280.5 210.8 279.7C214.7 278.9 218.6 278.1 222.5 277.4C226.4 276.7 230.4 275.9 234.4 275.3C238.4 274.7 242.3 274.1 246.3 273.7C250.3 273.2 254.2 272.9 258.2 272.6C262.2 272.3 266.2 272 270.2 271.8C274.2 271.6 278.2 271.4 282.2 271.3C286.2 271.2 290.2 271.2 294.2 271.1C298.2 271.1 302.2 271 306.2 271C310.2 271 314.2 271 318.2 271C322.2 271 326.1 271 330.1 270.8C334.1 270.6 338.1 270.2 342.1 269.8C346.1 269.4 350 268.9 353.9 268.2C357.8 267.5 361.7 266.5 365.5 265.4C369.3 264.3 373.1 262.9 376.9 261.6C380.7 260.3 384.5 259 388.3 257.8C392.1 256.6 395.9 255.3 399.7 254.2C403.5 253 407.4 251.9 411.3 250.9C415.2 249.9 419 249 422.9 248.1C426.8 247.2 430.8 246.5 434.7 245.7C438.6 244.9 442.6 244.1 446.5 243.4C450.4 242.7 454.4 242.1 458.3 241.4C462.2 240.8 466.2 240.1 470.1 239.5C474.1 238.9 478 238.4 482 237.8C486 237.2 489.9 236.8 493.9 236.2C497.8 235.6 501.8 234.9 505.7 234.2C509.6 233.5 513.6 232.7 517.5 231.9C521.4 231.1 525.3 230.2 529.2 229.3C533.1 228.4 536.9 227.3 540.8 226.3C544.7 225.3 548.5 224.2 552.4 223.2C556.3 222.2 560.1 221.1 564 220.1C567.9 219.1 571.7 218.1 575.6 217.1C579.5 216.1 583.4 215.2 587.3 214.2C591.2 213.2 595 212.2 598.9 211.3C602.8 210.4 606.7 209.5 610.6 208.7C614.5 207.9 618.5 207.2 622.4 206.4C626.3 205.7 630.3 204.9 634.2 204.2C638.1 203.4 642.1 202.7 646 201.9C649.9 201.1 653.8 200.2 657.7 199.4C661.6 198.6 665.6 197.8 669.5 197.1C673.4 196.4 677.3 195.9 681.3 195.3C685.2 194.7 689.2 194.1 693.2 193.4C697.2 192.7 701.1 192 705 191.2C708.9 190.4 712.8 189.6 716.7 188.8C720.6 188 724.6 187.3 728.5 186.6C732.4 185.9 736.3 185.2 740.3 184.5C744.2 183.8 748.2 183.1 752.2 182.4C756.2 181.7 760.1 181.1 764 180.4C767.9 179.7 771.8 179 775.8 178.3C779.8 177.6 783.8 177 787.7 176.3C791.7 175.6 795.6 175 799.5 174.3C803.4 173.7 807.3 173 811.3 172.4C815.2 171.8 819.2 171.1 823.2 170.5C827.2 169.9 831 169.3 835 168.8C839 168.3 843 167.9 847 167.5C851 167.1 854.9 166.7 858.9 166.4C862.9 166.1 866.9 165.8 870.9 165.6C874.9 165.4 878.9 165.2 882.9 165C886.9 164.8 890.9 164.7 894.9 164.6C898.9 164.5 902.9 164.4 906.9 164.3C910.9 164.2 914.9 164.2 918.9 164.2C922.9 164.2 926.9 164.3 930.9 164.4C934.9 164.5 938.9 164.6 942.9 164.7C946.9 164.8 950.8 165 954.8 165.2C958.8 165.4 962.8 165.6 966.8 165.8C970.8 166 974.8 166.2 978.8 166.5C982.8 166.8 986.8 167.2 990.8 167.5C994.8 167.8 998.7 168.2 1002.7 168.6C1006.7 169 1010.6 169.5 1014.6 170C1018.6 170.5 1022.5 171.1 1026.5 171.5C1030.5 171.9 1034.5 172.1 1038.5 172.3C1042.5 172.5 1046.5 172.6 1050.5 172.6C1054.5 172.6 1058.5 172.6 1062.5 172.6C1066.5 172.6 1070.5 172.6 1074.5 172.5C1078.5 172.4 1082.5 172.3 1086.5 172.2C1090.5 172.1 1094.5 172.1 1098.5 172C1102.5 171.9 1106.5 171.8 1110.5 171.8C1114.5 171.8 1118.5 171.8 1122.5 171.9C1126.5 172 1130.5 172.1 1134.5 172.3C1138.5 172.5 1142.4 172.8 1146.4 173.2C1150.4 173.6 1154.3 174.1 1158.3 174.7C1162.2 175.3 1166.2 175.9 1170.1 176.7C1174 177.5 1177.9 178.4 1181.8 179.3C1185.7 180.2 1189.6 181.2 1193.4 182.3C1197.2 183.4 1201 184.7 1204.8 186C1208.6 187.3 1212.3 188.9 1216 190.4C1219.7 191.9 1223.3 193.5 1227 195.1C1230.7 196.7 1234.3 198.4 1237.9 200.2C1241.5 202 1245 203.8 1248.4 205.8C1251.9 207.8 1255.3 209.9 1258.6 212.2C1261.9 214.5 1265.2 216.8 1268 219.5C1270.8 222.2 1273.9 225.2 1275.5 228.3C1277.1 231.4 1278.3 235.5 1277.5 238.3C1276.7 241.2 1273.9 243.7 1270.9 245.4C1267.9 247.1 1263.5 247.7 1259.7 248.5C1255.9 249.3 1251.9 249.6 1247.9 250.1C1244 250.6 1240 251 1236 251.5C1232 252 1228 252.6 1224.1 253.3C1220.1 254 1216.2 254.8 1212.3 255.5C1208.4 256.2 1204.4 257 1200.5 257.7C1196.6 258.4 1192.5 258.6 1188.7 259.5C1184.9 260.4 1181.1 261.4 1177.4 262.8C1173.7 264.2 1170 265.9 1166.4 267.7C1162.8 269.5 1159.3 271.4 1155.9 273.5C1152.5 275.6 1149.2 277.8 1146 280.1C1142.8 282.5 1139.6 285 1136.6 287.6C1133.6 290.2 1130.4 292.9 1128.1 295.9C1125.8 298.9 1123.3 302.3 1122.5 305.7C1121.7 309.1 1122 313 1123.1 316.4C1124.2 319.8 1126.9 322.9 1129.3 326C1131.7 329.1 1134.9 331.8 1137.6 334.7C1140.3 337.6 1143.3 340.3 1145.6 343.5C1147.9 346.7 1150.2 350.1 1151.3 353.7C1152.4 357.2 1153 361.4 1152.3 364.8C1151.6 368.2 1149.6 371.8 1147.1 374.2C1144.5 376.6 1140.6 378.1 1137 379.3C1133.4 380.5 1129.2 380.8 1125.3 381.1C1121.4 381.4 1117.4 381.3 1113.4 381.3C1109.4 381.3 1105.4 381.1 1101.4 381C1097.4 380.9 1093.4 380.7 1089.4 380.5C1085.4 380.3 1081.4 380.2 1077.4 380C1073.4 379.8 1069.4 379.7 1065.4 379.5C1061.4 379.3 1057.4 379 1053.4 378.7C1049.4 378.4 1045.5 378.1 1041.5 377.7C1037.5 377.3 1033.5 376.9 1029.5 376.5C1025.5 376.1 1021.6 375.7 1017.6 375.3C1013.6 374.9 1009.7 374.5 1005.7 374.1C1001.7 373.7 997.7 373.3 993.7 373C989.7 372.7 985.7 372.6 981.7 372.5C977.7 372.4 973.8 372.4 969.8 372.7C965.8 373 961.9 373.5 958 374.4C954.1 375.3 950.4 376.6 946.7 378.1C943.1 379.6 939.6 381.6 936.1 383.6C932.6 385.6 929.4 387.9 926 390C922.6 392.1 919.3 394.4 915.9 396.5C912.5 398.6 909.1 400.7 905.6 402.7C902.1 404.7 898.6 406.6 895 408.3C891.4 410 887.8 411.7 884.1 413.1C880.4 414.5 876.5 415.7 872.7 416.8C868.9 417.9 865 418.7 861.1 419.5C857.2 420.3 853.2 421 849.2 421.6C845.2 422.2 841.3 422.7 837.3 423.1C833.3 423.6 829.4 423.9 825.4 424.3C821.4 424.7 817.5 425 813.5 425.4C809.5 425.8 805.5 426.3 801.5 426.8C797.5 427.3 793.6 427.7 789.6 428.3C785.6 428.9 781.8 429.6 777.8 430.2C773.8 430.8 769.8 431.5 765.9 432.1C762 432.8 758 433.4 754.1 434.1C750.2 434.8 746.2 435.5 742.3 436.2C738.3 436.9 734.3 437.5 730.4 438.1C726.5 438.7 722.6 439.2 718.6 439.6C714.6 440 710.6 440.3 706.6 440.5C702.6 440.7 698.6 440.8 694.6 440.7C690.6 440.6 686.7 440.4 682.7 440C678.7 439.6 674.8 439.1 670.8 438.6C666.8 438.1 662.9 437.5 658.9 437C654.9 436.5 650.9 436.1 646.9 435.7C642.9 435.3 639 434.9 635 434.6C631 434.3 627 434.1 623 433.9C619 433.7 615 433.5 611 433.4C607 433.3 603 433.3 599 433.4C595 433.5 591.1 433.6 587.1 433.8C583.1 434 579.1 434.2 575.1 434.3C571.1 434.4 567.1 434.6 563.1 434.6C559.1 434.6 555.1 434.5 551.1 434.4C547.1 434.3 543.1 434.1 539.1 433.9C535.1 433.7 531.1 433.4 527.1 433C523.1 432.6 519.2 432.2 515.2 431.7C511.2 431.2 507.2 430.5 503.3 429.9C499.4 429.2 495.4 428.6 491.5 427.8C487.6 427.1 483.7 426.2 479.8 425.4C475.9 424.6 471.9 423.9 468 423.2C464.1 422.5 460.2 421.8 456.2 421.3C452.2 420.8 448.2 420.4 444.2 420.2C440.2 420 436.3 420 432.3 420C428.3 420 424.3 420.2 420.3 420.3C416.3 420.4 412.3 420.7 408.3 420.8C404.3 420.9 400.3 421.1 396.3 421C392.3 420.9 388.3 420.8 384.3 420.4C380.3 420 376.4 419.5 372.5 418.8C368.6 418.1 364.7 417.1 360.9 416C357.1 414.9 353.2 413.6 349.5 412.2C345.8 410.8 342.1 409 338.5 407.4C334.9 405.8 331.3 404 327.7 402.3C324.1 400.6 320.4 398.9 316.8 397.2C313.2 395.5 309.6 393.7 306 392C302.4 390.3 298.8 388.5 295.2 386.8C291.6 385.1 287.9 383.4 284.3 381.8C280.7 380.2 277 378.6 273.3 377.1C269.6 375.7 265.8 374.2 262 373.1C258.2 372 254.2 371.1 250.3 370.6C246.4 370.1 242.4 369.8 238.5 369.9C234.6 370 230.5 370.5 226.6 371.1C222.7 371.7 218.8 372.8 214.9 373.7C211 374.6 207.2 375.7 203.3 376.8C199.5 377.9 195.7 379 191.8 380.1C188 381.2 184.1 382.3 180.2 383.2C176.3 384.1 172.4 385 168.5 385.6C164.6 386.2 160.6 386.6 156.6 386.8C152.6 387 148.6 386.9 144.6 386.7C140.6 386.4 136.7 386 132.8 385.3C128.9 384.6 125 383.7 121.1 382.7C117.2 381.7 113.4 380.6 109.6 379.3C105.8 378 102.1 376.5 98.5 374.8C94.9 373.1 91.4 371.3 88 369.2C84.6 367.1 81.3 364.8 78.2 362.3C75.1 359.8 72.2 357.1 69.6 354.1C67 351.2 64.6 347.9 62.4 344.6C60.2 341.3 58.3 337.8 56.5 334.2C54.7 330.6 53.2 327 51.7 323.3C50.2 319.6 48.9 315.8 47.7 312C46.5 308.2 45.4 304.1 44.7 300.5C44 296.9 43.5 292.6 43.4 290.2C43.3 287.8 43 288 43.9 285.9Z"/>
<path fill="#c1ff36" d="M557.1 352.9C557 350.5 557.2 346.1 557.6 342.4C558 338.7 558.9 334.5 559.8 330.6C560.7 326.7 561.8 322.9 562.8 319C563.8 315.1 564.9 311.3 566 307.5C567.1 303.7 568.4 299.8 569.7 296C571 292.2 572.2 288.5 573.9 284.9C575.6 281.3 577.6 277.7 579.7 274.4C581.9 271.1 584.1 267.8 586.8 264.9C589.4 262 592.5 259.4 595.6 256.9C598.7 254.4 602 252.1 605.4 250.1C608.8 248.1 612.5 246.4 616.2 244.8C619.9 243.2 623.6 242 627.4 240.8C631.2 239.6 635.1 238.6 639 237.8C642.9 237 646.8 236.3 650.8 235.8C654.8 235.3 658.7 235 662.7 234.6C666.7 234.2 670.7 233.8 674.7 233.5C678.7 233.2 682.7 232.8 686.7 232.5C690.7 232.2 694.6 231.8 698.6 231.4C702.6 231 706.5 230.6 710.5 230.2C714.5 229.8 718.5 229.4 722.5 229.1C726.5 228.8 730.5 228.4 734.5 228.1C738.5 227.8 742.4 227.4 746.4 227.1C750.4 226.8 754.4 226.6 758.4 226.3C762.4 226.1 766.4 225.8 770.4 225.6C774.4 225.4 778.4 225.2 782.4 225.1C786.4 224.9 790.3 224.8 794.3 224.7C798.3 224.6 802.3 224.4 806.3 224.4C810.3 224.4 814.3 224.4 818.3 224.5C822.3 224.6 826.3 224.7 830.3 225.2C834.2 225.7 838.4 226.1 842 227.3C845.6 228.6 849.4 230.2 852.1 232.7C854.8 235.2 856.8 238.8 858 242.3C859.2 245.9 859.2 250.1 859.5 254C859.8 257.9 859.7 262 859.7 266C859.7 270 859.5 274 859.4 278C859.3 282 859.2 286 859.1 290C859 294 858.8 298 858.5 302C858.2 306 858.1 310.1 857.6 314C857.1 317.9 856.5 321.9 855.2 325.6C854 329.3 852.3 333 850.1 336.2C847.9 339.4 845 342.3 842 344.7C839 347.1 835.3 349 831.8 350.8C828.3 352.6 824.5 354 820.8 355.3C817 356.6 813.1 357.7 809.3 358.8C805.4 359.9 801.6 360.9 797.7 362C793.9 363.1 790 364.1 786.2 365.2C782.4 366.3 778.5 367.6 774.7 368.8C770.9 370 767.1 371.2 763.3 372.4C759.5 373.6 755.6 374.7 751.8 375.8C747.9 376.9 744.1 378 740.2 378.8C736.3 379.6 732.4 380.3 728.4 380.9C724.4 381.5 720.5 382.1 716.5 382.4C712.5 382.7 708.5 382.6 704.5 382.5C700.5 382.4 696.6 382.3 692.6 382C688.6 381.7 684.6 381.3 680.6 380.8C676.6 380.3 672.7 379.6 668.7 379.1C664.7 378.6 660.8 378.1 656.8 377.7C652.8 377.3 648.9 377 644.9 376.7C640.9 376.4 636.9 376.1 632.9 375.9C628.9 375.7 624.9 375.6 620.9 375.5C616.9 375.4 612.9 375.4 608.9 375.3C604.9 375.2 600.9 375.3 596.9 375.1C592.9 374.9 588.9 374.5 585 373.9C581.1 373.2 577.1 372.6 573.5 371.2C569.9 369.8 566.1 367.8 563.5 365.4C560.9 363 559.1 359.1 558 357C556.9 354.9 557.2 355.3 557.1 352.9Z"/>
</g>
<use href="#coast"/>
</g>
<rect class="frame" x="0" y="0" width="1331.1" height="655.8"/>
</g>
<text class="ttl" x="743.6" y="2077.1" text-anchor="middle" textLength="1315" lengthAdjust="spacingAndGlyphs" xml:space="preserve">Plasmasphere (h=1500.0 km), 2020-09-04 18:00 UT</text>
<rect x="78.4" y="2801.3" width="222.4" height="65.6" fill="#0000df"/>
<rect x="300.2" y="2801.3" width="222.4" height="65.6" fill="#0080ff"/>
<rect x="522.1" y="2801.3" width="222.4" height="65.6" fill="#36ffc1"/>
<rect x="743.9" y="2801.3" width="222.4" height="65.6" fill="#c1ff36"/>
<rect x="965.8" y="2801.3" width="222.4" height="65.6" fill="#ff9400"/>
<rect x="1187.7" y="2801.3" width="221.8" height="65.6" fill="#df0000"/>
<rect class="frame" x="78.4" y="2801.3" width="1331.1" height="65.6"/>
<line class="tick" x1="78.4" y1="2866.9" x2="78.4" y2="2882.4"/>
<text class="lbl" x="78.4" y="2928.9" text-anchor="middle" textLength="65.3" lengthAdjust="spacingAndGlyphs">0.0</text>
<line class="tick" x1="300.2" y1="2866.9" x2="300.2" y2="2882.4"/>
<text class="lbl" x="300.2" y="2928.9" text-anchor="middle" textLength="65.3" lengthAdjust="spacingAndGlyphs">2.5</text>
<line class="tick" x1="522.1" y1="2866.9" x2="522.1" y2="2882.4"/>
<text class="lbl" x="522.1" y="2928.9" text-anchor="middle" textLength="65.3" lengthAdjust="spacingAndGlyphs">5.0</text>
<line class="tick" x1="743.9" y1="2866.9" x2="743.9" y2="2882.4"/>
<text class="lbl" x="743.9" y="2928.9" text-anchor="middle" textLength="65.3" lengthAdjust="spacingAndGlyphs">7.5</text>
<line class="tick" x1="965.8" y1="2866.9" x2="965.8" y2="2882.4"/>
<text class="lbl" x="965.8" y="2928.9" text-anchor="middle" textLength="91.4" lengthAdjust="spacingAndGlyphs">10.0</text>
<line class="tick" x1="1187.7" y1="2866.9" x2="1187.7" y2="2882.4"/>
<text class="lbl" x="1187.7" y="2928.9" text-anchor="middle" textLength="91.4" lengthAdjust="spacingAndGlyphs">12.5</text>
<line class="tick" x1="1409.5" y1="2866.9" x2="1409.5" y2="2882.4"/>
<text class="lbl" x="1409.5" y="2928.9" text-anchor="middle" textLength="91.4" lengthAdjust="spacingAndGlyphs">15.0</text>
</svg>
</body>
</html>
